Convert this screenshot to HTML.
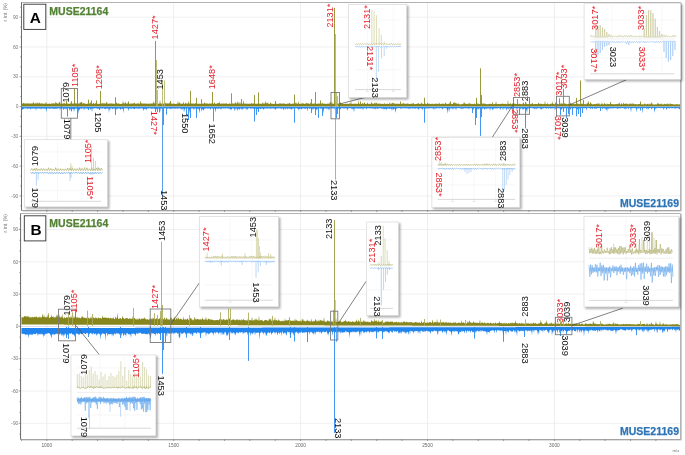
<!DOCTYPE html>
<html><head><meta charset="utf-8"><style>
html,body{margin:0;padding:0;background:#fff;width:685px;height:455px;overflow:hidden;}
svg{display:block;position:absolute;left:0;top:0;will-change:transform;}
text{font-family:"Liberation Sans",sans-serif;}
</style></head><body>
<svg width="685" height="455" viewBox="0 0 685 455" font-family="Liberation Sans, sans-serif">
<defs><filter id="sh" x="-10%" y="-10%" width="130%" height="130%"><feGaussianBlur stdDeviation="0.9"/></filter></defs>
<rect width="685" height="455" fill="#fff"/>
<line x1="46.8" y1="2.5" x2="46.8" y2="210.5" stroke="#e9e9e9" stroke-width="0.8"/>
<line x1="173.7" y1="2.5" x2="173.7" y2="210.5" stroke="#e9e9e9" stroke-width="0.8"/>
<line x1="300.6" y1="2.5" x2="300.6" y2="210.5" stroke="#e9e9e9" stroke-width="0.8"/>
<line x1="427.5" y1="2.5" x2="427.5" y2="210.5" stroke="#e9e9e9" stroke-width="0.8"/>
<line x1="554.4" y1="2.5" x2="554.4" y2="210.5" stroke="#e9e9e9" stroke-width="0.8"/>
<line x1="21.5" y1="17.15" x2="680.5" y2="17.15" stroke="#ececec" stroke-width="0.8"/>
<line x1="21.5" y1="46.95" x2="680.5" y2="46.95" stroke="#ececec" stroke-width="0.8"/>
<line x1="21.5" y1="76.75" x2="680.5" y2="76.75" stroke="#ececec" stroke-width="0.8"/>
<line x1="21.5" y1="136.35" x2="680.5" y2="136.35" stroke="#ececec" stroke-width="0.8"/>
<line x1="21.5" y1="166.15" x2="680.5" y2="166.15" stroke="#ececec" stroke-width="0.8"/>
<line x1="21.5" y1="195.95" x2="680.5" y2="195.95" stroke="#ececec" stroke-width="0.8"/>
<rect x="21.5" y="2.5" width="659" height="208" fill="none" stroke="#a0a0a0" stroke-width="0.8"/>
<line x1="681.4" y1="3.0" x2="681.4" y2="211.0" stroke="#c8c8c8" stroke-width="1"/>
<line x1="22.5" y1="211.5" x2="681.5" y2="211.5" stroke="#e0e0e0" stroke-width="1"/>
<line x1="21.5" y1="2.5" x2="21.5" y2="210.5" stroke="#5c5c5c" stroke-width="0.8"/>
<line x1="21.5" y1="210.5" x2="680.5" y2="210.5" stroke="#a0a0a0" stroke-width="0.8"/>
<line x1="20.2" y1="205.88" x2="21.5" y2="205.88" stroke="#666" stroke-width="0.6"/>
<line x1="19.5" y1="195.95" x2="21.5" y2="195.95" stroke="#666" stroke-width="0.6"/>
<line x1="20.2" y1="186.01" x2="21.5" y2="186.01" stroke="#666" stroke-width="0.6"/>
<line x1="20.2" y1="176.08" x2="21.5" y2="176.08" stroke="#666" stroke-width="0.6"/>
<line x1="19.5" y1="166.15" x2="21.5" y2="166.15" stroke="#666" stroke-width="0.6"/>
<line x1="20.2" y1="156.22" x2="21.5" y2="156.22" stroke="#666" stroke-width="0.6"/>
<line x1="20.2" y1="146.28" x2="21.5" y2="146.28" stroke="#666" stroke-width="0.6"/>
<line x1="19.5" y1="136.35" x2="21.5" y2="136.35" stroke="#666" stroke-width="0.6"/>
<line x1="20.2" y1="126.42" x2="21.5" y2="126.42" stroke="#666" stroke-width="0.6"/>
<line x1="20.2" y1="116.48" x2="21.5" y2="116.48" stroke="#666" stroke-width="0.6"/>
<line x1="19.5" y1="106.55" x2="21.5" y2="106.55" stroke="#666" stroke-width="0.6"/>
<line x1="20.2" y1="96.62" x2="21.5" y2="96.62" stroke="#666" stroke-width="0.6"/>
<line x1="20.2" y1="86.68" x2="21.5" y2="86.68" stroke="#666" stroke-width="0.6"/>
<line x1="19.5" y1="76.75" x2="21.5" y2="76.75" stroke="#666" stroke-width="0.6"/>
<line x1="20.2" y1="66.82" x2="21.5" y2="66.82" stroke="#666" stroke-width="0.6"/>
<line x1="20.2" y1="56.88" x2="21.5" y2="56.88" stroke="#666" stroke-width="0.6"/>
<line x1="19.5" y1="46.95" x2="21.5" y2="46.95" stroke="#666" stroke-width="0.6"/>
<line x1="20.2" y1="37.02" x2="21.5" y2="37.02" stroke="#666" stroke-width="0.6"/>
<line x1="20.2" y1="27.09" x2="21.5" y2="27.09" stroke="#666" stroke-width="0.6"/>
<line x1="19.5" y1="17.15" x2="21.5" y2="17.15" stroke="#666" stroke-width="0.6"/>
<line x1="20.2" y1="7.22" x2="21.5" y2="7.22" stroke="#666" stroke-width="0.6"/>
<text x="18.3" y="18.85" font-size="4.8" fill="#777" text-anchor="end">90</text>
<text x="18.3" y="48.65" font-size="4.8" fill="#777" text-anchor="end">60</text>
<text x="18.3" y="78.45" font-size="4.8" fill="#777" text-anchor="end">30</text>
<text x="18.3" y="108.25" font-size="4.8" fill="#777" text-anchor="end">0</text>
<text x="18.3" y="138.05" font-size="4.8" fill="#777" text-anchor="end">-30</text>
<text x="18.3" y="167.85" font-size="4.8" fill="#777" text-anchor="end">-60</text>
<text x="18.3" y="197.65" font-size="4.8" fill="#777" text-anchor="end">-90</text>
<line x1="46.8" y1="210.5" x2="46.8" y2="212" stroke="#666" stroke-width="0.6"/>
<line x1="72.18" y1="210.5" x2="72.18" y2="212" stroke="#666" stroke-width="0.6"/>
<line x1="97.56" y1="210.5" x2="97.56" y2="212" stroke="#666" stroke-width="0.6"/>
<line x1="122.94" y1="210.5" x2="122.94" y2="212" stroke="#666" stroke-width="0.6"/>
<line x1="148.32" y1="210.5" x2="148.32" y2="212" stroke="#666" stroke-width="0.6"/>
<line x1="173.7" y1="210.5" x2="173.7" y2="212" stroke="#666" stroke-width="0.6"/>
<line x1="199.08" y1="210.5" x2="199.08" y2="212" stroke="#666" stroke-width="0.6"/>
<line x1="224.46" y1="210.5" x2="224.46" y2="212" stroke="#666" stroke-width="0.6"/>
<line x1="249.84" y1="210.5" x2="249.84" y2="212" stroke="#666" stroke-width="0.6"/>
<line x1="275.22" y1="210.5" x2="275.22" y2="212" stroke="#666" stroke-width="0.6"/>
<line x1="300.6" y1="210.5" x2="300.6" y2="212" stroke="#666" stroke-width="0.6"/>
<line x1="325.98" y1="210.5" x2="325.98" y2="212" stroke="#666" stroke-width="0.6"/>
<line x1="351.36" y1="210.5" x2="351.36" y2="212" stroke="#666" stroke-width="0.6"/>
<line x1="376.74" y1="210.5" x2="376.74" y2="212" stroke="#666" stroke-width="0.6"/>
<line x1="402.12" y1="210.5" x2="402.12" y2="212" stroke="#666" stroke-width="0.6"/>
<line x1="427.5" y1="210.5" x2="427.5" y2="212" stroke="#666" stroke-width="0.6"/>
<line x1="452.88" y1="210.5" x2="452.88" y2="212" stroke="#666" stroke-width="0.6"/>
<line x1="478.26" y1="210.5" x2="478.26" y2="212" stroke="#666" stroke-width="0.6"/>
<line x1="503.64" y1="210.5" x2="503.64" y2="212" stroke="#666" stroke-width="0.6"/>
<line x1="529.02" y1="210.5" x2="529.02" y2="212" stroke="#666" stroke-width="0.6"/>
<line x1="554.4" y1="210.5" x2="554.4" y2="212" stroke="#666" stroke-width="0.6"/>
<line x1="579.78" y1="210.5" x2="579.78" y2="212" stroke="#666" stroke-width="0.6"/>
<line x1="605.16" y1="210.5" x2="605.16" y2="212" stroke="#666" stroke-width="0.6"/>
<line x1="630.54" y1="210.5" x2="630.54" y2="212" stroke="#666" stroke-width="0.6"/>
<line x1="655.92" y1="210.5" x2="655.92" y2="212" stroke="#666" stroke-width="0.6"/>
<text transform="translate(7.2,21.5) rotate(-90)" font-size="4.6" fill="#777">r. int. (%)</text>
<polygon points="21.5,103.84 22,103.69 22.5,103.9 23,102.54 23.5,103.27 24,103.25 24.5,103.5 25,103.5 25.5,103.54 26,103.46 26.5,103.34 27,103.87 27.5,103.53 28,103.34 28.5,103.54 29,103.62 29.5,103.5 30,103.68 30.5,103.83 31,102.99 31.5,103.57 32,103.76 32.5,103.28 33,103.61 33.5,101.22 34,103.52 34.5,103.4 35,103.67 35.5,103.48 36,102.55 36.5,103.71 37,103.26 37.5,103.19 38,102.03 38.5,103.93 39,103.46 39.5,102.35 40,103.38 40.5,103.38 41,103.7 41.5,103.28 42,103.28 42.5,103.81 43,103.36 43.5,103.89 44,103.43 44.5,103.72 45,103.67 45.5,103.56 46,101.41 46.5,103.86 47,103.65 47.5,103.77 48,103.77 48.5,103.7 49,103.66 49.5,103.58 50,103.83 50.5,103.72 51,103.88 51.5,103.41 52,103.31 52.5,103.59 53,103.62 53.5,103.29 54,103.36 54.5,103.64 55,103.84 55.5,101.4 56,103.61 56.5,102.62 57,103.45 57.5,103.52 58,103.4 58.5,103.92 59,101.83 59.5,102.17 60,102.62 60.5,103.89 61,103.63 61.5,103.77 62,103.74 62.5,103.42 63,103.67 63.5,103.57 64,102.52 64.5,103.6 65,103.37 65.5,103.71 66,103.77 66.5,103.48 67,103.63 67.5,103.27 68,103.74 68.5,103.62 69,103.95 69.5,103.92 70,103.43 70.5,103.68 71,102.16 71.5,103.44 72,103.6 72.5,103.55 73,103.79 73.5,103.56 74,103.61 74.5,103.49 75,102.31 75.5,103.61 76,103.42 76.5,103.34 77,103.95 77.5,103.48 78,103.63 78.5,103.3 79,103.77 79.5,103.55 80,102.36 80.5,103.33 81,101.8 81.5,103.95 82,101.88 82.5,103.68 83,103.66 83.5,102.8 84,103.6 84.5,103.39 85,103.57 85.5,103.64 86,103.92 86.5,103.72 87,103.77 87.5,103.68 88,103.61 88.5,103.64 89,103.89 89.5,103.34 90,103.59 90.5,101.83 91,103.81 91.5,103.65 92,103.94 92.5,103.96 93,103.36 93.5,102.81 94,103.51 94.5,103.93 95,103.51 95.5,103.51 96,102.43 96.5,103.95 97,103.51 97.5,103.79 98,103.94 98.5,103.78 99,103.94 99.5,103.82 100,103.82 100.5,103.8 101,103.29 101.5,103.67 102,103.26 102.5,103.13 103,103.26 103.5,103.31 104,103.7 104.5,103.4 105,102.87 105.5,103.66 106,103.83 106.5,102.05 107,102.08 107.5,103.72 108,103.78 108.5,103.96 109,103.3 109.5,103.69 110,103.31 110.5,103.42 111,103.71 111.5,103.44 112,102.92 112.5,103.78 113,103.65 113.5,103.49 114,103.88 114.5,103.7 115,103.79 115.5,103.69 116,103.4 116.5,101.99 117,103.52 117.5,103.7 118,103.42 118.5,103.53 119,103.31 119.5,103.96 120,103.75 120.5,103.92 121,103.9 121.5,103.75 122,103.72 122.5,103.71 123,100.03 123.5,103.85 124,102.79 124.5,103.6 125,103.4 125.5,101.36 126,103.7 126.5,103.86 127,103.38 127.5,103.69 128,102.35 128.5,103.44 129,103.53 129.5,103.67 130,103.95 130.5,103.43 131,103.42 131.5,103.61 132,103.43 132.5,103.71 133,103.27 133.5,103.28 134,103.85 134.5,102.21 135,103.87 135.5,103.79 136,103.52 136.5,103.85 137,103.53 137.5,103.57 138,103.53 138.5,103.28 139,103.66 139.5,103.8 140,103.51 140.5,102.64 141,103.88 141.5,102.94 142,103.56 142.5,103.88 143,102.63 143.5,103.79 144,103.66 144.5,103.34 145,103.93 145.5,103.32 146,103.53 146.5,103.77 147,103.97 147.5,103.46 148,103.74 148.5,103.38 149,103.67 149.5,103.53 150,103.97 150.5,103.32 151,103.75 151.5,103.49 152,103.39 152.5,103.47 153,103.54 153.5,101.01 154,103.53 154.5,102.84 155,103.93 155.5,103.9 156,101.76 156.5,103.78 157,103.76 157.5,103.78 158,103.31 158.5,103.96 159,103.74 159.5,103.38 160,99.38 160.5,103.64 161,103.32 161.5,103.63 162,103.49 162.5,103.7 163,103.31 163.5,103.63 164,103.66 164.5,103.53 165,102.07 165.5,103.44 166,103.36 166.5,103.49 167,103.16 167.5,103.85 168,103.11 168.5,103.47 169,103.91 169.5,102.12 170,103.66 170.5,103.35 171,103.69 171.5,103.44 172,103.54 172.5,103.92 173,103.55 173.5,103.55 174,103.86 174.5,103.64 175,103.88 175.5,103.92 176,103.63 176.5,103.7 177,103.71 177.5,103.74 178,100.76 178.5,103.47 179,103.43 179.5,101.83 180,103.83 180.5,103.42 181,103.61 181.5,103.8 182,103.86 182.5,103.66 183,103.74 183.5,101.6 184,103.55 184.5,103.92 185,103.89 185.5,102.15 186,103.44 186.5,103.62 187,103.61 187.5,103.53 188,103.65 188.5,100.78 189,103.7 189.5,103.55 190,103.31 190.5,103.97 191,103.39 191.5,103.46 192,103.61 192.5,103.71 193,103.32 193.5,103.78 194,103.45 194.5,103.96 195,103.35 195.5,103.36 196,103.51 196.5,103.53 197,103.8 197.5,103.74 198,103.82 198.5,103.7 199,103.52 199.5,103.69 200,103.67 200.5,103.85 201,103.92 201.5,103.91 202,103.97 202.5,103.49 203,103.35 203.5,104 204,103.49 204.5,102.6 205,102.72 205.5,103.73 206,103.61 206.5,103.51 207,103.32 207.5,103.71 208,103.58 208.5,104.01 209,103.44 209.5,103.44 210,103.41 210.5,103.76 211,103.48 211.5,103.53 212,103.48 212.5,101.9 213,103.39 213.5,103.88 214,103.61 214.5,101.98 215,103.46 215.5,104 216,103.83 216.5,103.47 217,103.99 217.5,102.86 218,103.38 218.5,102.83 219,103.54 219.5,101.35 220,103.77 220.5,103.98 221,103.32 221.5,103.54 222,103.94 222.5,103.34 223,104.01 223.5,102.93 224,103.92 224.5,103.43 225,103.44 225.5,103.75 226,102.88 226.5,103.43 227,103.8 227.5,103.98 228,103.68 228.5,103.76 229,103.95 229.5,102.92 230,103.78 230.5,103.89 231,103.62 231.5,103.88 232,103.83 232.5,103.45 233,102.69 233.5,103.79 234,104.01 234.5,103.84 235,102.57 235.5,101.89 236,103.76 236.5,103.36 237,103.65 237.5,102.22 238,100.88 238.5,103.52 239,103.83 239.5,103.42 240,101.57 240.5,103.66 241,103.79 241.5,103.34 242,103.44 242.5,103.85 243,103.66 243.5,99.66 244,103.41 244.5,103.84 245,103.38 245.5,103.73 246,103.58 246.5,103.84 247,103.68 247.5,103.86 248,103.63 248.5,103.71 249,103.82 249.5,103.77 250,103.43 250.5,103.84 251,103.92 251.5,102.88 252,103.36 252.5,103.79 253,103.46 253.5,103.51 254,103.4 254.5,103.63 255,103.75 255.5,103.77 256,103.83 256.5,103.81 257,103.73 257.5,103.63 258,103.45 258.5,103.4 259,103.5 259.5,103.68 260,103.63 260.5,103.67 261,103.64 261.5,103.73 262,103.67 262.5,103.36 263,102.04 263.5,103.75 264,103.91 264.5,103.35 265,103.49 265.5,100.39 266,103.66 266.5,103.35 267,102.42 267.5,103.47 268,102.5 268.5,103.93 269,103.64 269.5,104.01 270,103.74 270.5,101.69 271,103.84 271.5,103.39 272,103.9 272.5,103.5 273,103.92 273.5,103.97 274,104.01 274.5,103.92 275,102.91 275.5,103.47 276,103.94 276.5,103.38 277,103.9 277.5,103.87 278,103.88 278.5,103.97 279,103.52 279.5,103.84 280,102.82 280.5,103.81 281,103.39 281.5,103.42 282,103.97 282.5,103.6 283,103.57 283.5,103.62 284,103.56 284.5,103.85 285,103.62 285.5,103.88 286,104.06 286.5,104.03 287,103.67 287.5,103.54 288,103.48 288.5,103.77 289,103.48 289.5,102.72 290,103.45 290.5,103.68 291,103.89 291.5,103.85 292,103.9 292.5,103.82 293,103.01 293.5,103.95 294,103.53 294.5,103.82 295,103.93 295.5,102.91 296,102.08 296.5,103.39 297,103.77 297.5,103.62 298,103.9 298.5,100.96 299,103.96 299.5,103.85 300,103.69 300.5,104.05 301,103.58 301.5,103.73 302,103.27 302.5,103.17 303,103.48 303.5,103.62 304,103.77 304.5,103.96 305,103.84 305.5,103.4 306,103.41 306.5,102.39 307,103.74 307.5,103.46 308,102.88 308.5,103.69 309,103.46 309.5,103.91 310,103.7 310.5,102.55 311,103.48 311.5,104.01 312,102.72 312.5,103.99 313,103.83 313.5,103.79 314,103.69 314.5,102.88 315,104 315.5,103.58 316,103.53 316.5,103.96 317,104.01 317.5,103.89 318,102.4 318.5,104.08 319,103.48 319.5,103.52 320,103.98 320.5,103.67 321,103.68 321.5,103.69 322,102.96 322.5,102.65 323,103.91 323.5,103.4 324,103.65 324.5,103.54 325,103.89 325.5,103.65 326,104.06 326.5,103.76 327,103.86 327.5,103.79 328,103.45 328.5,103.45 329,104.05 329.5,103.56 330,101.97 330.5,101.34 331,103.68 331.5,103.59 332,101.79 332.5,103.73 333,103.96 333.5,103.82 334,103.73 334.5,103.69 335,99.37 335.5,104.04 336,102.69 336.5,103.65 337,103.93 337.5,103.89 338,103.92 338.5,103.15 339,103.42 339.5,103.83 340,103.46 340.5,101.75 341,103.43 341.5,103.55 342,104.04 342.5,103.83 343,103.83 343.5,103.96 344,103.96 344.5,103.91 345,104.01 345.5,103.59 346,103.78 346.5,103.7 347,103.97 347.5,103.52 348,104.1 348.5,104.02 349,103.46 349.5,103.51 350,103.57 350.5,103.96 351,100.16 351.5,104 352,103.78 352.5,103.88 353,103.62 353.5,104.08 354,103.87 354.5,103.65 355,103.85 355.5,103.86 356,103.42 356.5,103.7 357,104.05 357.5,104.1 358,103.75 358.5,100.37 359,103.69 359.5,103.86 360,103.91 360.5,103.71 361,103.63 361.5,104.04 362,103.77 362.5,102.64 363,103.53 363.5,104.05 364,103.58 364.5,101.87 365,103.58 365.5,103.88 366,103.9 366.5,103.74 367,103.92 367.5,101.98 368,103.71 368.5,103.89 369,103.69 369.5,103.74 370,103.65 370.5,104.1 371,103.8 371.5,101.42 372,103.52 372.5,103.57 373,104.12 373.5,103.61 374,104.08 374.5,102.25 375,103.86 375.5,103.54 376,102.12 376.5,103.76 377,102.21 377.5,104.01 378,103.81 378.5,104.02 379,102.87 379.5,103.97 380,103.6 380.5,103.85 381,103.71 381.5,104.03 382,103.81 382.5,104.01 383,104.02 383.5,103.87 384,103.68 384.5,102.99 385,103.77 385.5,104.06 386,104.14 386.5,103.78 387,103.69 387.5,103.47 388,103.92 388.5,104.1 389,103.79 389.5,103.58 390,101.81 390.5,104.13 391,103.65 391.5,103.59 392,103.85 392.5,103.06 393,102.17 393.5,103.84 394,102.75 394.5,103.82 395,104.03 395.5,103.55 396,103.69 396.5,103.93 397,103.55 397.5,103.63 398,103.76 398.5,103.69 399,103.86 399.5,103.89 400,103.67 400.5,104.08 401,103.48 401.5,103.64 402,104.04 402.5,104.12 403,102.16 403.5,103.53 404,103.62 404.5,103.64 405,103.81 405.5,103.64 406,104.05 406.5,103.55 407,103.64 407.5,103.61 408,103.61 408.5,103.64 409,103.9 409.5,104.04 410,103.99 410.5,103.73 411,104.17 411.5,103.52 412,103.77 412.5,103.53 413,103.62 413.5,102.63 414,104.13 414.5,103.94 415,104.15 415.5,103.95 416,103.84 416.5,103.95 417,103.72 417.5,103.58 418,103.7 418.5,102.64 419,104.01 419.5,103.91 420,103.73 420.5,103.72 421,103.63 421.5,102.09 422,104.17 422.5,103.54 423,103.99 423.5,103.93 424,104.07 424.5,103.77 425,102.74 425.5,104.02 426,104.01 426.5,104.19 427,103.56 427.5,102.32 428,104.14 428.5,103.77 429,103.56 429.5,103.65 430,103.85 430.5,104.13 431,103.87 431.5,103.94 432,103.67 432.5,103.69 433,103.7 433.5,104.13 434,104.03 434.5,104.08 435,103.54 435.5,104.18 436,102.68 436.5,104.2 437,103.79 437.5,104.08 438,103.66 438.5,104.21 439,102.34 439.5,103.82 440,103.67 440.5,104.18 441,103.76 441.5,104.1 442,103.72 442.5,103.74 443,103.56 443.5,103.73 444,104.23 444.5,104.05 445,103.54 445.5,102.19 446,103.86 446.5,103.6 447,104.15 447.5,104.07 448,103.94 448.5,103.65 449,103.98 449.5,102.55 450,103.91 450.5,103.61 451,104.16 451.5,103.75 452,104.21 452.5,103.75 453,103.92 453.5,102.11 454,103.67 454.5,102.23 455,102.22 455.5,103.81 456,102.73 456.5,103.69 457,103.63 457.5,103.87 458,103.84 458.5,103.29 459,104.24 459.5,104.17 460,104.18 460.5,104.19 461,104.19 461.5,104.16 462,104.26 462.5,103.9 463,103.81 463.5,103.63 464,102.09 464.5,102.72 465,104.02 465.5,103.58 466,103.68 466.5,104.09 467,103.65 467.5,103.73 468,104.2 468.5,104.01 469,102.6 469.5,103.63 470,103.55 470.5,103.77 471,103.79 471.5,104.1 472,104.13 472.5,103.86 473,104.07 473.5,104.18 474,104.09 474.5,103.25 475,104.21 475.5,104.26 476,103.72 476.5,101.87 477,104.16 477.5,103.83 478,102.57 478.5,104.19 479,103.92 479.5,104.02 480,104.14 480.5,103.96 481,103.7 481.5,104.21 482,103.25 482.5,103.52 483,104.24 483.5,103.68 484,102.58 484.5,104.15 485,103.78 485.5,103.83 486,103.96 486.5,104.28 487,104.14 487.5,104.2 488,103.7 488.5,104.14 489,104.08 489.5,103.78 490,103.83 490.5,103.64 491,104.15 491.5,103.99 492,104.02 492.5,101.24 493,103.81 493.5,104.2 494,104.27 494.5,103.99 495,103.71 495.5,104.03 496,100.63 496.5,103.72 497,104.23 497.5,103.75 498,104.26 498.5,103.83 499,103.95 499.5,103.88 500,104.31 500.5,103.87 501,104.02 501.5,103.65 502,104.07 502.5,103.74 503,103.2 503.5,104.08 504,103.95 504.5,103.65 505,103.88 505.5,103.79 506,103.91 506.5,104.19 507,103.98 507.5,104.14 508,99.47 508.5,104.04 509,103.95 509.5,103.78 510,104.2 510.5,102.84 511,103.78 511.5,104.2 512,104.18 512.5,103.04 513,104.04 513.5,103.39 514,103.91 514.5,103.88 515,103.8 515.5,103.79 516,104.3 516.5,103.68 517,104.21 517.5,103.84 518,103.52 518.5,104.19 519,103.81 519.5,103.7 520,103.9 520.5,103.71 521,104.3 521.5,104.29 522,104.32 522.5,104.14 523,102.7 523.5,102.24 524,103.72 524.5,104.16 525,104.27 525.5,104.12 526,103.67 526.5,103.16 527,103.96 527.5,104.13 528,104.11 528.5,104.29 529,103.92 529.5,103.72 530,103.84 530.5,104.1 531,104.13 531.5,103.78 532,103.85 532.5,102.67 533,103.82 533.5,104.2 534,104.21 534.5,104.05 535,104.16 535.5,103.75 536,103.97 536.5,104.04 537,104.23 537.5,103.89 538,104.08 538.5,102.37 539,103.86 539.5,103.69 540,103.73 540.5,103.87 541,104.28 541.5,103.83 542,103.78 542.5,104.37 543,103.72 543.5,104.29 544,103.97 544.5,104.03 545,100.47 545.5,104.27 546,103.98 546.5,103.9 547,104.36 547.5,102.75 548,103.95 548.5,104.23 549,104.19 549.5,104.18 550,104.09 550.5,104.07 551,102.95 551.5,104.1 552,104.3 552.5,101.29 553,104.1 553.5,103.89 554,103.81 554.5,104.17 555,104.28 555.5,101.74 556,104.04 556.5,104.18 557,104.23 557.5,103.77 558,103.84 558.5,104.37 559,104.37 559.5,103.78 560,104.35 560.5,103.89 561,102.3 561.5,104.13 562,103.08 562.5,103.74 563,104.26 563.5,104.3 564,104.38 564.5,102.54 565,104 565.5,103.82 566,103.54 566.5,103.88 567,104.14 567.5,104.14 568,104 568.5,103.8 569,103.74 569.5,104.25 570,104.09 570.5,102.27 571,104.03 571.5,103.69 572,104.13 572.5,103.98 573,103.98 573.5,103.78 574,103.88 574.5,104.16 575,103.63 575.5,104.07 576,104.18 576.5,103.94 577,103.18 577.5,103.79 578,103.32 578.5,104.12 579,104.3 579.5,103.91 580,104.14 580.5,103.93 581,103.78 581.5,104.07 582,103.14 582.5,103.92 583,104.2 583.5,102.12 584,104.44 584.5,104.02 585,104.21 585.5,103.86 586,104.25 586.5,104.42 587,102.54 587.5,103.99 588,102.23 588.5,100.6 589,104.34 589.5,104.28 590,103.79 590.5,101.93 591,102.89 591.5,104.04 592,104.09 592.5,104.38 593,104.36 593.5,104.19 594,103.71 594.5,104.31 595,103.94 595.5,104.16 596,104.35 596.5,103.18 597,104.31 597.5,103.99 598,102.7 598.5,104.45 599,102.53 599.5,104.18 600,104.49 600.5,104.43 601,104.3 601.5,104.01 602,102.13 602.5,104.15 603,104.29 603.5,104.4 604,104.01 604.5,102.39 605,103.99 605.5,104 606,104.5 606.5,104.39 607,102.89 607.5,104.28 608,104.09 608.5,104.11 609,104.24 609.5,104.31 610,104.04 610.5,104.02 611,103.86 611.5,104.23 612,104 612.5,104.3 613,104.37 613.5,104.04 614,104.47 614.5,104.15 615,104.36 615.5,104 616,104.18 616.5,103.91 617,103.84 617.5,103.92 618,104.22 618.5,103.01 619,104.51 619.5,101.74 620,104.51 620.5,104.39 621,104.12 621.5,103.01 622,103.76 622.5,104.45 623,104.36 623.5,102.35 624,103.84 624.5,103.99 625,103.98 625.5,103.84 626,103.18 626.5,104.05 627,103.2 627.5,103.93 628,104.15 628.5,104.28 629,104.31 629.5,103.88 630,102.75 630.5,103.99 631,104.03 631.5,104.2 632,102.71 632.5,103.78 633,104.46 633.5,102.98 634,104.15 634.5,104.16 635,103.88 635.5,104.06 636,104.37 636.5,104.19 637,104.19 637.5,104.32 638,104.48 638.5,103.93 639,104.01 639.5,104.05 640,104.18 640.5,103.15 641,103.9 641.5,104.4 642,104.42 642.5,104.22 643,104.42 643.5,104.29 644,104.24 644.5,104.07 645,103.11 645.5,104.42 646,104.4 646.5,104.14 647,104.03 647.5,104.11 648,103.27 648.5,104.48 649,104.21 649.5,104.57 650,102.91 650.5,104.37 651,104.13 651.5,102.76 652,102.26 652.5,104.53 653,104.27 653.5,104.51 654,104.52 654.5,104.45 655,104.38 655.5,104.29 656,104.47 656.5,104.14 657,104.43 657.5,102.58 658,104.16 658.5,102.97 659,104.14 659.5,104.38 660,103.56 660.5,104.04 661,104.59 661.5,103.33 662,104.4 662.5,104.45 663,104.03 663.5,104.54 664,104.31 664.5,103.4 665,104.22 665.5,103.98 666,104.57 666.5,104.12 667,103.83 667.5,103.21 668,104.59 668.5,104.34 669,103.19 669.5,104.28 670,104.42 670.5,103.08 671,104.28 671.5,104.01 672,103.94 672.5,104.2 673,104.07 673.5,104.51 674,104.31 674.5,104.56 675,104.61 675.5,104.38 676,104.36 676.5,103.98 677,104.32 677.5,104.14 678,104.46 678.5,104.39 679,104.18 679.5,104.41 680,104.05 680,106.55 679.5,106.55 679,106.55 678.5,106.55 678,106.55 677.5,106.55 677,106.55 676.5,106.55 676,106.55 675.5,106.55 675,106.55 674.5,106.55 674,106.55 673.5,106.55 673,106.55 672.5,106.55 672,106.55 671.5,106.55 671,106.55 670.5,106.55 670,106.55 669.5,106.55 669,106.55 668.5,106.55 668,106.55 667.5,106.55 667,106.55 666.5,106.55 666,106.55 665.5,106.55 665,106.55 664.5,106.55 664,106.55 663.5,106.55 663,106.55 662.5,106.55 662,106.55 661.5,106.55 661,106.55 660.5,106.55 660,106.55 659.5,106.55 659,106.55 658.5,106.55 658,106.55 657.5,106.55 657,106.55 656.5,106.55 656,106.55 655.5,106.55 655,106.55 654.5,106.55 654,106.55 653.5,106.55 653,106.55 652.5,106.55 652,106.55 651.5,106.55 651,106.55 650.5,106.55 650,106.55 649.5,106.55 649,106.55 648.5,106.55 648,106.55 647.5,106.55 647,106.55 646.5,106.55 646,106.55 645.5,106.55 645,106.55 644.5,106.55 644,106.55 643.5,106.55 643,106.55 642.5,106.55 642,106.55 641.5,106.55 641,106.55 640.5,106.55 640,106.55 639.5,106.55 639,106.55 638.5,106.55 638,106.55 637.5,106.55 637,106.55 636.5,106.55 636,106.55 635.5,106.55 635,106.55 634.5,106.55 634,106.55 633.5,106.55 633,106.55 632.5,106.55 632,106.55 631.5,106.55 631,106.55 630.5,106.55 630,106.55 629.5,106.55 629,106.55 628.5,106.55 628,106.55 627.5,106.55 627,106.55 626.5,106.55 626,106.55 625.5,106.55 625,106.55 624.5,106.55 624,106.55 623.5,106.55 623,106.55 622.5,106.55 622,106.55 621.5,106.55 621,106.55 620.5,106.55 620,106.55 619.5,106.55 619,106.55 618.5,106.55 618,106.55 617.5,106.55 617,106.55 616.5,106.55 616,106.55 615.5,106.55 615,106.55 614.5,106.55 614,106.55 613.5,106.55 613,106.55 612.5,106.55 612,106.55 611.5,106.55 611,106.55 610.5,106.55 610,106.55 609.5,106.55 609,106.55 608.5,106.55 608,106.55 607.5,106.55 607,106.55 606.5,106.55 606,106.55 605.5,106.55 605,106.55 604.5,106.55 604,106.55 603.5,106.55 603,106.55 602.5,106.55 602,106.55 601.5,106.55 601,106.55 600.5,106.55 600,106.55 599.5,106.55 599,106.55 598.5,106.55 598,106.55 597.5,106.55 597,106.55 596.5,106.55 596,106.55 595.5,106.55 595,106.55 594.5,106.55 594,106.55 593.5,106.55 593,106.55 592.5,106.55 592,106.55 591.5,106.55 591,106.55 590.5,106.55 590,106.55 589.5,106.55 589,106.55 588.5,106.55 588,106.55 587.5,106.55 587,106.55 586.5,106.55 586,106.55 585.5,106.55 585,106.55 584.5,106.55 584,106.55 583.5,106.55 583,106.55 582.5,106.55 582,106.55 581.5,106.55 581,106.55 580.5,106.55 580,106.55 579.5,106.55 579,106.55 578.5,106.55 578,106.55 577.5,106.55 577,106.55 576.5,106.55 576,106.55 575.5,106.55 575,106.55 574.5,106.55 574,106.55 573.5,106.55 573,106.55 572.5,106.55 572,106.55 571.5,106.55 571,106.55 570.5,106.55 570,106.55 569.5,106.55 569,106.55 568.5,106.55 568,106.55 567.5,106.55 567,106.55 566.5,106.55 566,106.55 565.5,106.55 565,106.55 564.5,106.55 564,106.55 563.5,106.55 563,106.55 562.5,106.55 562,106.55 561.5,106.55 561,106.55 560.5,106.55 560,106.55 559.5,106.55 559,106.55 558.5,106.55 558,106.55 557.5,106.55 557,106.55 556.5,106.55 556,106.55 555.5,106.55 555,106.55 554.5,106.55 554,106.55 553.5,106.55 553,106.55 552.5,106.55 552,106.55 551.5,106.55 551,106.55 550.5,106.55 550,106.55 549.5,106.55 549,106.55 548.5,106.55 548,106.55 547.5,106.55 547,106.55 546.5,106.55 546,106.55 545.5,106.55 545,106.55 544.5,106.55 544,106.55 543.5,106.55 543,106.55 542.5,106.55 542,106.55 541.5,106.55 541,106.55 540.5,106.55 540,106.55 539.5,106.55 539,106.55 538.5,106.55 538,106.55 537.5,106.55 537,106.55 536.5,106.55 536,106.55 535.5,106.55 535,106.55 534.5,106.55 534,106.55 533.5,106.55 533,106.55 532.5,106.55 532,106.55 531.5,106.55 531,106.55 530.5,106.55 530,106.55 529.5,106.55 529,106.55 528.5,106.55 528,106.55 527.5,106.55 527,106.55 526.5,106.55 526,106.55 525.5,106.55 525,106.55 524.5,106.55 524,106.55 523.5,106.55 523,106.55 522.5,106.55 522,106.55 521.5,106.55 521,106.55 520.5,106.55 520,106.55 519.5,106.55 519,106.55 518.5,106.55 518,106.55 517.5,106.55 517,106.55 516.5,106.55 516,106.55 515.5,106.55 515,106.55 514.5,106.55 514,106.55 513.5,106.55 513,106.55 512.5,106.55 512,106.55 511.5,106.55 511,106.55 510.5,106.55 510,106.55 509.5,106.55 509,106.55 508.5,106.55 508,106.55 507.5,106.55 507,106.55 506.5,106.55 506,106.55 505.5,106.55 505,106.55 504.5,106.55 504,106.55 503.5,106.55 503,106.55 502.5,106.55 502,106.55 501.5,106.55 501,106.55 500.5,106.55 500,106.55 499.5,106.55 499,106.55 498.5,106.55 498,106.55 497.5,106.55 497,106.55 496.5,106.55 496,106.55 495.5,106.55 495,106.55 494.5,106.55 494,106.55 493.5,106.55 493,106.55 492.5,106.55 492,106.55 491.5,106.55 491,106.55 490.5,106.55 490,106.55 489.5,106.55 489,106.55 488.5,106.55 488,106.55 487.5,106.55 487,106.55 486.5,106.55 486,106.55 485.5,106.55 485,106.55 484.5,106.55 484,106.55 483.5,106.55 483,106.55 482.5,106.55 482,106.55 481.5,106.55 481,106.55 480.5,106.55 480,106.55 479.5,106.55 479,106.55 478.5,106.55 478,106.55 477.5,106.55 477,106.55 476.5,106.55 476,106.55 475.5,106.55 475,106.55 474.5,106.55 474,106.55 473.5,106.55 473,106.55 472.5,106.55 472,106.55 471.5,106.55 471,106.55 470.5,106.55 470,106.55 469.5,106.55 469,106.55 468.5,106.55 468,106.55 467.5,106.55 467,106.55 466.5,106.55 466,106.55 465.5,106.55 465,106.55 464.5,106.55 464,106.55 463.5,106.55 463,106.55 462.5,106.55 462,106.55 461.5,106.55 461,106.55 460.5,106.55 460,106.55 459.5,106.55 459,106.55 458.5,106.55 458,106.55 457.5,106.55 457,106.55 456.5,106.55 456,106.55 455.5,106.55 455,106.55 454.5,106.55 454,106.55 453.5,106.55 453,106.55 452.5,106.55 452,106.55 451.5,106.55 451,106.55 450.5,106.55 450,106.55 449.5,106.55 449,106.55 448.5,106.55 448,106.55 447.5,106.55 447,106.55 446.5,106.55 446,106.55 445.5,106.55 445,106.55 444.5,106.55 444,106.55 443.5,106.55 443,106.55 442.5,106.55 442,106.55 441.5,106.55 441,106.55 440.5,106.55 440,106.55 439.5,106.55 439,106.55 438.5,106.55 438,106.55 437.5,106.55 437,106.55 436.5,106.55 436,106.55 435.5,106.55 435,106.55 434.5,106.55 434,106.55 433.5,106.55 433,106.55 432.5,106.55 432,106.55 431.5,106.55 431,106.55 430.5,106.55 430,106.55 429.5,106.55 429,106.55 428.5,106.55 428,106.55 427.5,106.55 427,106.55 426.5,106.55 426,106.55 425.5,106.55 425,106.55 424.5,106.55 424,106.55 423.5,106.55 423,106.55 422.5,106.55 422,106.55 421.5,106.55 421,106.55 420.5,106.55 420,106.55 419.5,106.55 419,106.55 418.5,106.55 418,106.55 417.5,106.55 417,106.55 416.5,106.55 416,106.55 415.5,106.55 415,106.55 414.5,106.55 414,106.55 413.5,106.55 413,106.55 412.5,106.55 412,106.55 411.5,106.55 411,106.55 410.5,106.55 410,106.55 409.5,106.55 409,106.55 408.5,106.55 408,106.55 407.5,106.55 407,106.55 406.5,106.55 406,106.55 405.5,106.55 405,106.55 404.5,106.55 404,106.55 403.5,106.55 403,106.55 402.5,106.55 402,106.55 401.5,106.55 401,106.55 400.5,106.55 400,106.55 399.5,106.55 399,106.55 398.5,106.55 398,106.55 397.5,106.55 397,106.55 396.5,106.55 396,106.55 395.5,106.55 395,106.55 394.5,106.55 394,106.55 393.5,106.55 393,106.55 392.5,106.55 392,106.55 391.5,106.55 391,106.55 390.5,106.55 390,106.55 389.5,106.55 389,106.55 388.5,106.55 388,106.55 387.5,106.55 387,106.55 386.5,106.55 386,106.55 385.5,106.55 385,106.55 384.5,106.55 384,106.55 383.5,106.55 383,106.55 382.5,106.55 382,106.55 381.5,106.55 381,106.55 380.5,106.55 380,106.55 379.5,106.55 379,106.55 378.5,106.55 378,106.55 377.5,106.55 377,106.55 376.5,106.55 376,106.55 375.5,106.55 375,106.55 374.5,106.55 374,106.55 373.5,106.55 373,106.55 372.5,106.55 372,106.55 371.5,106.55 371,106.55 370.5,106.55 370,106.55 369.5,106.55 369,106.55 368.5,106.55 368,106.55 367.5,106.55 367,106.55 366.5,106.55 366,106.55 365.5,106.55 365,106.55 364.5,106.55 364,106.55 363.5,106.55 363,106.55 362.5,106.55 362,106.55 361.5,106.55 361,106.55 360.5,106.55 360,106.55 359.5,106.55 359,106.55 358.5,106.55 358,106.55 357.5,106.55 357,106.55 356.5,106.55 356,106.55 355.5,106.55 355,106.55 354.5,106.55 354,106.55 353.5,106.55 353,106.55 352.5,106.55 352,106.55 351.5,106.55 351,106.55 350.5,106.55 350,106.55 349.5,106.55 349,106.55 348.5,106.55 348,106.55 347.5,106.55 347,106.55 346.5,106.55 346,106.55 345.5,106.55 345,106.55 344.5,106.55 344,106.55 343.5,106.55 343,106.55 342.5,106.55 342,106.55 341.5,106.55 341,106.55 340.5,106.55 340,106.55 339.5,106.55 339,106.55 338.5,106.55 338,106.55 337.5,106.55 337,106.55 336.5,106.55 336,106.55 335.5,106.55 335,106.55 334.5,106.55 334,106.55 333.5,106.55 333,106.55 332.5,106.55 332,106.55 331.5,106.55 331,106.55 330.5,106.55 330,106.55 329.5,106.55 329,106.55 328.5,106.55 328,106.55 327.5,106.55 327,106.55 326.5,106.55 326,106.55 325.5,106.55 325,106.55 324.5,106.55 324,106.55 323.5,106.55 323,106.55 322.5,106.55 322,106.55 321.5,106.55 321,106.55 320.5,106.55 320,106.55 319.5,106.55 319,106.55 318.5,106.55 318,106.55 317.5,106.55 317,106.55 316.5,106.55 316,106.55 315.5,106.55 315,106.55 314.5,106.55 314,106.55 313.5,106.55 313,106.55 312.5,106.55 312,106.55 311.5,106.55 311,106.55 310.5,106.55 310,106.55 309.5,106.55 309,106.55 308.5,106.55 308,106.55 307.5,106.55 307,106.55 306.5,106.55 306,106.55 305.5,106.55 305,106.55 304.5,106.55 304,106.55 303.5,106.55 303,106.55 302.5,106.55 302,106.55 301.5,106.55 301,106.55 300.5,106.55 300,106.55 299.5,106.55 299,106.55 298.5,106.55 298,106.55 297.5,106.55 297,106.55 296.5,106.55 296,106.55 295.5,106.55 295,106.55 294.5,106.55 294,106.55 293.5,106.55 293,106.55 292.5,106.55 292,106.55 291.5,106.55 291,106.55 290.5,106.55 290,106.55 289.5,106.55 289,106.55 288.5,106.55 288,106.55 287.5,106.55 287,106.55 286.5,106.55 286,106.55 285.5,106.55 285,106.55 284.5,106.55 284,106.55 283.5,106.55 283,106.55 282.5,106.55 282,106.55 281.5,106.55 281,106.55 280.5,106.55 280,106.55 279.5,106.55 279,106.55 278.5,106.55 278,106.55 277.5,106.55 277,106.55 276.5,106.55 276,106.55 275.5,106.55 275,106.55 274.5,106.55 274,106.55 273.5,106.55 273,106.55 272.5,106.55 272,106.55 271.5,106.55 271,106.55 270.5,106.55 270,106.55 269.5,106.55 269,106.55 268.5,106.55 268,106.55 267.5,106.55 267,106.55 266.5,106.55 266,106.55 265.5,106.55 265,106.55 264.5,106.55 264,106.55 263.5,106.55 263,106.55 262.5,106.55 262,106.55 261.5,106.55 261,106.55 260.5,106.55 260,106.55 259.5,106.55 259,106.55 258.5,106.55 258,106.55 257.5,106.55 257,106.55 256.5,106.55 256,106.55 255.5,106.55 255,106.55 254.5,106.55 254,106.55 253.5,106.55 253,106.55 252.5,106.55 252,106.55 251.5,106.55 251,106.55 250.5,106.55 250,106.55 249.5,106.55 249,106.55 248.5,106.55 248,106.55 247.5,106.55 247,106.55 246.5,106.55 246,106.55 245.5,106.55 245,106.55 244.5,106.55 244,106.55 243.5,106.55 243,106.55 242.5,106.55 242,106.55 241.5,106.55 241,106.55 240.5,106.55 240,106.55 239.5,106.55 239,106.55 238.5,106.55 238,106.55 237.5,106.55 237,106.55 236.5,106.55 236,106.55 235.5,106.55 235,106.55 234.5,106.55 234,106.55 233.5,106.55 233,106.55 232.5,106.55 232,106.55 231.5,106.55 231,106.55 230.5,106.55 230,106.55 229.5,106.55 229,106.55 228.5,106.55 228,106.55 227.5,106.55 227,106.55 226.5,106.55 226,106.55 225.5,106.55 225,106.55 224.5,106.55 224,106.55 223.5,106.55 223,106.55 222.5,106.55 222,106.55 221.5,106.55 221,106.55 220.5,106.55 220,106.55 219.5,106.55 219,106.55 218.5,106.55 218,106.55 217.5,106.55 217,106.55 216.5,106.55 216,106.55 215.5,106.55 215,106.55 214.5,106.55 214,106.55 213.5,106.55 213,106.55 212.5,106.55 212,106.55 211.5,106.55 211,106.55 210.5,106.55 210,106.55 209.5,106.55 209,106.55 208.5,106.55 208,106.55 207.5,106.55 207,106.55 206.5,106.55 206,106.55 205.5,106.55 205,106.55 204.5,106.55 204,106.55 203.5,106.55 203,106.55 202.5,106.55 202,106.55 201.5,106.55 201,106.55 200.5,106.55 200,106.55 199.5,106.55 199,106.55 198.5,106.55 198,106.55 197.5,106.55 197,106.55 196.5,106.55 196,106.55 195.5,106.55 195,106.55 194.5,106.55 194,106.55 193.5,106.55 193,106.55 192.5,106.55 192,106.55 191.5,106.55 191,106.55 190.5,106.55 190,106.55 189.5,106.55 189,106.55 188.5,106.55 188,106.55 187.5,106.55 187,106.55 186.5,106.55 186,106.55 185.5,106.55 185,106.55 184.5,106.55 184,106.55 183.5,106.55 183,106.55 182.5,106.55 182,106.55 181.5,106.55 181,106.55 180.5,106.55 180,106.55 179.5,106.55 179,106.55 178.5,106.55 178,106.55 177.5,106.55 177,106.55 176.5,106.55 176,106.55 175.5,106.55 175,106.55 174.5,106.55 174,106.55 173.5,106.55 173,106.55 172.5,106.55 172,106.55 171.5,106.55 171,106.55 170.5,106.55 170,106.55 169.5,106.55 169,106.55 168.5,106.55 168,106.55 167.5,106.55 167,106.55 166.5,106.55 166,106.55 165.5,106.55 165,106.55 164.5,106.55 164,106.55 163.5,106.55 163,106.55 162.5,106.55 162,106.55 161.5,106.55 161,106.55 160.5,106.55 160,106.55 159.5,106.55 159,106.55 158.5,106.55 158,106.55 157.5,106.55 157,106.55 156.5,106.55 156,106.55 155.5,106.55 155,106.55 154.5,106.55 154,106.55 153.5,106.55 153,106.55 152.5,106.55 152,106.55 151.5,106.55 151,106.55 150.5,106.55 150,106.55 149.5,106.55 149,106.55 148.5,106.55 148,106.55 147.5,106.55 147,106.55 146.5,106.55 146,106.55 145.5,106.55 145,106.55 144.5,106.55 144,106.55 143.5,106.55 143,106.55 142.5,106.55 142,106.55 141.5,106.55 141,106.55 140.5,106.55 140,106.55 139.5,106.55 139,106.55 138.5,106.55 138,106.55 137.5,106.55 137,106.55 136.5,106.55 136,106.55 135.5,106.55 135,106.55 134.5,106.55 134,106.55 133.5,106.55 133,106.55 132.5,106.55 132,106.55 131.5,106.55 131,106.55 130.5,106.55 130,106.55 129.5,106.55 129,106.55 128.5,106.55 128,106.55 127.5,106.55 127,106.55 126.5,106.55 126,106.55 125.5,106.55 125,106.55 124.5,106.55 124,106.55 123.5,106.55 123,106.55 122.5,106.55 122,106.55 121.5,106.55 121,106.55 120.5,106.55 120,106.55 119.5,106.55 119,106.55 118.5,106.55 118,106.55 117.5,106.55 117,106.55 116.5,106.55 116,106.55 115.5,106.55 115,106.55 114.5,106.55 114,106.55 113.5,106.55 113,106.55 112.5,106.55 112,106.55 111.5,106.55 111,106.55 110.5,106.55 110,106.55 109.5,106.55 109,106.55 108.5,106.55 108,106.55 107.5,106.55 107,106.55 106.5,106.55 106,106.55 105.5,106.55 105,106.55 104.5,106.55 104,106.55 103.5,106.55 103,106.55 102.5,106.55 102,106.55 101.5,106.55 101,106.55 100.5,106.55 100,106.55 99.5,106.55 99,106.55 98.5,106.55 98,106.55 97.5,106.55 97,106.55 96.5,106.55 96,106.55 95.5,106.55 95,106.55 94.5,106.55 94,106.55 93.5,106.55 93,106.55 92.5,106.55 92,106.55 91.5,106.55 91,106.55 90.5,106.55 90,106.55 89.5,106.55 89,106.55 88.5,106.55 88,106.55 87.5,106.55 87,106.55 86.5,106.55 86,106.55 85.5,106.55 85,106.55 84.5,106.55 84,106.55 83.5,106.55 83,106.55 82.5,106.55 82,106.55 81.5,106.55 81,106.55 80.5,106.55 80,106.55 79.5,106.55 79,106.55 78.5,106.55 78,106.55 77.5,106.55 77,106.55 76.5,106.55 76,106.55 75.5,106.55 75,106.55 74.5,106.55 74,106.55 73.5,106.55 73,106.55 72.5,106.55 72,106.55 71.5,106.55 71,106.55 70.5,106.55 70,106.55 69.5,106.55 69,106.55 68.5,106.55 68,106.55 67.5,106.55 67,106.55 66.5,106.55 66,106.55 65.5,106.55 65,106.55 64.5,106.55 64,106.55 63.5,106.55 63,106.55 62.5,106.55 62,106.55 61.5,106.55 61,106.55 60.5,106.55 60,106.55 59.5,106.55 59,106.55 58.5,106.55 58,106.55 57.5,106.55 57,106.55 56.5,106.55 56,106.55 55.5,106.55 55,106.55 54.5,106.55 54,106.55 53.5,106.55 53,106.55 52.5,106.55 52,106.55 51.5,106.55 51,106.55 50.5,106.55 50,106.55 49.5,106.55 49,106.55 48.5,106.55 48,106.55 47.5,106.55 47,106.55 46.5,106.55 46,106.55 45.5,106.55 45,106.55 44.5,106.55 44,106.55 43.5,106.55 43,106.55 42.5,106.55 42,106.55 41.5,106.55 41,106.55 40.5,106.55 40,106.55 39.5,106.55 39,106.55 38.5,106.55 38,106.55 37.5,106.55 37,106.55 36.5,106.55 36,106.55 35.5,106.55 35,106.55 34.5,106.55 34,106.55 33.5,106.55 33,106.55 32.5,106.55 32,106.55 31.5,106.55 31,106.55 30.5,106.55 30,106.55 29.5,106.55 29,106.55 28.5,106.55 28,106.55 27.5,106.55 27,106.55 26.5,106.55 26,106.55 25.5,106.55 25,106.55 24.5,106.55 24,106.55 23.5,106.55 23,106.55 22.5,106.55 22,106.55 21.5,106.55" fill="#86861c"/>
<polygon points="21.5,108.2 22,108.59 22.5,110.27 23,108.55 23.5,109.39 24,108.28 24.5,108.53 25,108.45 25.5,108.36 26,108.55 26.5,108.35 27,108.68 27.5,108.69 28,108.64 28.5,108.74 29,108.19 29.5,108.73 30,108.17 30.5,109.88 31,108.21 31.5,108.72 32,108.4 32.5,108.78 33,108.33 33.5,108.63 34,108.19 34.5,108.71 35,108.73 35.5,108.19 36,110.71 36.5,108.24 37,108.49 37.5,108.73 38,108.25 38.5,108.83 39,108.41 39.5,108.38 40,108.75 40.5,108.31 41,109.82 41.5,108.81 42,108.3 42.5,108.59 43,108.61 43.5,108.79 44,108.27 44.5,108.83 45,108.66 45.5,108.71 46,108.39 46.5,112.36 47,108.73 47.5,108.32 48,108.24 48.5,108.56 49,108.5 49.5,108.88 50,108.66 50.5,108.54 51,108.32 51.5,108.54 52,108.58 52.5,108.47 53,108.64 53.5,108.54 54,109.21 54.5,108.7 55,108.61 55.5,108.82 56,108.73 56.5,108.29 57,109.58 57.5,108.19 58,108.22 58.5,108.34 59,108.33 59.5,108.21 60,110.2 60.5,108.2 61,108.54 61.5,109.04 62,108.37 62.5,108.5 63,108.16 63.5,110.54 64,108.73 64.5,108.84 65,108.59 65.5,108.39 66,110.06 66.5,108.32 67,109.04 67.5,108.32 68,108.15 68.5,108.29 69,108.21 69.5,111.22 70,108.65 70.5,108.84 71,110.69 71.5,108.25 72,108.71 72.5,108.63 73,109.45 73.5,108.59 74,112.36 74.5,109.22 75,108.67 75.5,108.48 76,108.6 76.5,108.36 77,109.81 77.5,108.51 78,109.21 78.5,114.14 79,108.81 79.5,110.61 80,108.64 80.5,108.16 81,109.08 81.5,108.73 82,108.35 82.5,108.56 83,108.18 83.5,108.32 84,110.51 84.5,108.79 85,108.18 85.5,108.6 86,108.24 86.5,108.66 87,108.36 87.5,108.72 88,108.78 88.5,108.48 89,108.33 89.5,108.43 90,108.38 90.5,109.88 91,108.32 91.5,108.74 92,112.51 92.5,108.79 93,108.32 93.5,108.8 94,108.47 94.5,108.31 95,108.23 95.5,108.22 96,108.3 96.5,108.47 97,108.48 97.5,108.64 98,108.62 98.5,108.79 99,108.44 99.5,108.66 100,108.36 100.5,108.68 101,108.28 101.5,108.81 102,108.24 102.5,108.76 103,108.37 103.5,108.17 104,108.38 104.5,108.81 105,108.72 105.5,109.29 106,108.77 106.5,108.17 107,108.67 107.5,108.81 108,108.36 108.5,108.78 109,113.18 109.5,108.44 110,110.33 110.5,108.37 111,108.2 111.5,108.19 112,108.76 112.5,109.31 113,108.43 113.5,108.74 114,108.35 114.5,108.28 115,110.03 115.5,108.5 116,108.84 116.5,108.78 117,110.11 117.5,108.46 118,108.22 118.5,108.4 119,108.6 119.5,108.62 120,108.7 120.5,109.63 121,109.53 121.5,108.36 122,108.75 122.5,109.1 123,108.76 123.5,113.58 124,108.24 124.5,108.22 125,108.28 125.5,108.18 126,108.57 126.5,108.3 127,108.27 127.5,108.41 128,108.17 128.5,111.38 129,108.43 129.5,108.45 130,108.48 130.5,108.46 131,108.64 131.5,108.77 132,108.18 132.5,108.23 133,108.71 133.5,108.81 134,108.79 134.5,109.37 135,108.78 135.5,108.36 136,108.61 136.5,108.22 137,108.75 137.5,108.21 138,108.7 138.5,108.39 139,108.76 139.5,108.83 140,108.14 140.5,108.5 141,108.59 141.5,108.29 142,108.57 142.5,108.31 143,108.68 143.5,111.23 144,108.65 144.5,109.4 145,108.14 145.5,109.61 146,108.26 146.5,110.48 147,108.66 147.5,108.29 148,108.66 148.5,108.32 149,108.5 149.5,108.29 150,108.3 150.5,108.36 151,108.77 151.5,108.82 152,108.73 152.5,108.35 153,109.09 153.5,108.25 154,108.65 154.5,108.71 155,108.77 155.5,108.21 156,108.71 156.5,109.87 157,108.15 157.5,108.39 158,108.73 158.5,108.44 159,108.51 159.5,109.08 160,112.74 160.5,108.71 161,108.28 161.5,108.76 162,108.57 162.5,108.75 163,108.32 163.5,108.75 164,108.66 164.5,108.36 165,108.25 165.5,108.22 166,108.26 166.5,108.24 167,108.24 167.5,108.64 168,108.82 168.5,108.27 169,108.4 169.5,108.48 170,109.44 170.5,108.53 171,108.63 171.5,108.73 172,108.35 172.5,108.68 173,108.43 173.5,108.6 174,108.67 174.5,108.16 175,108.79 175.5,108.51 176,108.71 176.5,108.27 177,108.21 177.5,109.2 178,108.31 178.5,108.5 179,108.28 179.5,108.46 180,108.37 180.5,108.45 181,109.49 181.5,108.3 182,110.23 182.5,108.57 183,108.72 183.5,108.22 184,112.85 184.5,110 185,108.68 185.5,108.59 186,108.26 186.5,108.43 187,108.29 187.5,108.23 188,108.73 188.5,108.71 189,108.18 189.5,113.78 190,108.46 190.5,108.56 191,108.46 191.5,108.43 192,108.33 192.5,108.31 193,108.68 193.5,108.53 194,110.58 194.5,108.13 195,108.58 195.5,108.55 196,108.6 196.5,108.66 197,108.76 197.5,108.67 198,108.42 198.5,108.77 199,109.95 199.5,113.44 200,108.19 200.5,108.14 201,108.18 201.5,112.09 202,108.62 202.5,110.12 203,108.79 203.5,110.69 204,109.79 204.5,108.59 205,108.56 205.5,108.78 206,108.16 206.5,108.35 207,108.54 207.5,108.38 208,108.68 208.5,108.41 209,108.15 209.5,108.52 210,108.6 210.5,110.26 211,108.28 211.5,108.26 212,108.44 212.5,108.52 213,108.45 213.5,109.78 214,108.48 214.5,108.19 215,109.29 215.5,112.66 216,108.41 216.5,108.79 217,108.24 217.5,108.44 218,109.41 218.5,108.56 219,108.43 219.5,108.14 220,108.75 220.5,108.61 221,109.88 221.5,108.53 222,108.29 222.5,108.21 223,108.25 223.5,108.72 224,108.18 224.5,108.43 225,108.55 225.5,108.5 226,108.22 226.5,108.23 227,108.19 227.5,108.58 228,108.29 228.5,108.81 229,108.74 229.5,108.12 230,109.94 230.5,108.75 231,109.93 231.5,109.51 232,108.54 232.5,108.25 233,108.15 233.5,108.71 234,108.44 234.5,109.5 235,111.52 235.5,108.33 236,108.15 236.5,108.47 237,110.01 237.5,110.49 238,108.18 238.5,109.28 239,108.69 239.5,110.15 240,108.4 240.5,108.76 241,108.34 241.5,108.74 242,110.57 242.5,108.55 243,109.52 243.5,108.55 244,108.13 244.5,108.3 245,108.28 245.5,108.3 246,110.62 246.5,108.48 247,108.39 247.5,110.33 248,108.24 248.5,108.53 249,108.26 249.5,108.11 250,108.49 250.5,108.31 251,109.68 251.5,108.18 252,108.21 252.5,108.53 253,108.62 253.5,108.65 254,108.72 254.5,108.77 255,108.71 255.5,108.42 256,108.49 256.5,108.69 257,108.63 257.5,109.46 258,108.24 258.5,111.36 259,108.8 259.5,108.37 260,108.76 260.5,109.24 261,108.77 261.5,108.79 262,108.22 262.5,108.46 263,108.79 263.5,109.42 264,109.86 264.5,108.13 265,108.58 265.5,108.23 266,108.55 266.5,108.38 267,108.54 267.5,108.66 268,108.59 268.5,108.16 269,108.41 269.5,108.5 270,108.27 270.5,108.72 271,108.76 271.5,108.37 272,108.7 272.5,108.21 273,108.3 273.5,108.36 274,109.44 274.5,108.26 275,108.79 275.5,110.24 276,108.6 276.5,108.76 277,108.18 277.5,108.5 278,108.24 278.5,108.47 279,108.55 279.5,108.15 280,108.16 280.5,108.3 281,109.21 281.5,108.71 282,108.11 282.5,108.38 283,108.68 283.5,110.18 284,108.47 284.5,108.11 285,109.93 285.5,108.56 286,108.63 286.5,108.51 287,108.23 287.5,109.44 288,108.15 288.5,108.57 289,108.4 289.5,108.73 290,108.65 290.5,108.53 291,109.24 291.5,110.05 292,108.39 292.5,108.7 293,108.47 293.5,108.5 294,108.16 294.5,108.12 295,108.39 295.5,108.2 296,108.14 296.5,108.16 297,108.48 297.5,108.73 298,108.18 298.5,110.39 299,108.66 299.5,109.36 300,108.66 300.5,108.52 301,108.74 301.5,109.57 302,108.76 302.5,108.59 303,108.37 303.5,108.37 304,108.65 304.5,108.39 305,108.85 305.5,108.68 306,108.64 306.5,108.47 307,108.28 307.5,111.49 308,108.37 308.5,108.15 309,108.15 309.5,109 310,108.47 310.5,108.52 311,108.57 311.5,108.58 312,109.98 312.5,108.11 313,110.16 313.5,108.51 314,108.68 314.5,108.55 315,108.59 315.5,108.71 316,110.2 316.5,108.66 317,110.65 317.5,108.34 318,108.63 318.5,108.17 319,108.09 319.5,108.34 320,108.34 320.5,108.77 321,108.98 321.5,108.31 322,108.76 322.5,108.26 323,108.44 323.5,113.64 324,108.32 324.5,108.72 325,108.58 325.5,108.45 326,108.29 326.5,108.23 327,109.99 327.5,108.28 328,108.57 328.5,108.71 329,110.64 329.5,108.67 330,108.24 330.5,108.34 331,108.52 331.5,108.48 332,108.16 332.5,108.51 333,108.59 333.5,108.3 334,108.29 334.5,108.38 335,110.08 335.5,109.85 336,108.47 336.5,108.29 337,108.59 337.5,108.74 338,108.72 338.5,108.6 339,108.59 339.5,109.63 340,108.16 340.5,109.79 341,108.5 341.5,108.28 342,108.1 342.5,108.1 343,108.72 343.5,108.24 344,108.59 344.5,108.21 345,108.66 345.5,108.25 346,108.17 346.5,108.46 347,108.3 347.5,110.85 348,108.75 348.5,108.12 349,108.69 349.5,108.07 350,108.08 350.5,108.12 351,108.69 351.5,108.15 352,109.39 352.5,108.73 353,108.17 353.5,109.3 354,112.14 354.5,108.66 355,108.34 355.5,108.33 356,108.7 356.5,108.22 357,108.6 357.5,108.27 358,108.73 358.5,108.74 359,108.31 359.5,108.47 360,108.42 360.5,108.68 361,108.38 361.5,108.41 362,108.21 362.5,108.62 363,110.14 363.5,108.44 364,108.36 364.5,108.36 365,108.15 365.5,108.21 366,108.05 366.5,109.75 367,108.62 367.5,108.34 368,108.07 368.5,108.25 369,108.29 369.5,108.17 370,108.5 370.5,108.3 371,108.57 371.5,108.33 372,108.38 372.5,108.55 373,108.42 373.5,108.36 374,109.8 374.5,108.07 375,108.73 375.5,109.41 376,108.21 376.5,108.33 377,108.63 377.5,109.23 378,108.29 378.5,108.42 379,108.43 379.5,108.24 380,108.35 380.5,108.07 381,108.79 381.5,108.42 382,108.5 382.5,108.13 383,109.82 383.5,108.21 384,109.6 384.5,108.44 385,109.38 385.5,108.71 386,108.48 386.5,109.95 387,108.88 387.5,108.4 388,108.37 388.5,108.63 389,108.72 389.5,108.67 390,108.69 390.5,108.34 391,109.23 391.5,108.58 392,111.18 392.5,108.49 393,108.61 393.5,110.02 394,108.71 394.5,108.16 395,110.11 395.5,112.92 396,108.55 396.5,108.38 397,108.94 397.5,108.06 398,108.05 398.5,108.26 399,108.03 399.5,108.08 400,108.12 400.5,108.9 401,108.35 401.5,108.54 402,108.61 402.5,108.26 403,108.11 403.5,108.54 404,108.32 404.5,108.22 405,108.1 405.5,108.6 406,108.18 406.5,108.51 407,108.49 407.5,108.07 408,108.43 408.5,108.83 409,108.33 409.5,108.6 410,109.74 410.5,108.1 411,108.14 411.5,108.17 412,108.29 412.5,108.7 413,108.38 413.5,108.18 414,108.61 414.5,108.63 415,108.32 415.5,108.45 416,108.64 416.5,108.05 417,108.32 417.5,108.53 418,108.63 418.5,109.92 419,108.21 419.5,108.46 420,108.68 420.5,108.12 421,108.25 421.5,108.9 422,108.27 422.5,110.29 423,108.08 423.5,108.68 424,108.32 424.5,108.22 425,108.47 425.5,108.64 426,108.18 426.5,108.4 427,108.17 427.5,108.29 428,108.45 428.5,108.54 429,108.24 429.5,108.13 430,108.46 430.5,108.04 431,108.46 431.5,108.19 432,108.1 432.5,108.62 433,108.45 433.5,108.49 434,110.23 434.5,108.06 435,108.24 435.5,108.22 436,109.52 436.5,108.07 437,108.22 437.5,108.14 438,108.01 438.5,108.29 439,108.27 439.5,108.6 440,108.22 440.5,108.08 441,108.31 441.5,108.19 442,108.29 442.5,109.41 443,108.65 443.5,108.03 444,108.49 444.5,108.1 445,108.02 445.5,108.3 446,108.31 446.5,108.32 447,109.5 447.5,113.96 448,108.25 448.5,108.46 449,112.15 449.5,109.58 450,108.13 450.5,108.05 451,109.59 451.5,108.03 452,108.26 452.5,108.43 453,109.93 453.5,108.25 454,108.5 454.5,108 455,108.45 455.5,108.16 456,110.22 456.5,108.57 457,107.98 457.5,108.33 458,108.03 458.5,107.98 459,108.54 459.5,108.12 460,108.36 460.5,108.57 461,108.18 461.5,108.66 462,109.57 462.5,108.26 463,108.48 463.5,108.47 464,108.58 464.5,108.15 465,108.04 465.5,108.62 466,108.5 466.5,107.98 467,108.2 467.5,108.52 468,108.19 468.5,108.64 469,108.62 469.5,108.64 470,107.97 470.5,108.09 471,108.49 471.5,107.98 472,108.64 472.5,108.38 473,108.04 473.5,110.44 474,108.09 474.5,108.27 475,108.2 475.5,108.12 476,108.15 476.5,108.37 477,110.19 477.5,108.11 478,109.43 478.5,108.13 479,109.88 479.5,108.11 480,108.21 480.5,107.99 481,107.98 481.5,108.45 482,109.08 482.5,108.61 483,108.47 483.5,108.55 484,108.07 484.5,110.17 485,108.97 485.5,108.04 486,109.4 486.5,108.47 487,108.37 487.5,108.61 488,108.58 488.5,108.58 489,108.05 489.5,108.61 490,111.03 490.5,108.64 491,108.09 491.5,108.62 492,108.41 492.5,110.76 493,108.38 493.5,109.59 494,108.06 494.5,108.57 495,108.13 495.5,108.81 496,108.24 496.5,108.4 497,108.4 497.5,108.62 498,108.34 498.5,108.11 499,107.99 499.5,108.41 500,108.41 500.5,110.34 501,108.08 501.5,108.1 502,108.47 502.5,107.96 503,110.42 503.5,108.24 504,108.05 504.5,108.52 505,108.61 505.5,108.11 506,108.55 506.5,110.99 507,107.94 507.5,108.62 508,109.32 508.5,108.11 509,109.9 509.5,108.17 510,108.32 510.5,108.43 511,108 511.5,108.49 512,109.64 512.5,108.9 513,108.43 513.5,108.38 514,108.07 514.5,108.04 515,108.43 515.5,108.15 516,107.99 516.5,108.54 517,109.43 517.5,108.47 518,108.1 518.5,108.26 519,108.24 519.5,108 520,107.95 520.5,109.61 521,108.46 521.5,107.99 522,108.46 522.5,110.12 523,108.16 523.5,109.73 524,108.59 524.5,108.42 525,108.82 525.5,108.09 526,109.22 526.5,110.02 527,113.38 527.5,108.49 528,108.16 528.5,108.55 529,108.44 529.5,108.61 530,108.09 530.5,108.01 531,108.15 531.5,108.01 532,108.37 532.5,108.15 533,108.06 533.5,108.19 534,109.59 534.5,108.47 535,108.53 535.5,108.12 536,110.14 536.5,108.52 537,108.16 537.5,108.62 538,108.21 538.5,108.15 539,108.06 539.5,108.17 540,108.11 540.5,109.39 541,108.6 541.5,109.75 542,108.55 542.5,108.53 543,108.55 543.5,108.46 544,108.09 544.5,107.96 545,108.08 545.5,108.53 546,108.42 546.5,108.48 547,108.21 547.5,107.99 548,108.13 548.5,108.91 549,108.23 549.5,108.02 550,108.23 550.5,108.63 551,108.17 551.5,108.38 552,108.29 552.5,108.53 553,108.28 553.5,107.99 554,108.3 554.5,108.27 555,110.28 555.5,108.51 556,108.33 556.5,108.31 557,108.16 557.5,108.08 558,108.42 558.5,107.99 559,108.4 559.5,108.27 560,108.19 560.5,108.15 561,108.57 561.5,110.21 562,108.56 562.5,108.15 563,108.58 563.5,108.76 564,108.36 564.5,108.19 565,108.16 565.5,108.27 566,107.88 566.5,107.88 567,108.28 567.5,108.54 568,108.14 568.5,108.43 569,108.1 569.5,107.98 570,108.52 570.5,109.67 571,108.53 571.5,107.95 572,108.05 572.5,109.8 573,108.13 573.5,108.17 574,108.19 574.5,108.2 575,107.91 575.5,107.96 576,108.44 576.5,108.49 577,108.38 577.5,109.75 578,107.98 578.5,108.04 579,108.29 579.5,108.24 580,110.27 580.5,108.19 581,107.97 581.5,107.98 582,108.12 582.5,107.97 583,108.55 583.5,108.24 584,107.95 584.5,108.52 585,108.3 585.5,108.11 586,108.03 586.5,110.73 587,108.5 587.5,107.86 588,108.25 588.5,107.86 589,107.92 589.5,108.21 590,108.34 590.5,108.97 591,108.55 591.5,107.96 592,108.48 592.5,109.25 593,108.25 593.5,107.86 594,108.02 594.5,109.03 595,108.32 595.5,108.49 596,108.63 596.5,108.2 597,108.77 597.5,107.96 598,107.95 598.5,108.08 599,107.96 599.5,107.91 600,108.12 600.5,108.54 601,108 601.5,107.95 602,107.91 602.5,109.4 603,108.41 603.5,107.93 604,108.52 604.5,108.18 605,108.32 605.5,108.52 606,110.25 606.5,108.34 607,112.14 607.5,108.38 608,108.28 608.5,109.26 609,108.24 609.5,108.18 610,108.81 610.5,108.19 611,108.09 611.5,108.4 612,108.15 612.5,108.36 613,108.38 613.5,108.31 614,107.85 614.5,108.5 615,107.9 615.5,108.08 616,108.45 616.5,108.12 617,108.55 617.5,108.42 618,109.19 618.5,108.24 619,108.09 619.5,108.26 620,108.25 620.5,108.46 621,108.04 621.5,108.18 622,108.07 622.5,107.99 623,108.08 623.5,108.36 624,108.58 624.5,108.2 625,109.65 625.5,108.61 626,108.17 626.5,108.5 627,108.42 627.5,108.05 628,107.87 628.5,109.44 629,108.05 629.5,108.09 630,108.09 630.5,108.39 631,112.8 631.5,107.95 632,108.26 632.5,108.03 633,108.24 633.5,108.24 634,108.11 634.5,108.06 635,108.26 635.5,108.48 636,107.93 636.5,112.71 637,107.94 637.5,108.47 638,108.62 638.5,108.49 639,108.45 639.5,107.86 640,108.4 640.5,108.12 641,108.32 641.5,108.07 642,108.05 642.5,113.47 643,108.31 643.5,107.9 644,108.34 644.5,108.36 645,108.06 645.5,107.79 646,108.18 646.5,108.98 647,108.36 647.5,107.92 648,109.85 648.5,108.61 649,108.14 649.5,107.93 650,107.94 650.5,107.95 651,108.12 651.5,109.78 652,108.14 652.5,107.96 653,108.34 653.5,107.79 654,108.33 654.5,112.94 655,109.57 655.5,108.36 656,108.4 656.5,108.1 657,108.38 657.5,107.79 658,108.11 658.5,107.92 659,107.79 659.5,108.01 660,107.99 660.5,108.44 661,108.03 661.5,107.86 662,108.04 662.5,108 663,108.3 663.5,110.01 664,107.96 664.5,108.4 665,107.79 665.5,108.18 666,107.84 666.5,110.2 667,109.04 667.5,107.93 668,107.83 668.5,108.37 669,108.27 669.5,108.69 670,108.21 670.5,107.84 671,108.02 671.5,108.45 672,107.94 672.5,108.46 673,107.82 673.5,108.19 674,107.83 674.5,108.21 675,109.29 675.5,108.27 676,108.12 676.5,108.3 677,107.92 677.5,108.34 678,108.09 678.5,108.34 679,109.11 679.5,109.44 680,108.35 680,106.65 679.5,106.65 679,106.65 678.5,106.65 678,106.65 677.5,106.65 677,106.65 676.5,106.65 676,106.65 675.5,106.65 675,106.65 674.5,106.65 674,106.65 673.5,106.65 673,106.65 672.5,106.65 672,106.65 671.5,106.65 671,106.65 670.5,106.65 670,106.65 669.5,106.65 669,106.65 668.5,106.65 668,106.65 667.5,106.65 667,106.65 666.5,106.65 666,106.65 665.5,106.65 665,106.65 664.5,106.65 664,106.65 663.5,106.65 663,106.65 662.5,106.65 662,106.65 661.5,106.65 661,106.65 660.5,106.65 660,106.65 659.5,106.65 659,106.65 658.5,106.65 658,106.65 657.5,106.65 657,106.65 656.5,106.65 656,106.65 655.5,106.65 655,106.65 654.5,106.65 654,106.65 653.5,106.65 653,106.65 652.5,106.65 652,106.65 651.5,106.65 651,106.65 650.5,106.65 650,106.65 649.5,106.65 649,106.65 648.5,106.65 648,106.65 647.5,106.65 647,106.65 646.5,106.65 646,106.65 645.5,106.65 645,106.65 644.5,106.65 644,106.65 643.5,106.65 643,106.65 642.5,106.65 642,106.65 641.5,106.65 641,106.65 640.5,106.65 640,106.65 639.5,106.65 639,106.65 638.5,106.65 638,106.65 637.5,106.65 637,106.65 636.5,106.65 636,106.65 635.5,106.65 635,106.65 634.5,106.65 634,106.65 633.5,106.65 633,106.65 632.5,106.65 632,106.65 631.5,106.65 631,106.65 630.5,106.65 630,106.65 629.5,106.65 629,106.65 628.5,106.65 628,106.65 627.5,106.65 627,106.65 626.5,106.65 626,106.65 625.5,106.65 625,106.65 624.5,106.65 624,106.65 623.5,106.65 623,106.65 622.5,106.65 622,106.65 621.5,106.65 621,106.65 620.5,106.65 620,106.65 619.5,106.65 619,106.65 618.5,106.65 618,106.65 617.5,106.65 617,106.65 616.5,106.65 616,106.65 615.5,106.65 615,106.65 614.5,106.65 614,106.65 613.5,106.65 613,106.65 612.5,106.65 612,106.65 611.5,106.65 611,106.65 610.5,106.65 610,106.65 609.5,106.65 609,106.65 608.5,106.65 608,106.65 607.5,106.65 607,106.65 606.5,106.65 606,106.65 605.5,106.65 605,106.65 604.5,106.65 604,106.65 603.5,106.65 603,106.65 602.5,106.65 602,106.65 601.5,106.65 601,106.65 600.5,106.65 600,106.65 599.5,106.65 599,106.65 598.5,106.65 598,106.65 597.5,106.65 597,106.65 596.5,106.65 596,106.65 595.5,106.65 595,106.65 594.5,106.65 594,106.65 593.5,106.65 593,106.65 592.5,106.65 592,106.65 591.5,106.65 591,106.65 590.5,106.65 590,106.65 589.5,106.65 589,106.65 588.5,106.65 588,106.65 587.5,106.65 587,106.65 586.5,106.65 586,106.65 585.5,106.65 585,106.65 584.5,106.65 584,106.65 583.5,106.65 583,106.65 582.5,106.65 582,106.65 581.5,106.65 581,106.65 580.5,106.65 580,106.65 579.5,106.65 579,106.65 578.5,106.65 578,106.65 577.5,106.65 577,106.65 576.5,106.65 576,106.65 575.5,106.65 575,106.65 574.5,106.65 574,106.65 573.5,106.65 573,106.65 572.5,106.65 572,106.65 571.5,106.65 571,106.65 570.5,106.65 570,106.65 569.5,106.65 569,106.65 568.5,106.65 568,106.65 567.5,106.65 567,106.65 566.5,106.65 566,106.65 565.5,106.65 565,106.65 564.5,106.65 564,106.65 563.5,106.65 563,106.65 562.5,106.65 562,106.65 561.5,106.65 561,106.65 560.5,106.65 560,106.65 559.5,106.65 559,106.65 558.5,106.65 558,106.65 557.5,106.65 557,106.65 556.5,106.65 556,106.65 555.5,106.65 555,106.65 554.5,106.65 554,106.65 553.5,106.65 553,106.65 552.5,106.65 552,106.65 551.5,106.65 551,106.65 550.5,106.65 550,106.65 549.5,106.65 549,106.65 548.5,106.65 548,106.65 547.5,106.65 547,106.65 546.5,106.65 546,106.65 545.5,106.65 545,106.65 544.5,106.65 544,106.65 543.5,106.65 543,106.65 542.5,106.65 542,106.65 541.5,106.65 541,106.65 540.5,106.65 540,106.65 539.5,106.65 539,106.65 538.5,106.65 538,106.65 537.5,106.65 537,106.65 536.5,106.65 536,106.65 535.5,106.65 535,106.65 534.5,106.65 534,106.65 533.5,106.65 533,106.65 532.5,106.65 532,106.65 531.5,106.65 531,106.65 530.5,106.65 530,106.65 529.5,106.65 529,106.65 528.5,106.65 528,106.65 527.5,106.65 527,106.65 526.5,106.65 526,106.65 525.5,106.65 525,106.65 524.5,106.65 524,106.65 523.5,106.65 523,106.65 522.5,106.65 522,106.65 521.5,106.65 521,106.65 520.5,106.65 520,106.65 519.5,106.65 519,106.65 518.5,106.65 518,106.65 517.5,106.65 517,106.65 516.5,106.65 516,106.65 515.5,106.65 515,106.65 514.5,106.65 514,106.65 513.5,106.65 513,106.65 512.5,106.65 512,106.65 511.5,106.65 511,106.65 510.5,106.65 510,106.65 509.5,106.65 509,106.65 508.5,106.65 508,106.65 507.5,106.65 507,106.65 506.5,106.65 506,106.65 505.5,106.65 505,106.65 504.5,106.65 504,106.65 503.5,106.65 503,106.65 502.5,106.65 502,106.65 501.5,106.65 501,106.65 500.5,106.65 500,106.65 499.5,106.65 499,106.65 498.5,106.65 498,106.65 497.5,106.65 497,106.65 496.5,106.65 496,106.65 495.5,106.65 495,106.65 494.5,106.65 494,106.65 493.5,106.65 493,106.65 492.5,106.65 492,106.65 491.5,106.65 491,106.65 490.5,106.65 490,106.65 489.5,106.65 489,106.65 488.5,106.65 488,106.65 487.5,106.65 487,106.65 486.5,106.65 486,106.65 485.5,106.65 485,106.65 484.5,106.65 484,106.65 483.5,106.65 483,106.65 482.5,106.65 482,106.65 481.5,106.65 481,106.65 480.5,106.65 480,106.65 479.5,106.65 479,106.65 478.5,106.65 478,106.65 477.5,106.65 477,106.65 476.5,106.65 476,106.65 475.5,106.65 475,106.65 474.5,106.65 474,106.65 473.5,106.65 473,106.65 472.5,106.65 472,106.65 471.5,106.65 471,106.65 470.5,106.65 470,106.65 469.5,106.65 469,106.65 468.5,106.65 468,106.65 467.5,106.65 467,106.65 466.5,106.65 466,106.65 465.5,106.65 465,106.65 464.5,106.65 464,106.65 463.5,106.65 463,106.65 462.5,106.65 462,106.65 461.5,106.65 461,106.65 460.5,106.65 460,106.65 459.5,106.65 459,106.65 458.5,106.65 458,106.65 457.5,106.65 457,106.65 456.5,106.65 456,106.65 455.5,106.65 455,106.65 454.5,106.65 454,106.65 453.5,106.65 453,106.65 452.5,106.65 452,106.65 451.5,106.65 451,106.65 450.5,106.65 450,106.65 449.5,106.65 449,106.65 448.5,106.65 448,106.65 447.5,106.65 447,106.65 446.5,106.65 446,106.65 445.5,106.65 445,106.65 444.5,106.65 444,106.65 443.5,106.65 443,106.65 442.5,106.65 442,106.65 441.5,106.65 441,106.65 440.5,106.65 440,106.65 439.5,106.65 439,106.65 438.5,106.65 438,106.65 437.5,106.65 437,106.65 436.5,106.65 436,106.65 435.5,106.65 435,106.65 434.5,106.65 434,106.65 433.5,106.65 433,106.65 432.5,106.65 432,106.65 431.5,106.65 431,106.65 430.5,106.65 430,106.65 429.5,106.65 429,106.65 428.5,106.65 428,106.65 427.5,106.65 427,106.65 426.5,106.65 426,106.65 425.5,106.65 425,106.65 424.5,106.65 424,106.65 423.5,106.65 423,106.65 422.5,106.65 422,106.65 421.5,106.65 421,106.65 420.5,106.65 420,106.65 419.5,106.65 419,106.65 418.5,106.65 418,106.65 417.5,106.65 417,106.65 416.5,106.65 416,106.65 415.5,106.65 415,106.65 414.5,106.65 414,106.65 413.5,106.65 413,106.65 412.5,106.65 412,106.65 411.5,106.65 411,106.65 410.5,106.65 410,106.65 409.5,106.65 409,106.65 408.5,106.65 408,106.65 407.5,106.65 407,106.65 406.5,106.65 406,106.65 405.5,106.65 405,106.65 404.5,106.65 404,106.65 403.5,106.65 403,106.65 402.5,106.65 402,106.65 401.5,106.65 401,106.65 400.5,106.65 400,106.65 399.5,106.65 399,106.65 398.5,106.65 398,106.65 397.5,106.65 397,106.65 396.5,106.65 396,106.65 395.5,106.65 395,106.65 394.5,106.65 394,106.65 393.5,106.65 393,106.65 392.5,106.65 392,106.65 391.5,106.65 391,106.65 390.5,106.65 390,106.65 389.5,106.65 389,106.65 388.5,106.65 388,106.65 387.5,106.65 387,106.65 386.5,106.65 386,106.65 385.5,106.65 385,106.65 384.5,106.65 384,106.65 383.5,106.65 383,106.65 382.5,106.65 382,106.65 381.5,106.65 381,106.65 380.5,106.65 380,106.65 379.5,106.65 379,106.65 378.5,106.65 378,106.65 377.5,106.65 377,106.65 376.5,106.65 376,106.65 375.5,106.65 375,106.65 374.5,106.65 374,106.65 373.5,106.65 373,106.65 372.5,106.65 372,106.65 371.5,106.65 371,106.65 370.5,106.65 370,106.65 369.5,106.65 369,106.65 368.5,106.65 368,106.65 367.5,106.65 367,106.65 366.5,106.65 366,106.65 365.5,106.65 365,106.65 364.5,106.65 364,106.65 363.5,106.65 363,106.65 362.5,106.65 362,106.65 361.5,106.65 361,106.65 360.5,106.65 360,106.65 359.5,106.65 359,106.65 358.5,106.65 358,106.65 357.5,106.65 357,106.65 356.5,106.65 356,106.65 355.5,106.65 355,106.65 354.5,106.65 354,106.65 353.5,106.65 353,106.65 352.5,106.65 352,106.65 351.5,106.65 351,106.65 350.5,106.65 350,106.65 349.5,106.65 349,106.65 348.5,106.65 348,106.65 347.5,106.65 347,106.65 346.5,106.65 346,106.65 345.5,106.65 345,106.65 344.5,106.65 344,106.65 343.5,106.65 343,106.65 342.5,106.65 342,106.65 341.5,106.65 341,106.65 340.5,106.65 340,106.65 339.5,106.65 339,106.65 338.5,106.65 338,106.65 337.5,106.65 337,106.65 336.5,106.65 336,106.65 335.5,106.65 335,106.65 334.5,106.65 334,106.65 333.5,106.65 333,106.65 332.5,106.65 332,106.65 331.5,106.65 331,106.65 330.5,106.65 330,106.65 329.5,106.65 329,106.65 328.5,106.65 328,106.65 327.5,106.65 327,106.65 326.5,106.65 326,106.65 325.5,106.65 325,106.65 324.5,106.65 324,106.65 323.5,106.65 323,106.65 322.5,106.65 322,106.65 321.5,106.65 321,106.65 320.5,106.65 320,106.65 319.5,106.65 319,106.65 318.5,106.65 318,106.65 317.5,106.65 317,106.65 316.5,106.65 316,106.65 315.5,106.65 315,106.65 314.5,106.65 314,106.65 313.5,106.65 313,106.65 312.5,106.65 312,106.65 311.5,106.65 311,106.65 310.5,106.65 310,106.65 309.5,106.65 309,106.65 308.5,106.65 308,106.65 307.5,106.65 307,106.65 306.5,106.65 306,106.65 305.5,106.65 305,106.65 304.5,106.65 304,106.65 303.5,106.65 303,106.65 302.5,106.65 302,106.65 301.5,106.65 301,106.65 300.5,106.65 300,106.65 299.5,106.65 299,106.65 298.5,106.65 298,106.65 297.5,106.65 297,106.65 296.5,106.65 296,106.65 295.5,106.65 295,106.65 294.5,106.65 294,106.65 293.5,106.65 293,106.65 292.5,106.65 292,106.65 291.5,106.65 291,106.65 290.5,106.65 290,106.65 289.5,106.65 289,106.65 288.5,106.65 288,106.65 287.5,106.65 287,106.65 286.5,106.65 286,106.65 285.5,106.65 285,106.65 284.5,106.65 284,106.65 283.5,106.65 283,106.65 282.5,106.65 282,106.65 281.5,106.65 281,106.65 280.5,106.65 280,106.65 279.5,106.65 279,106.65 278.5,106.65 278,106.65 277.5,106.65 277,106.65 276.5,106.65 276,106.65 275.5,106.65 275,106.65 274.5,106.65 274,106.65 273.5,106.65 273,106.65 272.5,106.65 272,106.65 271.5,106.65 271,106.65 270.5,106.65 270,106.65 269.5,106.65 269,106.65 268.5,106.65 268,106.65 267.5,106.65 267,106.65 266.5,106.65 266,106.65 265.5,106.65 265,106.65 264.5,106.65 264,106.65 263.5,106.65 263,106.65 262.5,106.65 262,106.65 261.5,106.65 261,106.65 260.5,106.65 260,106.65 259.5,106.65 259,106.65 258.5,106.65 258,106.65 257.5,106.65 257,106.65 256.5,106.65 256,106.65 255.5,106.65 255,106.65 254.5,106.65 254,106.65 253.5,106.65 253,106.65 252.5,106.65 252,106.65 251.5,106.65 251,106.65 250.5,106.65 250,106.65 249.5,106.65 249,106.65 248.5,106.65 248,106.65 247.5,106.65 247,106.65 246.5,106.65 246,106.65 245.5,106.65 245,106.65 244.5,106.65 244,106.65 243.5,106.65 243,106.65 242.5,106.65 242,106.65 241.5,106.65 241,106.65 240.5,106.65 240,106.65 239.5,106.65 239,106.65 238.5,106.65 238,106.65 237.5,106.65 237,106.65 236.5,106.65 236,106.65 235.5,106.65 235,106.65 234.5,106.65 234,106.65 233.5,106.65 233,106.65 232.5,106.65 232,106.65 231.5,106.65 231,106.65 230.5,106.65 230,106.65 229.5,106.65 229,106.65 228.5,106.65 228,106.65 227.5,106.65 227,106.65 226.5,106.65 226,106.65 225.5,106.65 225,106.65 224.5,106.65 224,106.65 223.5,106.65 223,106.65 222.5,106.65 222,106.65 221.5,106.65 221,106.65 220.5,106.65 220,106.65 219.5,106.65 219,106.65 218.5,106.65 218,106.65 217.5,106.65 217,106.65 216.5,106.65 216,106.65 215.5,106.65 215,106.65 214.5,106.65 214,106.65 213.5,106.65 213,106.65 212.5,106.65 212,106.65 211.5,106.65 211,106.65 210.5,106.65 210,106.65 209.5,106.65 209,106.65 208.5,106.65 208,106.65 207.5,106.65 207,106.65 206.5,106.65 206,106.65 205.5,106.65 205,106.65 204.5,106.65 204,106.65 203.5,106.65 203,106.65 202.5,106.65 202,106.65 201.5,106.65 201,106.65 200.5,106.65 200,106.65 199.5,106.65 199,106.65 198.5,106.65 198,106.65 197.5,106.65 197,106.65 196.5,106.65 196,106.65 195.5,106.65 195,106.65 194.5,106.65 194,106.65 193.5,106.65 193,106.65 192.5,106.65 192,106.65 191.5,106.65 191,106.65 190.5,106.65 190,106.65 189.5,106.65 189,106.65 188.5,106.65 188,106.65 187.5,106.65 187,106.65 186.5,106.65 186,106.65 185.5,106.65 185,106.65 184.5,106.65 184,106.65 183.5,106.65 183,106.65 182.5,106.65 182,106.65 181.5,106.65 181,106.65 180.5,106.65 180,106.65 179.5,106.65 179,106.65 178.5,106.65 178,106.65 177.5,106.65 177,106.65 176.5,106.65 176,106.65 175.5,106.65 175,106.65 174.5,106.65 174,106.65 173.5,106.65 173,106.65 172.5,106.65 172,106.65 171.5,106.65 171,106.65 170.5,106.65 170,106.65 169.5,106.65 169,106.65 168.5,106.65 168,106.65 167.5,106.65 167,106.65 166.5,106.65 166,106.65 165.5,106.65 165,106.65 164.5,106.65 164,106.65 163.5,106.65 163,106.65 162.5,106.65 162,106.65 161.5,106.65 161,106.65 160.5,106.65 160,106.65 159.5,106.65 159,106.65 158.5,106.65 158,106.65 157.5,106.65 157,106.65 156.5,106.65 156,106.65 155.5,106.65 155,106.65 154.5,106.65 154,106.65 153.5,106.65 153,106.65 152.5,106.65 152,106.65 151.5,106.65 151,106.65 150.5,106.65 150,106.65 149.5,106.65 149,106.65 148.5,106.65 148,106.65 147.5,106.65 147,106.65 146.5,106.65 146,106.65 145.5,106.65 145,106.65 144.5,106.65 144,106.65 143.5,106.65 143,106.65 142.5,106.65 142,106.65 141.5,106.65 141,106.65 140.5,106.65 140,106.65 139.5,106.65 139,106.65 138.5,106.65 138,106.65 137.5,106.65 137,106.65 136.5,106.65 136,106.65 135.5,106.65 135,106.65 134.5,106.65 134,106.65 133.5,106.65 133,106.65 132.5,106.65 132,106.65 131.5,106.65 131,106.65 130.5,106.65 130,106.65 129.5,106.65 129,106.65 128.5,106.65 128,106.65 127.5,106.65 127,106.65 126.5,106.65 126,106.65 125.5,106.65 125,106.65 124.5,106.65 124,106.65 123.5,106.65 123,106.65 122.5,106.65 122,106.65 121.5,106.65 121,106.65 120.5,106.65 120,106.65 119.5,106.65 119,106.65 118.5,106.65 118,106.65 117.5,106.65 117,106.65 116.5,106.65 116,106.65 115.5,106.65 115,106.65 114.5,106.65 114,106.65 113.5,106.65 113,106.65 112.5,106.65 112,106.65 111.5,106.65 111,106.65 110.5,106.65 110,106.65 109.5,106.65 109,106.65 108.5,106.65 108,106.65 107.5,106.65 107,106.65 106.5,106.65 106,106.65 105.5,106.65 105,106.65 104.5,106.65 104,106.65 103.5,106.65 103,106.65 102.5,106.65 102,106.65 101.5,106.65 101,106.65 100.5,106.65 100,106.65 99.5,106.65 99,106.65 98.5,106.65 98,106.65 97.5,106.65 97,106.65 96.5,106.65 96,106.65 95.5,106.65 95,106.65 94.5,106.65 94,106.65 93.5,106.65 93,106.65 92.5,106.65 92,106.65 91.5,106.65 91,106.65 90.5,106.65 90,106.65 89.5,106.65 89,106.65 88.5,106.65 88,106.65 87.5,106.65 87,106.65 86.5,106.65 86,106.65 85.5,106.65 85,106.65 84.5,106.65 84,106.65 83.5,106.65 83,106.65 82.5,106.65 82,106.65 81.5,106.65 81,106.65 80.5,106.65 80,106.65 79.5,106.65 79,106.65 78.5,106.65 78,106.65 77.5,106.65 77,106.65 76.5,106.65 76,106.65 75.5,106.65 75,106.65 74.5,106.65 74,106.65 73.5,106.65 73,106.65 72.5,106.65 72,106.65 71.5,106.65 71,106.65 70.5,106.65 70,106.65 69.5,106.65 69,106.65 68.5,106.65 68,106.65 67.5,106.65 67,106.65 66.5,106.65 66,106.65 65.5,106.65 65,106.65 64.5,106.65 64,106.65 63.5,106.65 63,106.65 62.5,106.65 62,106.65 61.5,106.65 61,106.65 60.5,106.65 60,106.65 59.5,106.65 59,106.65 58.5,106.65 58,106.65 57.5,106.65 57,106.65 56.5,106.65 56,106.65 55.5,106.65 55,106.65 54.5,106.65 54,106.65 53.5,106.65 53,106.65 52.5,106.65 52,106.65 51.5,106.65 51,106.65 50.5,106.65 50,106.65 49.5,106.65 49,106.65 48.5,106.65 48,106.65 47.5,106.65 47,106.65 46.5,106.65 46,106.65 45.5,106.65 45,106.65 44.5,106.65 44,106.65 43.5,106.65 43,106.65 42.5,106.65 42,106.65 41.5,106.65 41,106.65 40.5,106.65 40,106.65 39.5,106.65 39,106.65 38.5,106.65 38,106.65 37.5,106.65 37,106.65 36.5,106.65 36,106.65 35.5,106.65 35,106.65 34.5,106.65 34,106.65 33.5,106.65 33,106.65 32.5,106.65 32,106.65 31.5,106.65 31,106.65 30.5,106.65 30,106.65 29.5,106.65 29,106.65 28.5,106.65 28,106.65 27.5,106.65 27,106.65 26.5,106.65 26,106.65 25.5,106.65 25,106.65 24.5,106.65 24,106.65 23.5,106.65 23,106.65 22.5,106.65 22,106.65 21.5,106.65" fill="#1f84ee"/>
<path d="M66.5 106.05V101M71.5 106.05V101.2M74.5 106.05V88.8M81.5 106.05V102M88.5 106.05V99.7M91.5 106.05V100.4M96.5 106.05V100.4M100.5 106.05V91M115.5 106.05V97.2M128.5 106.05V101.5M140.5 106.05V101.5M155.5 106.05V40.9M170.5 106.05V101M190.5 106.05V90.8M196.5 106.05V97.8M201.5 106.05V99.2M212.5 106.05V92M231.5 106.05V93.3M241.5 106.05V99M254.5 106.05V95M258.5 106.05V92.5M275.5 106.05V101M294.5 106.05V94.6M311.5 106.05V99M315.5 106.05V92M320.5 106.05V100.5M334.5 106.05V7.9M360.5 106.05V101.5M400.5 106.05V101.5M424.5 106.05V97.7M450.5 106.05V101.5M476.5 106.05V97.9M480.5 106.05V68.3M481.5 106.05V95M517.5 106.05V99M525.5 106.05V102M559.5 106.05V98.3M563.5 106.05V88.7M576.5 106.05V97.9M580.5 106.05V80.5M583.5 106.05V100M610.5 106.05V102M640.5 106.05V101.5" stroke="#86861c" stroke-width="0.85" fill="none"/>
<path d="M156.5 106.05V60M157.5 106.05V90M162.5 106.05V81M164.5 106.05V80.5M335.5 106.05V34M336.5 106.05V92M337.5 106.05V96" stroke="#b2b266" stroke-width="0.85" fill="none"/>
<path d="M67.5 107.05V116.5M71.5 107.05V111.4M88.5 107.05V110M99.5 107.05V110M115.5 107.05V115M155.5 107.05V112M157.5 107.05V112M159.5 107.05V112.4M163.5 107.05V125M166.5 107.05V114.6M186.5 107.05V115M188.5 107.05V120M190.5 107.05V118M196.5 107.05V118M213.5 107.05V121.4M254.5 107.05V121.4M256.5 107.05V115M258.5 107.05V112M294.5 107.05V122.7M311.5 107.05V113M315.5 107.05V115M318.5 107.05V118M322.5 107.05V116M336.5 107.05V118M337.5 107.05V114M424.5 107.05V122.7M472.5 107.05V113M475.5 107.05V125M476.5 107.05V118M480.5 107.05V135.9M481.5 107.05V117M519.5 107.05V115M525.5 107.05V128.3M560.5 107.05V115M563.5 107.05V112M566.5 107.05V118M568.5 107.05V114M572.5 107.05V115M576.5 107.05V116.3M578.5 107.05V114M580.5 107.05V117M582.5 107.05V113M600.5 107.05V111M640.5 107.05V110.5" stroke="#1f84ee" stroke-width="0.85" fill="none"/>
<path d="M162.5 107.05V196.6" stroke="#3f8fe8" stroke-width="0.85" fill="none"/>
<path d="M335.5 107.05V179.5" stroke="#6eaaf0" stroke-width="0.85" fill="none"/>
<line x1="21.5" y1="106.9" x2="680" y2="106.9" stroke="#c8dcf4" stroke-width="0.5" stroke-dasharray="1 1"/>
<rect x="23.8" y="4.2" width="22" height="25.2" fill="#fff" stroke="#333" stroke-width="0.9"/>
<text x="35.2" y="22.6" font-size="15.4" font-weight="bold" text-anchor="middle" fill="#000">A</text>
<text x="49.3" y="14.7" font-size="10.5" font-weight="bold" fill="#548235" stroke="#548235" stroke-width="0.25">MUSE21164</text>
<text x="679" y="207.2" font-size="10.5" font-weight="bold" fill="#2e75b6" stroke="#2e75b6" stroke-width="0.25" text-anchor="end">MUSE21169</text>
<text transform="translate(69.31,102.5) rotate(-90)" fill="#111" font-size="9.2">1079</text>
<text transform="translate(78.21,87) rotate(-90)" fill="#e4202a" font-size="9.2">1105*</text>
<text transform="translate(102.11,89.3) rotate(-90)" fill="#e4202a" font-size="9.2">1208*</text>
<text transform="translate(157.81,39.4) rotate(-90)" fill="#e4202a" font-size="9.2">1427*</text>
<text transform="translate(162.91,89.5) rotate(-90)" fill="#111" font-size="9.2">1453</text>
<text transform="translate(214.81,89.3) rotate(-90)" fill="#e4202a" font-size="9.2">1648*</text>
<text transform="translate(333.11,27.6) rotate(-90)" fill="#e4202a" font-size="9.2">2131*</text>
<text transform="translate(519.91,97) rotate(-90)" fill="#e4202a" font-size="9.2">2853*</text>
<text transform="translate(528.31,101.2) rotate(-90)" fill="#111" font-size="9.2">2883</text>
<text transform="translate(561.51,95.7) rotate(-90)" fill="#e4202a" font-size="9.2">3017*</text>
<text transform="translate(567.11,88.8) rotate(-90)" fill="#e4202a" font-size="9.2">3033*</text>
<text transform="translate(64.19,118.8) rotate(90)" fill="#111" font-size="9.2">1079</text>
<text transform="translate(95.29,112) rotate(90)" fill="#111" font-size="9.2">1205</text>
<text transform="translate(151.29,110.8) rotate(90)" fill="#e4202a" font-size="9.2">1427*</text>
<text transform="translate(182.39,113) rotate(90)" fill="#111" font-size="9.2">1550</text>
<text transform="translate(208.89,123.5) rotate(90)" fill="#111" font-size="9.2">1652</text>
<text transform="translate(161.29,190) rotate(90)" fill="#111" font-size="9.2">1453</text>
<text transform="translate(331.09,180) rotate(90)" fill="#111" font-size="9.2">2133</text>
<text transform="translate(512.49,108.9) rotate(90)" fill="#e4202a" font-size="9.2">2853*</text>
<text transform="translate(522.19,128.3) rotate(90)" fill="#111" font-size="9.2">2883</text>
<text transform="translate(554.89,115.8) rotate(90)" fill="#e4202a" font-size="9.2">3017*</text>
<text transform="translate(562.39,117.2) rotate(90)" fill="#111" font-size="9.2">3039</text>
<rect x="61.3" y="88.5" width="16.2" height="29.7" fill="none" stroke="#7a7a7a" stroke-width="0.9"/>
<rect x="331" y="92.5" width="8.5" height="26.3" fill="none" stroke="#7a7a7a" stroke-width="0.9"/>
<rect x="513.5" y="97.5" width="16" height="16.8" fill="none" stroke="#7a7a7a" stroke-width="0.9"/>
<rect x="556.5" y="96.3" width="12.8" height="19.6" fill="none" stroke="#7a7a7a" stroke-width="0.9"/>
<line x1="339.5" y1="104" x2="367.4" y2="96.8" stroke="#4a4a4a" stroke-width="0.7"/>
<line x1="492.3" y1="137.3" x2="514" y2="103.5" stroke="#4a4a4a" stroke-width="0.7"/>
<line x1="569.3" y1="105" x2="626.7" y2="79.6" stroke="#4a4a4a" stroke-width="0.7"/>
<line x1="70.8" y1="118.2" x2="70.8" y2="139.7" stroke="#4a4a4a" stroke-width="0.7"/>
<rect x="25.7" y="140.9" width="83.7" height="68" fill="#000" opacity="0.32" filter="url(#sh)"/>
<rect x="24.5" y="139.7" width="82.9" height="67.2" fill="#fff" stroke="#dadada" stroke-width="0.7"/>
<line x1="57.5" y1="141" x2="57.5" y2="201" stroke="#f4f4f4" stroke-width="0.6"/>
<line x1="82" y1="141" x2="82" y2="201" stroke="#f4f4f4" stroke-width="0.6"/>
<line x1="30.5" y1="152" x2="101.2" y2="152" stroke="#f0f0f0" stroke-width="0.6"/>
<line x1="30.5" y1="190.8" x2="101.2" y2="190.8" stroke="#f0f0f0" stroke-width="0.6"/>
<polyline points="30.5,170.6 31.7,168.54 32.9,170.6 32.9,170.6 34.1,168.59 35.3,170.6 35.3,170.6 36.5,168.42 37.7,170.6 37.7,170.6 38.9,168.93 40.1,170.6 40.1,170.6 41.3,168.36 42.5,170.6 42.5,170.6 43.7,168.44 44.9,170.6 44.9,170.6 46.1,168.93 47.3,170.6 47.43,170.6 48.5,167.79 49.57,170.6 49.7,170.6 50.9,168.44 52.1,170.6 52.1,170.6 53.3,168.95 54.5,170.6 54.68,170.6 55.7,167.65 56.72,170.6 56.9,170.6 58.1,168.64 59.3,170.6 59.3,170.6 60.5,168.61 61.7,170.6 61.7,170.6 62.9,168.92 64.1,170.6 64.1,170.6 65.3,168.82 66.5,170.6 66.55,170.6 67.7,167.99 68.85,170.6 68.9,170.6 70.1,168.16 71.3,170.6 71.3,170.6 72.5,168.27 73.7,170.6 73.7,170.6 74.9,168.62 76.1,170.6 76.1,170.6 77.3,168.56 78.5,170.6 78.69,170.6 79.7,167.64 80.71,170.6 80.9,170.6 82.1,168.45 83.3,170.6 83.5,170.6 84.5,167.61 85.5,170.6 85.85,170.6 86.9,167.75 87.95,170.6 88.1,170.6 89.3,168.78 90.5,170.6 90.63,170.6 91.7,167.8 92.77,170.6 92.9,170.6 94.1,168.92 95.3,170.6 95.35,170.6 96.5,167.99 97.65,170.6 97.81,170.6 98.9,167.86 99.99,170.6 100.14,170.6 101.3,168.01 102.46,170.6" stroke="#a8a860" stroke-width="0.65" fill="none" stroke-linejoin="round"/>
<polyline points="30.5,172.1 31.7,173.69 32.9,172.1 32.9,172.1 34.1,173.93 35.3,172.1 35.3,172.1 36.5,173.34 37.7,172.1 37.7,172.1 38.9,173.69 40.1,172.1 40.1,172.1 41.3,173.44 42.5,172.1 42.5,172.1 43.7,173.56 44.9,172.1 44.9,172.1 46.1,173.37 47.3,172.1 47.3,172.1 48.5,173.84 49.7,172.1 49.7,172.1 50.9,173.72 52.1,172.1 52.1,172.1 53.3,173.9 54.5,172.1 54.5,172.1 55.7,173.77 56.9,172.1 56.9,172.1 58.1,173.74 59.3,172.1 59.3,172.1 60.5,174.03 61.7,172.1 61.7,172.1 62.9,173.93 64.1,172.1 64.1,172.1 65.3,173.71 66.5,172.1 66.5,172.1 67.7,173.49 68.9,172.1 68.9,172.1 70.1,174.04 71.3,172.1 71.3,172.1 72.5,173.53 73.7,172.1 73.7,172.1 74.9,173.29 76.1,172.1 76.1,172.1 77.3,173.5 78.5,172.1 78.5,172.1 79.7,173.84 80.9,172.1 80.9,172.1 82.1,174.04 83.3,172.1 83.3,172.1 84.5,173.78 85.7,172.1 85.7,172.1 86.9,173.8 88.1,172.1 88.1,172.1 89.3,174.04 90.5,172.1 90.5,172.1 91.7,173.9 92.9,172.1 92.9,172.1 94.1,173.6 95.3,172.1 95.3,172.1 96.5,173.62 97.7,172.1 97.7,172.1 98.9,173.88 100.1,172.1 100.1,172.1 101.3,173.49 102.5,172.1" stroke="#66a6ea" stroke-width="0.65" fill="none" stroke-linejoin="round"/>
<path d="M91.6 170.6V146.5M93.5 170.6V158M95.4 170.6V161M97.7 170.6V166.5M70.8 170.6V163.4M72 170.6V166M35 170.6V168M37 170.6V168.5" stroke="#b8b878" stroke-width="0.6" fill="none"/>
<path d="M36.4 172.2V185.7M38.1 172.2V179.8M70 172.2V181M71 172.2V178M90.8 172.2V175M93 172.2V175M95 172.2V174" stroke="#8cbaf0" stroke-width="0.6" fill="none"/>
<line x1="30.5" y1="201.3" x2="101.2" y2="201.3" stroke="#c8c8c8" stroke-width="0.7"/>
<text transform="translate(37.51,166.3) rotate(-90)" fill="#111" font-size="9.2">1079</text>
<text transform="translate(90.91,162.9) rotate(-90)" fill="#e4202a" font-size="9.2">1105*</text>
<text transform="translate(87.09,176) rotate(90)" fill="#e4202a" font-size="9.2">1105*</text>
<text transform="translate(32.19,187.5) rotate(90)" fill="#111" font-size="9.2">1079</text>
<rect x="349.6" y="5.7" width="59" height="93.8" fill="#000" opacity="0.32" filter="url(#sh)"/>
<rect x="348.4" y="4.5" width="58.2" height="93" fill="#fff" stroke="#dadada" stroke-width="0.7"/>
<line x1="367.4" y1="6" x2="367.4" y2="90" stroke="#f4f4f4" stroke-width="0.6"/>
<line x1="393.2" y1="6" x2="393.2" y2="90" stroke="#f4f4f4" stroke-width="0.6"/>
<line x1="355" y1="20" x2="401" y2="20" stroke="#f0f0f0" stroke-width="0.6"/>
<line x1="355" y1="70" x2="401" y2="70" stroke="#f0f0f0" stroke-width="0.6"/>
<polyline points="355,44.6 356.1,43.82 357.2,44.6 357.2,44.6 358.3,43.52 359.4,44.6 359.4,44.6 360.5,43.41 361.6,44.6 361.6,44.6 362.7,43.74 363.8,44.6 363.8,44.6 364.9,43.49 366,44.6 366,44.6 367.1,43.36 368.2,44.6 368.2,44.6 369.3,43.81 370.4,44.6 370.4,44.6 371.5,43.81 372.6,44.6 372.6,44.6 373.7,43.6 374.8,44.6 374.8,44.6 375.9,43.69 377,44.6 377,44.6 378.1,43.33 379.2,44.6 379.2,44.6 380.3,43.3 381.4,44.6 381.4,44.6 382.5,43.62 383.6,44.6 383.6,44.6 384.7,43.42 385.8,44.6 385.8,44.6 386.9,43.52 388,44.6 388,44.6 389.1,43.78 390.2,44.6 390.2,44.6 391.3,43.32 392.4,44.6 392.4,44.6 393.5,43.78 394.6,44.6 394.6,44.6 395.7,43.84 396.8,44.6 396.8,44.6 397.9,43.62 399,44.6 399,44.6 400.1,43.87 401.2,44.6" stroke="#acac66" stroke-width="0.55" fill="none" stroke-linejoin="round"/>
<polyline points="355,46.2 356.1,47.12 357.2,46.2 357.2,46.2 358.3,47.08 359.4,46.2 359.4,46.2 360.5,47.38 361.6,46.2 361.6,46.2 362.7,47.08 363.8,46.2 363.8,46.2 364.9,47.32 366,46.2 366,46.2 367.1,47.28 368.2,46.2 368.2,46.2 369.3,47.18 370.4,46.2 370.4,46.2 371.5,46.99 372.6,46.2 372.6,46.2 373.7,47.02 374.8,46.2 374.8,46.2 375.9,47.13 377,46.2 377,46.2 378.1,47.07 379.2,46.2 379.2,46.2 380.3,47.21 381.4,46.2 381.4,46.2 382.5,47.13 383.6,46.2 383.6,46.2 384.7,47.03 385.8,46.2 385.8,46.2 386.9,47.19 388,46.2 388,46.2 389.1,47.4 390.2,46.2 390.2,46.2 391.3,46.97 392.4,46.2 392.4,46.2 393.5,47.04 394.6,46.2 394.6,46.2 395.7,46.87 396.8,46.2 396.8,46.2 397.9,46.91 399,46.2 399,46.2 400.1,46.89 401.2,46.2" stroke="#6eaaea" stroke-width="0.55" fill="none" stroke-linejoin="round"/>
<path d="M371.9 44.6V10.1M374.1 44.6V11.2M376.4 44.6V15.2M379.1 44.6V28M381.3 44.6V34.7M384.2 44.6V41.5" stroke="#c4c488" stroke-width="0.6" fill="none"/>
<path d="M376.4 46.2V80.7M378.6 46.2V71.7M381.5 46.2V58.3M384.2 46.2V56M386.5 46.2V48.8" stroke="#9cc3ee" stroke-width="0.6" fill="none"/>
<line x1="355" y1="89.6" x2="401" y2="89.6" stroke="#c8c8c8" stroke-width="0.7"/>
<line x1="367.4" y1="89.6" x2="367.4" y2="90.6" stroke="#bbb" stroke-width="0.5"/>
<line x1="365.9" y1="91.6" x2="368.9" y2="91.6" stroke="#ccc" stroke-width="0.5"/>
<line x1="393.2" y1="89.6" x2="393.2" y2="90.6" stroke="#bbb" stroke-width="0.5"/>
<line x1="391.7" y1="91.6" x2="394.7" y2="91.6" stroke="#ccc" stroke-width="0.5"/>
<text transform="translate(369.81,29.1) rotate(-90)" fill="#e4202a" font-size="9.2">2131*</text>
<text transform="translate(366.69,46) rotate(90)" fill="#e4202a" font-size="9.2">2131*</text>
<text transform="translate(371.99,77.3) rotate(90)" fill="#111" font-size="9.2">2133</text>
<rect x="433.1" y="138.5" width="88.7" height="70.8" fill="#000" opacity="0.32" filter="url(#sh)"/>
<rect x="431.9" y="137.3" width="87.9" height="70" fill="#fff" stroke="#dadada" stroke-width="0.7"/>
<line x1="452.6" y1="139" x2="452.6" y2="199" stroke="#f4f4f4" stroke-width="0.6"/>
<line x1="474.1" y1="139" x2="474.1" y2="199" stroke="#f4f4f4" stroke-width="0.6"/>
<line x1="495.7" y1="139" x2="495.7" y2="199" stroke="#f4f4f4" stroke-width="0.6"/>
<line x1="437.7" y1="150" x2="515.1" y2="150" stroke="#f0f0f0" stroke-width="0.6"/>
<line x1="437.7" y1="185" x2="515.1" y2="185" stroke="#f0f0f0" stroke-width="0.6"/>
<polyline points="437.7,165.6 438.75,164.12 439.8,165.6 439.8,165.6 440.85,163.75 441.9,165.6 441.9,165.6 442.95,163.87 444,165.6 444,165.6 445.05,163.63 446.1,165.6 446.1,165.6 447.15,163.75 448.2,165.6 448.2,165.6 449.25,163.97 450.3,165.6 450.3,165.6 451.35,163.98 452.4,165.6 452.4,165.6 453.45,164.49 454.5,165.6 454.5,165.6 455.55,164.15 456.6,165.6 456.6,165.6 457.65,164.26 458.7,165.6 458.7,165.6 459.75,163.94 460.8,165.6 460.8,165.6 461.85,164.44 462.9,165.6 462.9,165.6 463.95,164.01 465,165.6 465,165.6 466.05,164.16 467.1,165.6 467.1,165.6 468.15,164.06 469.2,165.6 469.2,165.6 470.25,164.14 471.3,165.6 471.3,165.6 472.35,164.41 473.4,165.6 473.4,165.6 474.45,163.84 475.5,165.6 475.5,165.6 476.55,163.78 477.6,165.6 477.6,165.6 478.65,163.96 479.7,165.6 479.7,165.6 480.75,164.4 481.8,165.6 481.8,165.6 482.85,163.96 483.9,165.6 483.9,165.6 484.95,163.72 486,165.6 486,165.6 487.05,163.61 488.1,165.6 488.1,165.6 489.15,163.82 490.2,165.6 490.2,165.6 491.25,164.46 492.3,165.6 492.3,165.6 493.35,163.71 494.4,165.6 494.4,165.6 495.45,163.9 496.5,165.6 496.5,165.6 497.55,164.25 498.6,165.6 498.6,165.6 499.65,163.67 500.7,165.6 500.7,165.6 501.75,163.76 502.8,165.6 502.8,165.6 503.85,163.69 504.9,165.6 504.9,165.6 505.95,164.28 507,165.6 507,165.6 508.05,163.98 509.1,165.6 509.1,165.6 510.15,164.16 511.2,165.6 511.2,165.6 512.25,164.23 513.3,165.6 513.3,165.6 514.35,163.81 515.4,165.6" stroke="#acac66" stroke-width="0.55" fill="none" stroke-linejoin="round"/>
<polyline points="437.7,168 438.75,169.32 439.8,168 439.8,168 440.85,169.12 441.9,168 441.9,168 442.95,169.27 444,168 444,168 445.05,169.55 446.1,168 446.1,168 447.15,169.29 448.2,168 448.2,168 449.25,169.54 450.3,168 450.3,168 451.35,169.29 452.4,168 452.4,168 453.45,169.59 454.5,168 454.5,168 455.55,168.9 456.6,168 456.6,168 457.65,169.21 458.7,168 458.7,168 459.75,169.28 460.8,168 460.8,168 461.85,169.4 462.9,168 462.9,168 463.95,169.58 465,168 465,168 466.05,169.33 467.1,168 467.1,168 468.15,169.22 469.2,168 469.2,168 470.25,169.34 471.3,168 471.3,168 472.35,169.26 473.4,168 473.4,168 474.45,169.39 475.5,168 475.5,168 476.55,169.56 477.6,168 477.6,168 478.65,168.89 479.7,168 479.7,168 480.75,169.11 481.8,168 481.8,168 482.85,169.51 483.9,168 483.9,168 484.95,168.92 486,168 486,168 487.05,169.45 488.1,168 488.1,168 489.15,168.9 490.2,168 490.2,168 491.25,169.35 492.3,168 492.3,168 493.35,169.46 494.4,168 494.4,168 495.45,169.05 496.5,168 496.5,168 497.55,169.15 498.6,168 498.6,168 499.65,169.04 500.7,168 500.7,168 501.75,169.39 502.8,168 502.8,168 503.85,169.26 504.9,168 504.9,168 505.95,169.32 507,168 507,168 508.05,169.11 509.1,168 509.1,168 510.15,169.3 511.2,168 511.2,168 512.25,169.57 513.3,168 513.3,168 514.35,169.44 515.4,168" stroke="#6eaaea" stroke-width="0.55" fill="none" stroke-linejoin="round"/>
<path d="M439.4 165.6V160.1M441.2 165.6V162M443 165.6V164M445.4 165.6V163M503.6 165.6V163M505.4 165.6V164" stroke="#c2c285" stroke-width="0.55" fill="none"/>
<path d="M465 168V172M467 168V174M469 168V173M471 168V172M502.8 168V192.7M504.5 168V190M506.3 168V184.8M508 168V179.5M509.8 168V175M512.1 168V172" stroke="#90bdf0" stroke-width="0.55" fill="none"/>
<line x1="437.7" y1="199.4" x2="515.1" y2="199.4" stroke="#c8c8c8" stroke-width="0.7"/>
<line x1="452.6" y1="199.4" x2="452.6" y2="200.4" stroke="#bbb" stroke-width="0.5"/>
<line x1="451.1" y1="201.4" x2="454.1" y2="201.4" stroke="#ccc" stroke-width="0.5"/>
<line x1="474.1" y1="199.4" x2="474.1" y2="200.4" stroke="#bbb" stroke-width="0.5"/>
<line x1="472.6" y1="201.4" x2="475.6" y2="201.4" stroke="#ccc" stroke-width="0.5"/>
<line x1="495.7" y1="199.4" x2="495.7" y2="200.4" stroke="#bbb" stroke-width="0.5"/>
<line x1="494.2" y1="201.4" x2="497.2" y2="201.4" stroke="#ccc" stroke-width="0.5"/>
<text transform="translate(441.01,161) rotate(-90)" fill="#e4202a" font-size="9.2">2853*</text>
<text transform="translate(506.11,161) rotate(-90)" fill="#111" font-size="9.2">2883</text>
<text transform="translate(436.19,172.5) rotate(90)" fill="#e4202a" font-size="9.2">2853*</text>
<text transform="translate(498.39,188) rotate(90)" fill="#111" font-size="9.2">2883</text>
<rect x="585.3" y="4.4" width="97.3" height="77" fill="#000" opacity="0.32" filter="url(#sh)"/>
<rect x="584.1" y="3.2" width="96.5" height="76.2" fill="#fff" stroke="#dadada" stroke-width="0.7"/>
<line x1="612" y1="5" x2="612" y2="73" stroke="#f4f4f4" stroke-width="0.6"/>
<line x1="640" y1="5" x2="640" y2="73" stroke="#f4f4f4" stroke-width="0.6"/>
<line x1="662" y1="5" x2="662" y2="73" stroke="#f4f4f4" stroke-width="0.6"/>
<line x1="590.3" y1="20" x2="674.4" y2="20" stroke="#f0f0f0" stroke-width="0.6"/>
<line x1="590.3" y1="58" x2="674.4" y2="58" stroke="#f0f0f0" stroke-width="0.6"/>
<polyline points="590.3,37.2 591.4,35.05 592.5,37.2 592.5,37.2 593.6,35.75 594.7,37.2 595.55,37.2 595.8,26 596.05,37.2 597.75,37.2 598,26 598.25,37.2 599.97,37.2 600.2,25 600.43,37.2 602.12,37.2 602.4,27.5 602.68,37.2 604.26,37.2 604.6,29 604.94,37.2 606.27,37.2 606.8,32 607.33,37.2 608.14,37.2 609,34 609.86,37.2 610.1,37.2 611.2,35.06 612.3,37.2 612.3,37.2 613.4,35.97 614.5,37.2 614.5,37.2 615.6,35.72 616.7,37.2 616.7,37.2 617.8,35.5 618.9,37.2 618.9,37.2 620,35.06 621.1,37.2 621.1,37.2 622.2,35.83 623.3,37.2 623.3,37.2 624.4,35.16 625.5,37.2 625.5,37.2 626.6,35.6 627.7,37.2 627.7,37.2 628.8,35.45 629.9,37.2 629.9,37.2 631,35.07 632.1,37.2 632.1,37.2 633.2,35.93 634.3,37.2 634.3,37.2 635.4,35.66 636.5,37.2 636.5,37.2 637.6,35.84 638.7,37.2 638.7,37.2 639.8,35.86 640.9,37.2 640.9,37.2 642,35.69 643.1,37.2 643.86,37.2 644.2,29 644.54,37.2 646.18,37.2 646.4,15 646.62,37.2 648.38,37.2 648.6,10.3 648.82,37.2 650.58,37.2 650.8,10.3 651.02,37.2 652.78,37.2 653,13.1 653.22,37.2 654.98,37.2 655.2,18.7 655.42,37.2 657.13,37.2 657.4,27 657.67,37.2 659.16,37.2 659.6,31 660.04,37.2 660.94,37.2 661.8,34 662.66,37.2 662.9,37.2 664,35.06 665.1,37.2 665.1,37.2 666.2,35.19 667.3,37.2 667.3,37.2 668.4,35.76 669.5,37.2 669.5,37.2 670.6,35.99 671.7,37.2 671.7,37.2 672.8,35.13 673.9,37.2 673.9,37.2 675,35.17 676.1,37.2" stroke="#b0b070" stroke-width="0.42" fill="none" stroke-linejoin="round"/>
<line x1="590.3" y1="38.9" x2="674.4" y2="38.9" stroke="#e4e4e4" stroke-width="0.5"/>
<polyline points="590.3,41.2 591.4,42.39 592.5,41.2 592.5,41.2 593.6,42.99 594.7,41.2 595.58,41.2 595.8,56.3 596.02,41.2 597.78,41.2 598,55 598.22,41.2 599.97,41.2 600.2,53 600.43,41.2 602.09,41.2 602.4,50 602.71,41.2 604.13,41.2 604.6,47 605.07,41.2 606.23,41.2 606.8,46 607.37,41.2 608.28,41.2 609,45 609.72,41.2 610.1,41.2 611.2,42.58 612.3,41.2 612.3,41.2 613.4,42.92 614.5,41.2 614.5,41.2 615.6,42.92 616.7,41.2 616.7,41.2 617.8,43.06 618.9,41.2 618.9,41.2 620,42.81 621.1,41.2 621.1,41.2 622.2,42.55 623.3,41.2 623.3,41.2 624.4,42.53 625.5,41.2 625.62,41.2 626.6,44 627.58,41.2 628.08,41.2 628.8,45 629.52,41.2 629.9,41.2 631,43.07 632.1,41.2 632.1,41.2 633.2,43.1 634.3,41.2 634.3,41.2 635.4,42.52 636.5,41.2 636.5,41.2 637.6,42.93 638.7,41.2 638.7,41.2 639.8,42.91 640.9,41.2 640.9,41.2 642,42.41 643.1,41.2 643.1,41.2 644.2,43 645.3,41.2 645.3,41.2 646.4,42.99 647.5,41.2 647.5,41.2 648.6,42.58 649.7,41.2 649.7,41.2 650.8,42.39 651.9,41.2 651.9,41.2 653,42.55 654.1,41.2 654.1,41.2 655.2,42.99 656.3,41.2 656.3,41.2 657.4,42.72 658.5,41.2 658.5,41.2 659.6,43.03 660.7,41.2 660.7,41.2 661.8,42.44 662.9,41.2 663.75,41.2 664,52 664.25,41.2 665.98,41.2 666.2,58 666.42,41.2 668.18,41.2 668.4,61.7 668.62,41.2 670.38,41.2 670.6,60 670.82,41.2 672.58,41.2 672.8,56 673.02,41.2 674.69,41.2 675,50 675.31,41.2" stroke="#7ab0ec" stroke-width="0.42" fill="none" stroke-linejoin="round"/>
<line x1="590.3" y1="73.8" x2="674.4" y2="73.8" stroke="#c8c8c8" stroke-width="0.7"/>
<text transform="translate(597.61,29.9) rotate(-90)" fill="#e4202a" font-size="9.2">3017*</text>
<text transform="translate(644.11,29.9) rotate(-90)" fill="#e4202a" font-size="9.2">3033*</text>
<text transform="translate(590.99,48.2) rotate(90)" fill="#e4202a" font-size="9.2">3017*</text>
<text transform="translate(610.19,46.7) rotate(90)" fill="#111" font-size="9.2">3023</text>
<text transform="translate(639.29,46.7) rotate(90)" fill="#e4202a" font-size="9.2">3033*</text>
<line x1="46.8" y1="213.6" x2="46.8" y2="439.5" stroke="#e9e9e9" stroke-width="0.8"/>
<line x1="173.7" y1="213.6" x2="173.7" y2="439.5" stroke="#e9e9e9" stroke-width="0.8"/>
<line x1="300.6" y1="213.6" x2="300.6" y2="439.5" stroke="#e9e9e9" stroke-width="0.8"/>
<line x1="427.5" y1="213.6" x2="427.5" y2="439.5" stroke="#e9e9e9" stroke-width="0.8"/>
<line x1="554.4" y1="213.6" x2="554.4" y2="439.5" stroke="#e9e9e9" stroke-width="0.8"/>
<line x1="20.6" y1="229.5" x2="680.5" y2="229.5" stroke="#ececec" stroke-width="0.8"/>
<line x1="20.6" y1="261.8" x2="680.5" y2="261.8" stroke="#ececec" stroke-width="0.8"/>
<line x1="20.6" y1="294.1" x2="680.5" y2="294.1" stroke="#ececec" stroke-width="0.8"/>
<line x1="20.6" y1="358.7" x2="680.5" y2="358.7" stroke="#ececec" stroke-width="0.8"/>
<line x1="20.6" y1="391" x2="680.5" y2="391" stroke="#ececec" stroke-width="0.8"/>
<line x1="20.6" y1="423.3" x2="680.5" y2="423.3" stroke="#ececec" stroke-width="0.8"/>
<rect x="20.6" y="213.6" width="659.9" height="225.9" fill="none" stroke="#a0a0a0" stroke-width="0.8"/>
<line x1="681.4" y1="214.1" x2="681.4" y2="440.0" stroke="#c8c8c8" stroke-width="1"/>
<line x1="21.6" y1="440.5" x2="681.5" y2="440.5" stroke="#e0e0e0" stroke-width="1"/>
<line x1="20.6" y1="213.6" x2="20.6" y2="439.5" stroke="#5c5c5c" stroke-width="0.8"/>
<line x1="20.6" y1="439.5" x2="680.5" y2="439.5" stroke="#a0a0a0" stroke-width="0.8"/>
<line x1="19.3" y1="434.07" x2="20.6" y2="434.07" stroke="#666" stroke-width="0.6"/>
<line x1="18.6" y1="423.3" x2="20.6" y2="423.3" stroke="#666" stroke-width="0.6"/>
<line x1="19.3" y1="412.54" x2="20.6" y2="412.54" stroke="#666" stroke-width="0.6"/>
<line x1="19.3" y1="401.77" x2="20.6" y2="401.77" stroke="#666" stroke-width="0.6"/>
<line x1="18.6" y1="391" x2="20.6" y2="391" stroke="#666" stroke-width="0.6"/>
<line x1="19.3" y1="380.23" x2="20.6" y2="380.23" stroke="#666" stroke-width="0.6"/>
<line x1="19.3" y1="369.47" x2="20.6" y2="369.47" stroke="#666" stroke-width="0.6"/>
<line x1="18.6" y1="358.7" x2="20.6" y2="358.7" stroke="#666" stroke-width="0.6"/>
<line x1="19.3" y1="347.93" x2="20.6" y2="347.93" stroke="#666" stroke-width="0.6"/>
<line x1="19.3" y1="337.17" x2="20.6" y2="337.17" stroke="#666" stroke-width="0.6"/>
<line x1="18.6" y1="326.4" x2="20.6" y2="326.4" stroke="#666" stroke-width="0.6"/>
<line x1="19.3" y1="315.63" x2="20.6" y2="315.63" stroke="#666" stroke-width="0.6"/>
<line x1="19.3" y1="304.87" x2="20.6" y2="304.87" stroke="#666" stroke-width="0.6"/>
<line x1="18.6" y1="294.1" x2="20.6" y2="294.1" stroke="#666" stroke-width="0.6"/>
<line x1="19.3" y1="283.33" x2="20.6" y2="283.33" stroke="#666" stroke-width="0.6"/>
<line x1="19.3" y1="272.56" x2="20.6" y2="272.56" stroke="#666" stroke-width="0.6"/>
<line x1="18.6" y1="261.8" x2="20.6" y2="261.8" stroke="#666" stroke-width="0.6"/>
<line x1="19.3" y1="251.03" x2="20.6" y2="251.03" stroke="#666" stroke-width="0.6"/>
<line x1="19.3" y1="240.26" x2="20.6" y2="240.26" stroke="#666" stroke-width="0.6"/>
<line x1="18.6" y1="229.5" x2="20.6" y2="229.5" stroke="#666" stroke-width="0.6"/>
<line x1="19.3" y1="218.73" x2="20.6" y2="218.73" stroke="#666" stroke-width="0.6"/>
<text x="18.3" y="231.2" font-size="4.8" fill="#777" text-anchor="end">90</text>
<text x="18.3" y="263.5" font-size="4.8" fill="#777" text-anchor="end">60</text>
<text x="18.3" y="295.8" font-size="4.8" fill="#777" text-anchor="end">30</text>
<text x="18.3" y="328.1" font-size="4.8" fill="#777" text-anchor="end">0</text>
<text x="18.3" y="360.4" font-size="4.8" fill="#777" text-anchor="end">-30</text>
<text x="18.3" y="392.7" font-size="4.8" fill="#777" text-anchor="end">-60</text>
<text x="18.3" y="425" font-size="4.8" fill="#777" text-anchor="end">-90</text>
<line x1="21.42" y1="439.5" x2="21.42" y2="441" stroke="#666" stroke-width="0.6"/>
<line x1="46.8" y1="439.5" x2="46.8" y2="441" stroke="#666" stroke-width="0.6"/>
<line x1="72.18" y1="439.5" x2="72.18" y2="441" stroke="#666" stroke-width="0.6"/>
<line x1="97.56" y1="439.5" x2="97.56" y2="441" stroke="#666" stroke-width="0.6"/>
<line x1="122.94" y1="439.5" x2="122.94" y2="441" stroke="#666" stroke-width="0.6"/>
<line x1="148.32" y1="439.5" x2="148.32" y2="441" stroke="#666" stroke-width="0.6"/>
<line x1="173.7" y1="439.5" x2="173.7" y2="441" stroke="#666" stroke-width="0.6"/>
<line x1="199.08" y1="439.5" x2="199.08" y2="441" stroke="#666" stroke-width="0.6"/>
<line x1="224.46" y1="439.5" x2="224.46" y2="441" stroke="#666" stroke-width="0.6"/>
<line x1="249.84" y1="439.5" x2="249.84" y2="441" stroke="#666" stroke-width="0.6"/>
<line x1="275.22" y1="439.5" x2="275.22" y2="441" stroke="#666" stroke-width="0.6"/>
<line x1="300.6" y1="439.5" x2="300.6" y2="441" stroke="#666" stroke-width="0.6"/>
<line x1="325.98" y1="439.5" x2="325.98" y2="441" stroke="#666" stroke-width="0.6"/>
<line x1="351.36" y1="439.5" x2="351.36" y2="441" stroke="#666" stroke-width="0.6"/>
<line x1="376.74" y1="439.5" x2="376.74" y2="441" stroke="#666" stroke-width="0.6"/>
<line x1="402.12" y1="439.5" x2="402.12" y2="441" stroke="#666" stroke-width="0.6"/>
<line x1="427.5" y1="439.5" x2="427.5" y2="441" stroke="#666" stroke-width="0.6"/>
<line x1="452.88" y1="439.5" x2="452.88" y2="441" stroke="#666" stroke-width="0.6"/>
<line x1="478.26" y1="439.5" x2="478.26" y2="441" stroke="#666" stroke-width="0.6"/>
<line x1="503.64" y1="439.5" x2="503.64" y2="441" stroke="#666" stroke-width="0.6"/>
<line x1="529.02" y1="439.5" x2="529.02" y2="441" stroke="#666" stroke-width="0.6"/>
<line x1="554.4" y1="439.5" x2="554.4" y2="441" stroke="#666" stroke-width="0.6"/>
<line x1="579.78" y1="439.5" x2="579.78" y2="441" stroke="#666" stroke-width="0.6"/>
<line x1="605.16" y1="439.5" x2="605.16" y2="441" stroke="#666" stroke-width="0.6"/>
<line x1="630.54" y1="439.5" x2="630.54" y2="441" stroke="#666" stroke-width="0.6"/>
<line x1="655.92" y1="439.5" x2="655.92" y2="441" stroke="#666" stroke-width="0.6"/>
<text x="46.8" y="446.7" font-size="4.8" fill="#666" text-anchor="middle">1000</text>
<text x="173.7" y="446.7" font-size="4.8" fill="#666" text-anchor="middle">1500</text>
<text x="300.6" y="446.7" font-size="4.8" fill="#666" text-anchor="middle">2000</text>
<text x="427.5" y="446.7" font-size="4.8" fill="#666" text-anchor="middle">2500</text>
<text x="554.4" y="446.7" font-size="4.8" fill="#666" text-anchor="middle">3000</text>
<text x="676" y="452.3" font-size="4.3" fill="#777" text-anchor="middle">m/z</text>
<text transform="translate(7.2,232.6) rotate(-90)" font-size="4.6" fill="#777">r. int. (%)</text>
<polygon points="21.5,317.81 22,316.56 22.5,317.95 23,316.46 23.5,317.76 24,316.42 24.5,316.16 25,316.04 25.5,316.18 26,316.39 26.5,317.03 27,315.24 27.5,316.65 28,317.13 28.5,316.09 29,316.72 29.5,318.07 30,316.33 30.5,317.25 31,317.96 31.5,317.25 32,316.79 32.5,316.9 33,317.42 33.5,316.9 34,317.51 34.5,316.98 35,316.51 35.5,317.26 36,316.78 36.5,316.45 37,316.82 37.5,318.18 38,317.29 38.5,317.28 39,316.98 39.5,317.87 40,315.85 40.5,318.27 41,316.75 41.5,317.66 42,317.08 42.5,313.32 43,316.67 43.5,317.15 44,313.86 44.5,317.4 45,317.07 45.5,316.54 46,318 46.5,317.28 47,316.49 47.5,316.9 48,314.04 48.5,312.64 49,317.84 49.5,318.17 50,317.48 50.5,316.89 51,317.25 51.5,314.28 52,317.32 52.5,317.05 53,316.38 53.5,316.6 54,318.29 54.5,316.87 55,317.66 55.5,316.61 56,318.28 56.5,314.29 57,317 57.5,314.06 58,317.55 58.5,318.51 59,317.13 59.5,314.37 60,318.55 60.5,316.86 61,317.6 61.5,315.4 62,318.34 62.5,313.57 63,318.54 63.5,318.33 64,317.75 64.5,317.28 65,317.57 65.5,318.4 66,317.65 66.5,317.08 67,317.43 67.5,316.95 68,318.48 68.5,317.06 69,317.35 69.5,317.13 70,317.84 70.5,317.92 71,314.78 71.5,317.98 72,316.78 72.5,318.65 73,318.24 73.5,317.97 74,315.18 74.5,317.65 75,317.41 75.5,315.73 76,316.87 76.5,318.11 77,317.13 77.5,316.86 78,318.62 78.5,317.76 79,317.57 79.5,317.65 80,317.96 80.5,318.44 81,318.05 81.5,317.01 82,316.87 82.5,315.68 83,317.96 83.5,317.51 84,317.25 84.5,317.8 85,318.37 85.5,317.51 86,318.63 86.5,317.76 87,317.42 87.5,318.46 88,318.26 88.5,317.33 89,318.43 89.5,318.93 90,317.09 90.5,317.67 91,318.81 91.5,318.06 92,315.61 92.5,318.77 93,317.31 93.5,317.43 94,317.93 94.5,317.95 95,318.92 95.5,317.2 96,317.17 96.5,318.46 97,317.49 97.5,318.83 98,318.43 98.5,317.48 99,317.62 99.5,318.33 100,318.43 100.5,317.97 101,318.05 101.5,319.01 102,317.88 102.5,315.29 103,317.63 103.5,317.69 104,317.26 104.5,317.74 105,317.44 105.5,317.6 106,318.26 106.5,317.8 107,317.58 107.5,318.62 108,317.57 108.5,318.06 109,317.82 109.5,319.05 110,317.36 110.5,318.25 111,318.11 111.5,317.88 112,319.26 112.5,317.56 113,319 113.5,316.71 114,318.68 114.5,319.02 115,319.26 115.5,316.41 116,317.46 116.5,318.87 117,317.52 117.5,312.77 118,318.25 118.5,319.24 119,318.51 119.5,318.52 120,318.38 120.5,317.99 121,318.34 121.5,319.43 122,318.6 122.5,315.51 123,317.87 123.5,317.99 124,318.33 124.5,319.3 125,318.88 125.5,318.13 126,318.28 126.5,318.2 127,318.03 127.5,318.34 128,318.47 128.5,318.92 129,319.09 129.5,317.71 130,319.19 130.5,318.65 131,317.92 131.5,319.21 132,318.91 132.5,316.08 133,319.57 133.5,319.43 134,318.81 134.5,317.83 135,318.01 135.5,319.14 136,319.55 136.5,319.68 137,318.09 137.5,319.52 138,319.24 138.5,319.71 139,318.13 139.5,317.89 140,319.29 140.5,319.63 141,318.77 141.5,319.09 142,318.01 142.5,318.64 143,319.03 143.5,318.57 144,318.57 144.5,316.83 145,319.47 145.5,318.75 146,318.56 146.5,319.83 147,319.4 147.5,319.33 148,319.21 148.5,319.82 149,319.86 149.5,319.47 150,317.88 150.5,318.65 151,318.25 151.5,319.56 152,318.3 152.5,319.4 153,316.94 153.5,318.67 154,318.46 154.5,318.67 155,319.78 155.5,318.32 156,319.49 156.5,318.12 157,318.33 157.5,318.58 158,318.51 158.5,319.54 159,319.05 159.5,318.08 160,318.71 160.5,315.89 161,319.89 161.5,319.06 162,318.96 162.5,319.43 163,319.48 163.5,319.32 164,318.2 164.5,316.78 165,319.96 165.5,319.54 166,318.37 166.5,317.63 167,318.6 167.5,319.43 168,319.2 168.5,320.04 169,318.47 169.5,319.94 170,319.17 170.5,316.62 171,319.9 171.5,317.3 172,318.57 172.5,320.05 173,318.76 173.5,318.34 174,319.21 174.5,316.27 175,318.44 175.5,319.93 176,319.55 176.5,317.62 177,318.66 177.5,319.75 178,316.45 178.5,318.36 179,319.11 179.5,319.78 180,318.58 180.5,318.82 181,318.77 181.5,319.27 182,319.86 182.5,319.49 183,319.98 183.5,316.35 184,319.45 184.5,319.38 185,319.41 185.5,318.65 186,320.32 186.5,319.54 187,318.89 187.5,318.18 188,319.35 188.5,319.87 189,320.41 189.5,319.45 190,318.37 190.5,318.27 191,317.92 191.5,318.7 192,320.28 192.5,320.19 193,318.66 193.5,320.13 194,320.39 194.5,316.71 195,317.68 195.5,319.48 196,319.26 196.5,319.72 197,318.56 197.5,319.07 198,318.9 198.5,319.37 199,320.2 199.5,318.95 200,319.63 200.5,318.7 201,320.04 201.5,319.19 202,319.17 202.5,317.59 203,319.58 203.5,319.32 204,320.19 204.5,318.93 205,320.43 205.5,318.85 206,316.67 206.5,319.44 207,319.67 207.5,320.64 208,318.16 208.5,318.86 209,319.3 209.5,319.15 210,319.67 210.5,319.45 211,319.11 211.5,319.74 212,320.05 212.5,319.55 213,320.22 213.5,319.8 214,320.49 214.5,320.48 215,319.95 215.5,320.24 216,320.12 216.5,320.1 217,320.2 217.5,320.03 218,319.77 218.5,320.26 219,320.18 219.5,318.7 220,319.33 220.5,319.62 221,319.1 221.5,319.25 222,320.38 222.5,319.92 223,319.13 223.5,319.27 224,318.68 224.5,319.83 225,320.38 225.5,319.88 226,319.94 226.5,319.44 227,318.79 227.5,319.9 228,319.87 228.5,319.4 229,318.68 229.5,317.88 230,319.75 230.5,320.07 231,320.1 231.5,320.57 232,319.85 232.5,319.74 233,319.6 233.5,319.24 234,319.77 234.5,320.29 235,319.4 235.5,320.86 236,319.8 236.5,319.32 237,320.3 237.5,319.37 238,319.51 238.5,320.73 239,319.52 239.5,319.76 240,320.37 240.5,319.81 241,321.07 241.5,319.37 242,319.57 242.5,320.19 243,320.32 243.5,318.58 244,320.03 244.5,319.87 245,320.64 245.5,319.82 246,320.48 246.5,320.86 247,319.65 247.5,321.11 248,318.1 248.5,320.57 249,319.69 249.5,320.19 250,320.81 250.5,319.84 251,320.31 251.5,320.5 252,316.13 252.5,320.39 253,320.78 253.5,319.66 254,320.78 254.5,318.85 255,320.76 255.5,319.71 256,317.64 256.5,320.07 257,319.53 257.5,320.11 258,320.93 258.5,320.08 259,315.16 259.5,321.19 260,319.8 260.5,320.54 261,320.07 261.5,319.66 262,320.8 262.5,319.98 263,321.15 263.5,321.14 264,321.15 264.5,319.99 265,320.31 265.5,319.72 266,320.26 266.5,320.15 267,320.04 267.5,320.96 268,320.49 268.5,320.96 269,318.95 269.5,319.74 270,318.07 270.5,320.59 271,317.97 271.5,320.95 272,321.1 272.5,318.74 273,320.66 273.5,320.3 274,320.15 274.5,320.2 275,316.4 275.5,320.51 276,320.34 276.5,319.73 277,320.69 277.5,320.91 278,319.9 278.5,319.06 279,320.77 279.5,320.25 280,321.27 280.5,320.88 281,321.55 281.5,321.09 282,320.48 282.5,320.88 283,321.48 283.5,320.33 284,321.31 284.5,321.14 285,318.36 285.5,320.83 286,320.34 286.5,320.45 287,320.35 287.5,320.58 288,320.14 288.5,320.1 289,319.55 289.5,321.02 290,320.19 290.5,320.44 291,320.67 291.5,321.03 292,320.76 292.5,320.74 293,320.5 293.5,320.44 294,321.73 294.5,320.62 295,318.3 295.5,320.9 296,320.18 296.5,319.58 297,321.59 297.5,320.14 298,321.17 298.5,320.87 299,321.21 299.5,321.38 300,319.88 300.5,320.97 301,321.19 301.5,321.82 302,318.18 302.5,320.82 303,318.59 303.5,320.39 304,321.57 304.5,320.5 305,321.18 305.5,321.6 306,320.95 306.5,321.15 307,319.03 307.5,321 308,320.31 308.5,321.6 309,320.39 309.5,321.72 310,320.3 310.5,321.57 311,321.93 311.5,318.35 312,321.4 312.5,321.15 313,321.96 313.5,320.43 314,321.13 314.5,321.2 315,320.69 315.5,319.04 316,319.56 316.5,320.8 317,321.92 317.5,320.44 318,321.72 318.5,320.76 319,319.36 319.5,321.34 320,321.1 320.5,319.4 321,320.53 321.5,320.85 322,320.06 322.5,320.64 323,321.38 323.5,320.82 324,317.09 324.5,320.93 325,321.89 325.5,321.51 326,322.03 326.5,321.49 327,321.23 327.5,319.96 328,321.32 328.5,320.62 329,321.64 329.5,320.94 330,322.08 330.5,321.63 331,321.08 331.5,321.41 332,321.56 332.5,321.39 333,322.07 333.5,322.17 334,321.94 334.5,321.11 335,322.1 335.5,320.72 336,317.55 336.5,321.65 337,322.17 337.5,321.79 338,320.17 338.5,321.82 339,322.1 339.5,321.7 340,321.61 340.5,320.87 341,321.18 341.5,322.28 342,322.31 342.5,321.73 343,321.74 343.5,321.62 344,321.58 344.5,321.05 345,321.02 345.5,319.14 346,321.87 346.5,321.11 347,322.23 347.5,321.48 348,321.61 348.5,321.15 349,320.96 349.5,321.84 350,322.31 350.5,321.26 351,322.23 351.5,322.08 352,321.65 352.5,320.88 353,321.83 353.5,321.97 354,321.67 354.5,322.45 355,321.14 355.5,321.85 356,321.81 356.5,318.97 357,321.47 357.5,321.89 358,321.15 358.5,319.13 359,321.99 359.5,321.34 360,321.6 360.5,322.51 361,321.1 361.5,321.63 362,322.05 362.5,321.71 363,321.97 363.5,321.07 364,319.51 364.5,321.72 365,321.39 365.5,321.55 366,322.11 366.5,322.05 367,321.36 367.5,321.7 368,322.32 368.5,322.25 369,321.25 369.5,322.31 370,322.33 370.5,322.56 371,321.52 371.5,319.71 372,320.91 372.5,321.59 373,321.13 373.5,321.76 374,321.4 374.5,318.25 375,321.82 375.5,320.56 376,321.37 376.5,319.85 377,322.09 377.5,321.36 378,322.59 378.5,319.82 379,321.42 379.5,322.15 380,321.3 380.5,321.68 381,322.3 381.5,320.45 382,321.84 382.5,321.25 383,322.19 383.5,322.74 384,322.68 384.5,322.15 385,322.52 385.5,321.43 386,321.75 386.5,321.85 387,321.44 387.5,321.39 388,321.39 388.5,321.96 389,321.54 389.5,322.31 390,321.71 390.5,321.44 391,321.42 391.5,321.82 392,321.87 392.5,321.62 393,321.81 393.5,322.67 394,322.57 394.5,321.92 395,321.97 395.5,321.97 396,322.83 396.5,321.18 397,322.07 397.5,322.63 398,322.15 398.5,321.43 399,322.75 399.5,322.34 400,322.4 400.5,322.69 401,322.04 401.5,322.28 402,322.5 402.5,322.75 403,321.86 403.5,321.78 404,321.56 404.5,321.83 405,321.8 405.5,322.8 406,322.09 406.5,321.33 407,322.83 407.5,321.73 408,322.44 408.5,322.55 409,322.05 409.5,322.45 410,321.71 410.5,322.46 411,322.15 411.5,321.96 412,322.03 412.5,322.73 413,323.01 413.5,322.52 414,323 414.5,322.3 415,322.24 415.5,322 416,322.28 416.5,322.1 417,322.97 417.5,322.7 418,322.09 418.5,322.77 419,323.11 419.5,321.86 420,323.16 420.5,322.95 421,322.49 421.5,320.32 422,322.77 422.5,323.04 423,322.67 423.5,321.79 424,322.63 424.5,321.38 425,322.44 425.5,322.72 426,322.73 426.5,322.69 427,322.84 427.5,322.41 428,322.23 428.5,323.05 429,322.81 429.5,321.81 430,322.25 430.5,322.29 431,322.07 431.5,323.25 432,322.77 432.5,319.62 433,321.37 433.5,322.98 434,323.17 434.5,321.43 435,322.14 435.5,322.09 436,322.14 436.5,322.65 437,318.54 437.5,322.35 438,322.48 438.5,322.27 439,322.81 439.5,322 440,323.15 440.5,322.02 441,323.09 441.5,322.06 442,322.6 442.5,322.2 443,322.44 443.5,322.08 444,322.31 444.5,323.19 445,322.29 445.5,322.23 446,322.84 446.5,322.09 447,322.65 447.5,323.07 448,322.37 448.5,322.17 449,323.13 449.5,322.21 450,323.03 450.5,322.57 451,322.44 451.5,323.27 452,322.8 452.5,323.43 453,322.28 453.5,322.41 454,322.44 454.5,322.69 455,322.71 455.5,322.2 456,322.51 456.5,323.48 457,323.1 457.5,323.21 458,322.52 458.5,322.63 459,322.78 459.5,322.69 460,322.61 460.5,322.95 461,323.3 461.5,319.77 462,322.91 462.5,323.07 463,322.06 463.5,322.45 464,322.69 464.5,323.29 465,323.35 465.5,322.98 466,323.1 466.5,323.39 467,323.41 467.5,320.84 468,323.05 468.5,322.43 469,321.59 469.5,320.13 470,322.78 470.5,322.03 471,322.89 471.5,322.4 472,323.03 472.5,322.71 473,322.86 473.5,321.03 474,322.55 474.5,322.71 475,322.4 475.5,322.96 476,322.54 476.5,322.65 477,322.9 477.5,322.47 478,323.18 478.5,322.95 479,323.32 479.5,322.16 480,319.49 480.5,323.17 481,323.63 481.5,322.43 482,322.46 482.5,322.52 483,322.99 483.5,323.55 484,322.56 484.5,322.3 485,323.41 485.5,322.56 486,323.65 486.5,323.38 487,322.7 487.5,323.08 488,322.72 488.5,323.09 489,323.22 489.5,323.82 490,323.03 490.5,322.56 491,322.97 491.5,323.33 492,323.72 492.5,323.46 493,323.15 493.5,322.77 494,323.62 494.5,323.82 495,323.27 495.5,322.01 496,323.39 496.5,323.73 497,323.32 497.5,323.1 498,323.08 498.5,322.72 499,323.62 499.5,320.67 500,323.02 500.5,323.32 501,323.05 501.5,323.14 502,322.65 502.5,323.71 503,323.61 503.5,323.01 504,323.41 504.5,323.29 505,322.5 505.5,323.86 506,323.45 506.5,322.55 507,323.95 507.5,323.95 508,322.86 508.5,323.23 509,323.12 509.5,323.81 510,322.96 510.5,323.59 511,322.72 511.5,322.83 512,323.65 512.5,322.22 513,323.38 513.5,322.95 514,323.18 514.5,323.03 515,322.96 515.5,319.91 516,323.32 516.5,323.06 517,323.17 517.5,323.06 518,323.96 518.5,323.73 519,323.12 519.5,323.1 520,323.49 520.5,323.7 521,323.21 521.5,323.27 522,322.44 522.5,324.04 523,323.16 523.5,323.8 524,323.46 524.5,323.69 525,323.54 525.5,323.83 526,323.65 526.5,323.1 527,323.66 527.5,323.57 528,322.55 528.5,323.72 529,323.33 529.5,323.99 530,323.49 530.5,323.26 531,324.03 531.5,323.29 532,323.65 532.5,323.71 533,323.19 533.5,322.41 534,323.05 534.5,324.07 535,322.72 535.5,322.99 536,323.73 536.5,323.84 537,323.75 537.5,324.04 538,323.82 538.5,323.56 539,323.01 539.5,323.62 540,323.26 540.5,319.32 541,323.69 541.5,321.84 542,323.2 542.5,323.91 543,323.63 543.5,324.28 544,324.05 544.5,323.31 545,323.61 545.5,321.88 546,323.97 546.5,319.96 547,321.98 547.5,323.77 548,323.38 548.5,324.16 549,324.19 549.5,323.56 550,322.64 550.5,323.84 551,323.2 551.5,322.28 552,324.25 552.5,323.34 553,324.05 553.5,323.47 554,323.9 554.5,324.25 555,321.58 555.5,323.15 556,322.11 556.5,324.22 557,324.16 557.5,323.18 558,323.65 558.5,323.4 559,323.6 559.5,323.89 560,323.43 560.5,322.06 561,322.3 561.5,323.78 562,323.02 562.5,324.26 563,323.78 563.5,324.25 564,323.73 564.5,324.34 565,324.22 565.5,323.35 566,323.7 566.5,323.3 567,323.6 567.5,324.06 568,324.13 568.5,322.34 569,323.73 569.5,323.67 570,324.01 570.5,323.26 571,324.18 571.5,324.32 572,323.7 572.5,323.99 573,323.63 573.5,323.78 574,323.6 574.5,324.04 575,323.5 575.5,323.72 576,323.52 576.5,323.36 577,324.24 577.5,324.29 578,324.2 578.5,324.23 579,324.5 579.5,322.54 580,323.76 580.5,324.48 581,324.23 581.5,323.68 582,323.47 582.5,323.41 583,324.52 583.5,324.53 584,324.32 584.5,324.36 585,324.54 585.5,322.73 586,323.51 586.5,323.66 587,323.86 587.5,324.1 588,324.35 588.5,323.66 589,324.3 589.5,323.81 590,323.59 590.5,323.61 591,323.92 591.5,323.94 592,323.66 592.5,324.4 593,321.12 593.5,321.79 594,324.02 594.5,323.26 595,324.07 595.5,322.92 596,324.25 596.5,324.3 597,323.94 597.5,323.99 598,324.02 598.5,324.4 599,323.81 599.5,324.18 600,324.32 600.5,323.96 601,323.79 601.5,323.73 602,323.27 602.5,324.23 603,323.63 603.5,324.57 604,324.63 604.5,324.46 605,324.38 605.5,324.55 606,324.29 606.5,323.99 607,324.49 607.5,324.42 608,322.96 608.5,324.38 609,323.75 609.5,323.83 610,324.01 610.5,323.65 611,324.4 611.5,324.25 612,324.55 612.5,323.74 613,323.73 613.5,321.81 614,324.6 614.5,324.61 615,322.58 615.5,324.38 616,323 616.5,324.16 617,324 617.5,324.03 618,323.74 618.5,324.54 619,324.55 619.5,324.32 620,324.49 620.5,324.78 621,323.8 621.5,324.32 622,324.56 622.5,324.58 623,323.98 623.5,324.04 624,323.82 624.5,324.53 625,324.15 625.5,323.76 626,324.54 626.5,323.85 627,324.52 627.5,323.79 628,323.94 628.5,324.27 629,324.62 629.5,323.96 630,324.08 630.5,323.88 631,324.24 631.5,324.56 632,324.2 632.5,324.18 633,324.6 633.5,324.26 634,323.92 634.5,324.75 635,323.87 635.5,324.71 636,324.68 636.5,324.22 637,324.85 637.5,323.77 638,324.17 638.5,323.89 639,323.94 639.5,323.85 640,324.51 640.5,323.89 641,323.99 641.5,324.63 642,324.37 642.5,323.88 643,324 643.5,324.11 644,324.05 644.5,323.81 645,324.11 645.5,324.9 646,324.73 646.5,324.2 647,322.79 647.5,324.01 648,324.7 648.5,324.74 649,324.33 649.5,324.57 650,322.97 650.5,324.54 651,324.47 651.5,321.43 652,324.47 652.5,323.88 653,324.42 653.5,323.99 654,324.7 654.5,324.93 655,324.45 655.5,323.81 656,321.02 656.5,324.07 657,324.16 657.5,324.58 658,323.72 658.5,324.83 659,324.67 659.5,324.22 660,321.09 660.5,324.7 661,324.29 661.5,324.64 662,324.8 662.5,324.28 663,323.25 663.5,323.24 664,324.7 664.5,324.57 665,324.27 665.5,324.58 666,324.21 666.5,324.04 667,324.76 667.5,324.57 668,324.8 668.5,324.22 669,324.91 669.5,324.71 670,324.06 670.5,324.6 671,324.79 671.5,324.5 672,324.06 672.5,324.24 673,324.38 673.5,324.26 674,324.36 674.5,324.18 675,324.52 675.5,323.93 676,324.84 676.5,324.06 677,324.23 677.5,324.08 678,324.1 678.5,324.89 679,324.78 679.5,324.68 680,324.89 680,326.4 679.5,326.4 679,326.39 678.5,326.39 678,326.39 677.5,326.39 677,326.39 676.5,326.39 676,326.39 675.5,326.38 675,326.38 674.5,326.38 674,326.38 673.5,326.38 673,326.38 672.5,326.38 672,326.37 671.5,326.37 671,326.37 670.5,326.37 670,326.37 669.5,326.37 669,326.37 668.5,326.36 668,326.36 667.5,326.36 667,326.36 666.5,326.36 666,326.36 665.5,326.36 665,326.35 664.5,326.35 664,326.35 663.5,326.35 663,326.35 662.5,326.35 662,326.35 661.5,326.34 661,326.34 660.5,326.34 660,326.34 659.5,326.34 659,326.34 658.5,326.34 658,326.33 657.5,326.33 657,326.33 656.5,326.33 656,326.33 655.5,326.33 655,326.33 654.5,326.32 654,326.32 653.5,326.32 653,326.32 652.5,326.32 652,326.32 651.5,326.32 651,326.31 650.5,326.31 650,326.31 649.5,326.31 649,326.31 648.5,326.31 648,326.3 647.5,326.3 647,326.3 646.5,326.3 646,326.3 645.5,326.3 645,326.3 644.5,326.29 644,326.29 643.5,326.29 643,326.29 642.5,326.29 642,326.29 641.5,326.29 641,326.28 640.5,326.28 640,326.28 639.5,326.28 639,326.28 638.5,326.28 638,326.28 637.5,326.27 637,326.27 636.5,326.27 636,326.27 635.5,326.27 635,326.27 634.5,326.27 634,326.26 633.5,326.26 633,326.26 632.5,326.26 632,326.26 631.5,326.26 631,326.26 630.5,326.25 630,326.25 629.5,326.25 629,326.25 628.5,326.25 628,326.25 627.5,326.25 627,326.24 626.5,326.24 626,326.24 625.5,326.24 625,326.24 624.5,326.24 624,326.24 623.5,326.23 623,326.23 622.5,326.23 622,326.23 621.5,326.23 621,326.23 620.5,326.23 620,326.22 619.5,326.22 619,326.22 618.5,326.22 618,326.22 617.5,326.22 617,326.22 616.5,326.21 616,326.21 615.5,326.21 615,326.21 614.5,326.21 614,326.21 613.5,326.21 613,326.2 612.5,326.2 612,326.2 611.5,326.2 611,326.2 610.5,326.2 610,326.2 609.5,326.19 609,326.19 608.5,326.19 608,326.19 607.5,326.19 607,326.19 606.5,326.19 606,326.18 605.5,326.18 605,326.18 604.5,326.18 604,326.18 603.5,326.18 603,326.18 602.5,326.17 602,326.17 601.5,326.17 601,326.17 600.5,326.17 600,326.17 599.5,326.17 599,326.16 598.5,326.16 598,326.16 597.5,326.16 597,326.16 596.5,326.16 596,326.16 595.5,326.15 595,326.15 594.5,326.15 594,326.15 593.5,326.15 593,326.15 592.5,326.15 592,326.14 591.5,326.14 591,326.14 590.5,326.14 590,326.14 589.5,326.14 589,326.14 588.5,326.13 588,326.13 587.5,326.13 587,326.13 586.5,326.13 586,326.13 585.5,326.13 585,326.12 584.5,326.12 584,326.12 583.5,326.12 583,326.12 582.5,326.12 582,326.11 581.5,326.11 581,326.11 580.5,326.11 580,326.11 579.5,326.11 579,326.11 578.5,326.1 578,326.1 577.5,326.1 577,326.1 576.5,326.1 576,326.1 575.5,326.1 575,326.09 574.5,326.09 574,326.09 573.5,326.09 573,326.09 572.5,326.09 572,326.09 571.5,326.08 571,326.08 570.5,326.08 570,326.08 569.5,326.08 569,326.08 568.5,326.08 568,326.07 567.5,326.07 567,326.07 566.5,326.07 566,326.07 565.5,326.07 565,326.07 564.5,326.06 564,326.06 563.5,326.06 563,326.06 562.5,326.06 562,326.06 561.5,326.06 561,326.05 560.5,326.05 560,326.05 559.5,326.05 559,326.05 558.5,326.05 558,326.05 557.5,326.04 557,326.04 556.5,326.04 556,326.04 555.5,326.04 555,326.04 554.5,326.04 554,326.03 553.5,326.03 553,326.03 552.5,326.03 552,326.03 551.5,326.03 551,326.03 550.5,326.02 550,326.02 549.5,326.02 549,326.02 548.5,326.02 548,326.02 547.5,326.02 547,326.01 546.5,326.01 546,326.01 545.5,326.01 545,326.01 544.5,326.01 544,326.01 543.5,326 543,326 542.5,326 542,326 541.5,326 541,326 540.5,326 540,325.99 539.5,325.99 539,325.99 538.5,325.99 538,325.99 537.5,325.99 537,325.99 536.5,325.98 536,325.98 535.5,325.98 535,325.98 534.5,325.98 534,325.98 533.5,325.98 533,325.97 532.5,325.97 532,325.97 531.5,325.97 531,325.97 530.5,325.97 530,325.97 529.5,325.96 529,325.96 528.5,325.96 528,325.96 527.5,325.96 527,325.96 526.5,325.96 526,325.95 525.5,325.95 525,325.95 524.5,325.95 524,325.95 523.5,325.95 523,325.95 522.5,325.94 522,325.94 521.5,325.94 521,325.94 520.5,325.94 520,325.94 519.5,325.94 519,325.93 518.5,325.93 518,325.93 517.5,325.93 517,325.93 516.5,325.93 516,325.92 515.5,325.92 515,325.92 514.5,325.92 514,325.92 513.5,325.92 513,325.92 512.5,325.91 512,325.91 511.5,325.91 511,325.91 510.5,325.91 510,325.91 509.5,325.91 509,325.9 508.5,325.9 508,325.9 507.5,325.9 507,325.9 506.5,325.9 506,325.9 505.5,325.89 505,325.89 504.5,325.89 504,325.89 503.5,325.89 503,325.89 502.5,325.89 502,325.88 501.5,325.88 501,325.88 500.5,325.88 500,325.88 499.5,325.88 499,325.88 498.5,325.87 498,325.87 497.5,325.87 497,325.87 496.5,325.87 496,325.87 495.5,325.87 495,325.86 494.5,325.86 494,325.86 493.5,325.86 493,325.86 492.5,325.86 492,325.86 491.5,325.85 491,325.85 490.5,325.85 490,325.85 489.5,325.85 489,325.85 488.5,325.85 488,325.84 487.5,325.84 487,325.84 486.5,325.84 486,325.84 485.5,325.84 485,325.84 484.5,325.83 484,325.83 483.5,325.83 483,325.83 482.5,325.83 482,325.83 481.5,325.83 481,325.82 480.5,325.82 480,325.82 479.5,325.82 479,325.82 478.5,325.82 478,325.82 477.5,325.81 477,325.81 476.5,325.81 476,325.81 475.5,325.81 475,325.81 474.5,325.81 474,325.8 473.5,325.8 473,325.8 472.5,325.8 472,325.8 471.5,325.8 471,325.8 470.5,325.79 470,325.79 469.5,325.79 469,325.79 468.5,325.79 468,325.79 467.5,325.79 467,325.78 466.5,325.78 466,325.78 465.5,325.78 465,325.78 464.5,325.78 464,325.78 463.5,325.77 463,325.77 462.5,325.77 462,325.77 461.5,325.77 461,325.77 460.5,325.77 460,325.76 459.5,325.76 459,325.76 458.5,325.76 458,325.76 457.5,325.76 457,325.76 456.5,325.75 456,325.75 455.5,325.75 455,325.75 454.5,325.75 454,325.75 453.5,325.75 453,325.74 452.5,325.74 452,325.74 451.5,325.74 451,325.74 450.5,325.74 450,325.73 449.5,325.73 449,325.73 448.5,325.73 448,325.73 447.5,325.73 447,325.73 446.5,325.72 446,325.72 445.5,325.72 445,325.72 444.5,325.72 444,325.72 443.5,325.72 443,325.71 442.5,325.71 442,325.71 441.5,325.71 441,325.71 440.5,325.71 440,325.71 439.5,325.7 439,325.7 438.5,325.7 438,325.7 437.5,325.7 437,325.7 436.5,325.7 436,325.69 435.5,325.69 435,325.69 434.5,325.69 434,325.69 433.5,325.69 433,325.69 432.5,325.68 432,325.68 431.5,325.68 431,325.68 430.5,325.68 430,325.68 429.5,325.68 429,325.67 428.5,325.67 428,325.67 427.5,325.67 427,325.67 426.5,325.67 426,325.67 425.5,325.66 425,325.66 424.5,325.66 424,325.66 423.5,325.66 423,325.66 422.5,325.66 422,325.65 421.5,325.65 421,325.65 420.5,325.65 420,325.65 419.5,325.65 419,325.65 418.5,325.64 418,325.64 417.5,325.64 417,325.64 416.5,325.64 416,325.64 415.5,325.64 415,325.63 414.5,325.63 414,325.63 413.5,325.63 413,325.63 412.5,325.63 412,325.63 411.5,325.62 411,325.62 410.5,325.62 410,325.62 409.5,325.62 409,325.62 408.5,325.62 408,325.61 407.5,325.61 407,325.61 406.5,325.61 406,325.61 405.5,325.61 405,325.61 404.5,325.6 404,325.6 403.5,325.6 403,325.6 402.5,325.6 402,325.6 401.5,325.6 401,325.59 400.5,325.59 400,325.59 399.5,325.59 399,325.59 398.5,325.59 398,325.59 397.5,325.58 397,325.58 396.5,325.58 396,325.58 395.5,325.58 395,325.58 394.5,325.58 394,325.57 393.5,325.57 393,325.57 392.5,325.57 392,325.57 391.5,325.57 391,325.57 390.5,325.56 390,325.56 389.5,325.56 389,325.56 388.5,325.56 388,325.56 387.5,325.56 387,325.55 386.5,325.55 386,325.55 385.5,325.55 385,325.55 384.5,325.55 384,325.54 383.5,325.54 383,325.54 382.5,325.54 382,325.54 381.5,325.54 381,325.54 380.5,325.53 380,325.53 379.5,325.53 379,325.53 378.5,325.53 378,325.53 377.5,325.53 377,325.52 376.5,325.52 376,325.52 375.5,325.52 375,325.52 374.5,325.52 374,325.52 373.5,325.51 373,325.51 372.5,325.51 372,325.51 371.5,325.51 371,325.51 370.5,325.51 370,325.5 369.5,325.5 369,325.5 368.5,325.5 368,325.5 367.5,325.5 367,325.5 366.5,325.49 366,325.49 365.5,325.49 365,325.49 364.5,325.49 364,325.49 363.5,325.49 363,325.48 362.5,325.48 362,325.48 361.5,325.48 361,325.48 360.5,325.48 360,325.48 359.5,325.47 359,325.47 358.5,325.47 358,325.47 357.5,325.47 357,325.47 356.5,325.47 356,325.46 355.5,325.46 355,325.46 354.5,325.46 354,325.46 353.5,325.46 353,325.46 352.5,325.45 352,325.45 351.5,325.45 351,325.45 350.5,325.45 350,325.45 349.5,325.45 349,325.44 348.5,325.44 348,325.44 347.5,325.44 347,325.44 346.5,325.44 346,325.44 345.5,325.43 345,325.43 344.5,325.43 344,325.43 343.5,325.43 343,325.43 342.5,325.43 342,325.42 341.5,325.42 341,325.42 340.5,325.42 340,325.42 339.5,325.42 339,325.42 338.5,325.41 338,325.41 337.5,325.41 337,325.41 336.5,325.41 336,325.41 335.5,325.41 335,325.4 334.5,325.4 334,325.4 333.5,325.4 333,325.4 332.5,325.4 332,325.4 331.5,325.39 331,325.39 330.5,325.39 330,325.39 329.5,325.39 329,325.39 328.5,325.39 328,325.38 327.5,325.38 327,325.38 326.5,325.38 326,325.38 325.5,325.38 325,325.38 324.5,325.37 324,325.37 323.5,325.37 323,325.37 322.5,325.37 322,325.37 321.5,325.37 321,325.36 320.5,325.36 320,325.36 319.5,325.36 319,325.36 318.5,325.36 318,325.35 317.5,325.35 317,325.35 316.5,325.35 316,325.35 315.5,325.35 315,325.35 314.5,325.34 314,325.34 313.5,325.34 313,325.34 312.5,325.34 312,325.34 311.5,325.34 311,325.33 310.5,325.33 310,325.33 309.5,325.33 309,325.33 308.5,325.33 308,325.33 307.5,325.32 307,325.32 306.5,325.32 306,325.32 305.5,325.32 305,325.32 304.5,325.32 304,325.31 303.5,325.31 303,325.31 302.5,325.31 302,325.31 301.5,325.31 301,325.31 300.5,325.3 300,325.3 299.5,325.3 299,325.3 298.5,325.3 298,325.3 297.5,325.3 297,325.29 296.5,325.29 296,325.29 295.5,325.29 295,325.29 294.5,325.29 294,325.29 293.5,325.28 293,325.28 292.5,325.28 292,325.28 291.5,325.28 291,325.28 290.5,325.28 290,325.27 289.5,325.27 289,325.27 288.5,325.27 288,325.27 287.5,325.27 287,325.27 286.5,325.26 286,325.26 285.5,325.26 285,325.26 284.5,325.26 284,325.26 283.5,325.26 283,325.25 282.5,325.25 282,325.25 281.5,325.25 281,325.25 280.5,325.25 280,325.25 279.5,325.24 279,325.24 278.5,325.24 278,325.24 277.5,325.24 277,325.24 276.5,325.24 276,325.23 275.5,325.23 275,325.23 274.5,325.23 274,325.23 273.5,325.23 273,325.23 272.5,325.22 272,325.22 271.5,325.22 271,325.22 270.5,325.22 270,325.22 269.5,325.22 269,325.21 268.5,325.21 268,325.21 267.5,325.21 267,325.21 266.5,325.21 266,325.21 265.5,325.2 265,325.2 264.5,325.2 264,325.2 263.5,325.2 263,325.2 262.5,325.2 262,325.19 261.5,325.19 261,325.19 260.5,325.19 260,325.19 259.5,325.19 259,325.19 258.5,325.18 258,325.18 257.5,325.18 257,325.18 256.5,325.18 256,325.18 255.5,325.18 255,325.17 254.5,325.17 254,325.17 253.5,325.17 253,325.17 252.5,325.17 252,325.16 251.5,325.16 251,325.16 250.5,325.16 250,325.16 249.5,325.16 249,325.16 248.5,325.15 248,325.15 247.5,325.15 247,325.15 246.5,325.15 246,325.15 245.5,325.15 245,325.14 244.5,325.14 244,325.14 243.5,325.14 243,325.14 242.5,325.14 242,325.14 241.5,325.13 241,325.13 240.5,325.13 240,325.13 239.5,325.13 239,325.13 238.5,325.13 238,325.12 237.5,325.12 237,325.12 236.5,325.12 236,325.12 235.5,325.12 235,325.12 234.5,325.11 234,325.11 233.5,325.11 233,325.11 232.5,325.11 232,325.11 231.5,325.11 231,325.1 230.5,325.1 230,325.1 229.5,325.1 229,325.1 228.5,325.1 228,325.1 227.5,325.09 227,325.09 226.5,325.09 226,325.09 225.5,325.09 225,325.09 224.5,325.09 224,325.08 223.5,325.08 223,325.08 222.5,325.08 222,325.08 221.5,325.08 221,325.08 220.5,325.07 220,325.07 219.5,325.07 219,325.07 218.5,325.07 218,325.07 217.5,325.07 217,325.06 216.5,325.06 216,325.06 215.5,325.06 215,325.06 214.5,325.06 214,325.06 213.5,325.05 213,325.05 212.5,325.05 212,325.05 211.5,325.05 211,325.05 210.5,325.05 210,325.04 209.5,325.04 209,325.04 208.5,325.04 208,325.04 207.5,325.04 207,325.04 206.5,325.03 206,325.03 205.5,325.03 205,325.03 204.5,325.03 204,325.03 203.5,325.03 203,325.02 202.5,325.02 202,325.02 201.5,325.02 201,325.02 200.5,325.02 200,325.02 199.5,325.01 199,325.01 198.5,325.01 198,325.01 197.5,325.01 197,325.01 196.5,325.01 196,325 195.5,325 195,325 194.5,325 194,325 193.5,325 193,325 192.5,324.99 192,324.99 191.5,324.99 191,324.99 190.5,324.99 190,324.99 189.5,324.99 189,324.98 188.5,324.98 188,324.98 187.5,324.98 187,324.98 186.5,324.98 186,324.97 185.5,324.97 185,324.97 184.5,324.97 184,324.97 183.5,324.97 183,324.97 182.5,324.96 182,324.96 181.5,324.96 181,324.96 180.5,324.96 180,324.96 179.5,324.96 179,324.95 178.5,324.95 178,324.95 177.5,324.95 177,324.95 176.5,324.95 176,324.95 175.5,324.94 175,324.94 174.5,324.94 174,324.94 173.5,324.94 173,324.94 172.5,324.94 172,324.93 171.5,324.93 171,324.93 170.5,324.93 170,324.93 169.5,324.93 169,324.93 168.5,324.92 168,324.92 167.5,324.92 167,324.92 166.5,324.92 166,324.92 165.5,324.92 165,324.91 164.5,324.91 164,324.91 163.5,324.91 163,324.91 162.5,324.91 162,324.91 161.5,324.9 161,324.9 160.5,324.9 160,324.9 159.5,324.9 159,324.9 158.5,324.9 158,324.89 157.5,324.89 157,324.89 156.5,324.89 156,324.89 155.5,324.89 155,324.89 154.5,324.88 154,324.88 153.5,324.88 153,324.88 152.5,324.88 152,324.88 151.5,324.88 151,324.87 150.5,324.87 150,324.87 149.5,324.87 149,324.87 148.5,324.87 148,324.87 147.5,324.86 147,324.86 146.5,324.86 146,324.86 145.5,324.86 145,324.86 144.5,324.86 144,324.85 143.5,324.85 143,324.85 142.5,324.85 142,324.85 141.5,324.85 141,324.85 140.5,324.84 140,324.84 139.5,324.84 139,324.84 138.5,324.84 138,324.84 137.5,324.84 137,324.83 136.5,324.83 136,324.83 135.5,324.83 135,324.83 134.5,324.83 134,324.83 133.5,324.82 133,324.82 132.5,324.82 132,324.82 131.5,324.82 131,324.82 130.5,324.82 130,324.81 129.5,324.81 129,324.81 128.5,324.81 128,324.81 127.5,324.81 127,324.81 126.5,324.8 126,324.8 125.5,324.8 125,324.8 124.5,324.8 124,324.8 123.5,324.8 123,324.79 122.5,324.79 122,324.79 121.5,324.79 121,324.79 120.5,324.79 120,324.78 119.5,324.78 119,324.78 118.5,324.78 118,324.78 117.5,324.78 117,324.78 116.5,324.77 116,324.77 115.5,324.77 115,324.77 114.5,324.77 114,324.77 113.5,324.77 113,324.76 112.5,324.76 112,324.76 111.5,324.76 111,324.76 110.5,324.76 110,324.76 109.5,324.75 109,324.75 108.5,324.75 108,324.75 107.5,324.75 107,324.75 106.5,324.75 106,324.74 105.5,324.74 105,324.74 104.5,324.74 104,324.74 103.5,324.74 103,324.74 102.5,324.73 102,324.73 101.5,324.73 101,324.73 100.5,324.73 100,324.73 99.5,324.73 99,324.72 98.5,324.72 98,324.72 97.5,324.72 97,324.72 96.5,324.72 96,324.72 95.5,324.71 95,324.71 94.5,324.71 94,324.71 93.5,324.71 93,324.71 92.5,324.71 92,324.7 91.5,324.7 91,324.7 90.5,324.7 90,324.7 89.5,324.7 89,324.7 88.5,324.69 88,324.69 87.5,324.69 87,324.69 86.5,324.69 86,324.69 85.5,324.69 85,324.68 84.5,324.68 84,324.68 83.5,324.68 83,324.68 82.5,324.68 82,324.68 81.5,324.67 81,324.67 80.5,324.67 80,324.67 79.5,324.67 79,324.67 78.5,324.67 78,324.66 77.5,324.66 77,324.66 76.5,324.66 76,324.66 75.5,324.66 75,324.66 74.5,324.65 74,324.65 73.5,324.65 73,324.65 72.5,324.65 72,324.65 71.5,324.65 71,324.64 70.5,324.64 70,324.64 69.5,324.64 69,324.64 68.5,324.64 68,324.64 67.5,324.63 67,324.63 66.5,324.63 66,324.63 65.5,324.63 65,324.63 64.5,324.63 64,324.62 63.5,324.62 63,324.62 62.5,324.62 62,324.62 61.5,324.62 61,324.62 60.5,324.61 60,324.61 59.5,324.61 59,324.61 58.5,324.61 58,324.61 57.5,324.61 57,324.6 56.5,324.6 56,324.6 55.5,324.6 55,324.6 54.5,324.6 54,324.59 53.5,324.59 53,324.59 52.5,324.59 52,324.59 51.5,324.59 51,324.59 50.5,324.58 50,324.58 49.5,324.58 49,324.58 48.5,324.58 48,324.58 47.5,324.58 47,324.57 46.5,324.57 46,324.57 45.5,324.57 45,324.57 44.5,324.57 44,324.57 43.5,324.56 43,324.56 42.5,324.56 42,324.56 41.5,324.56 41,324.56 40.5,324.56 40,324.55 39.5,324.55 39,324.55 38.5,324.55 38,324.55 37.5,324.55 37,324.55 36.5,324.54 36,324.54 35.5,324.54 35,324.54 34.5,324.54 34,324.54 33.5,324.54 33,324.53 32.5,324.53 32,324.53 31.5,324.53 31,324.53 30.5,324.53 30,324.53 29.5,324.52 29,324.52 28.5,324.52 28,324.52 27.5,324.52 27,324.52 26.5,324.52 26,324.51 25.5,324.51 25,324.51 24.5,324.51 24,324.51 23.5,324.51 23,324.51 22.5,324.5 22,324.5 21.5,324.5" fill="#86861c"/>
<polygon points="21.5,333.36 22,334.01 22.5,333.67 23,334.25 23.5,333.77 24,333.83 24.5,334.14 25,334.07 25.5,335.44 26,334.03 26.5,334.84 27,334.64 27.5,334.18 28,334.97 28.5,338.3 29,333.97 29.5,334.78 30,334.64 30.5,334.73 31,333.57 31.5,334.9 32,335.15 32.5,335.08 33,333.46 33.5,333.96 34,334 34.5,334.42 35,333.57 35.5,334.39 36,333.85 36.5,333.22 37,333.17 37.5,334.33 38,336.3 38.5,333.77 39,333.85 39.5,334.41 40,333.52 40.5,334.8 41,333.52 41.5,333.75 42,335.02 42.5,334.13 43,333.46 43.5,337.8 44,334.56 44.5,336.24 45,333.42 45.5,334.48 46,333.25 46.5,334.04 47,333.58 47.5,333.52 48,333.4 48.5,333.03 49,333.23 49.5,333.49 50,334.04 50.5,334.82 51,336.74 51.5,338.4 52,333.68 52.5,334.22 53,335.35 53.5,333.31 54,335.44 54.5,334.82 55,333.64 55.5,334.04 56,334.49 56.5,333.15 57,334.31 57.5,333.7 58,333.53 58.5,333.09 59,334.87 59.5,334.38 60,333.79 60.5,332.97 61,334.9 61.5,334.24 62,336.55 62.5,334.58 63,333.88 63.5,337.56 64,333.37 64.5,334.66 65,336.03 65.5,332.95 66,334.27 66.5,336.27 67,333.2 67.5,335.55 68,334.35 68.5,333.98 69,334.03 69.5,333.11 70,333.97 70.5,333.58 71,333.73 71.5,332.86 72,333.76 72.5,334.5 73,334.42 73.5,334.41 74,334.78 74.5,337.11 75,334.59 75.5,333.65 76,333.04 76.5,333.45 77,334.23 77.5,333.44 78,334.03 78.5,334.97 79,333.81 79.5,335.26 80,333.56 80.5,333.56 81,333.56 81.5,334.6 82,334.12 82.5,333.47 83,334.34 83.5,332.75 84,333.17 84.5,333.24 85,334.32 85.5,334.19 86,333.78 86.5,333.21 87,332.81 87.5,332.95 88,334 88.5,333.99 89,332.88 89.5,334.93 90,333.03 90.5,333.05 91,333.17 91.5,334.14 92,332.72 92.5,335.27 93,332.89 93.5,332.98 94,334.82 94.5,333.47 95,334.53 95.5,333.73 96,332.85 96.5,336.2 97,334.41 97.5,334.03 98,334.3 98.5,333.28 99,333.34 99.5,334.15 100,334.4 100.5,340.03 101,333.44 101.5,335.17 102,334 102.5,332.91 103,333.66 103.5,333.56 104,333.96 104.5,334.19 105,333.49 105.5,341.22 106,332.88 106.5,333.32 107,332.73 107.5,336.65 108,333.46 108.5,334.51 109,333.92 109.5,334.53 110,334.24 110.5,333.9 111,334.02 111.5,333.47 112,336.78 112.5,334.17 113,334.01 113.5,336.68 114,333.18 114.5,333.7 115,333.98 115.5,334.51 116,332.56 116.5,333.23 117,334.26 117.5,333.01 118,333.91 118.5,332.63 119,334.48 119.5,334.42 120,333.52 120.5,334.16 121,332.87 121.5,336.85 122,333.29 122.5,332.73 123,334.24 123.5,335.88 124,335.3 124.5,333.33 125,334.8 125.5,334.39 126,336.88 126.5,332.69 127,333.37 127.5,332.8 128,334.41 128.5,333.68 129,334.41 129.5,333.72 130,335.45 130.5,333.66 131,338.27 131.5,333.22 132,333.48 132.5,334.15 133,333.6 133.5,333.16 134,334.36 134.5,333.9 135,333.63 135.5,336.37 136,334.17 136.5,332.58 137,333.99 137.5,334.01 138,332.59 138.5,333.18 139,334.32 139.5,332.5 140,333.02 140.5,332.59 141,333.37 141.5,333.81 142,334.02 142.5,333.79 143,333.75 143.5,333.75 144,333.43 144.5,333.57 145,334.37 145.5,334.11 146,333.86 146.5,334.26 147,334.31 147.5,334.82 148,333 148.5,333.75 149,334.07 149.5,335.8 150,333.5 150.5,333.07 151,336.76 151.5,332.65 152,333.01 152.5,333.59 153,333.58 153.5,333.29 154,334.15 154.5,334 155,333.41 155.5,336.13 156,333.28 156.5,333.06 157,333.75 157.5,334.13 158,333.34 158.5,332.64 159,333.61 159.5,333.79 160,334.07 160.5,334.5 161,333.07 161.5,333.02 162,332.74 162.5,333.16 163,332.91 163.5,333.04 164,333.35 164.5,333.23 165,332.9 165.5,332.89 166,332.69 166.5,335.18 167,336.84 167.5,333.08 168,332.43 168.5,333.88 169,333.08 169.5,333.96 170,333.84 170.5,332.44 171,333.27 171.5,333.18 172,333.95 172.5,333 173,332.37 173.5,334.59 174,332.46 174.5,333.58 175,333.83 175.5,332.85 176,332.14 176.5,332.96 177,332.49 177.5,334 178,333.58 178.5,332.75 179,338.66 179.5,336.56 180,338.45 180.5,332.27 181,332.54 181.5,333.96 182,333.74 182.5,334 183,332.66 183.5,333.22 184,332.59 184.5,332.46 185,332.51 185.5,334.71 186,333.36 186.5,332.32 187,333.92 187.5,333.13 188,332.92 188.5,333.86 189,332.37 189.5,333.83 190,333.16 190.5,333.64 191,335.53 191.5,333.25 192,333.58 192.5,336.37 193,335.72 193.5,332.24 194,333.23 194.5,333.02 195,332.28 195.5,332.92 196,332.85 196.5,334.07 197,333.86 197.5,332.09 198,332.01 198.5,333.24 199,332.16 199.5,332.92 200,334.43 200.5,336.2 201,333.19 201.5,333.56 202,332.39 202.5,333.25 203,332.02 203.5,332.87 204,332.55 204.5,332.42 205,332.01 205.5,332.59 206,336.9 206.5,332.7 207,333.64 207.5,333.14 208,332.57 208.5,335.07 209,333.35 209.5,333.72 210,333.44 210.5,332.5 211,332.4 211.5,331.97 212,333.52 212.5,332.73 213,333.27 213.5,335.94 214,331.89 214.5,332.64 215,332.59 215.5,334.09 216,331.86 216.5,332.38 217,332.34 217.5,332.35 218,333.07 218.5,334.45 219,332.23 219.5,332.91 220,332.61 220.5,331.93 221,335.73 221.5,332.49 222,332 222.5,333.66 223,335.2 223.5,332.97 224,335.32 224.5,332.31 225,332.13 225.5,331.87 226,333.18 226.5,336.8 227,333.58 227.5,335.8 228,335.53 228.5,332.9 229,332.01 229.5,332.91 230,331.71 230.5,331.76 231,334.52 231.5,332.02 232,333.57 232.5,333.45 233,332.18 233.5,332.33 234,333.26 234.5,332.96 235,335.52 235.5,334.73 236,332.83 236.5,332.71 237,331.85 237.5,332.71 238,333.38 238.5,333.23 239,332.29 239.5,332.22 240,332.05 240.5,332.93 241,332.18 241.5,332.26 242,331.68 242.5,332.2 243,334.6 243.5,332.2 244,333.44 244.5,331.7 245,333.32 245.5,332.12 246,332.62 246.5,331.88 247,332.29 247.5,335.43 248,331.72 248.5,332.53 249,333.38 249.5,331.88 250,332.76 250.5,336.15 251,332 251.5,333.74 252,332.95 252.5,334.8 253,332.84 253.5,333.27 254,331.52 254.5,332.49 255,335.61 255.5,332.92 256,331.99 256.5,333.29 257,332.63 257.5,332.48 258,333.17 258.5,332.49 259,331.88 259.5,339.9 260,333.32 260.5,332.55 261,333.1 261.5,331.83 262,331.6 262.5,332.82 263,332.92 263.5,334.79 264,331.69 264.5,332.51 265,333.38 265.5,332.26 266,336.26 266.5,335.21 267,334.43 267.5,332.2 268,333.18 268.5,331.63 269,333.2 269.5,332.87 270,333.18 270.5,331.59 271,333.07 271.5,334.88 272,333.21 272.5,332.72 273,333.11 273.5,331.49 274,332.54 274.5,331.91 275,334.57 275.5,332.27 276,332.38 276.5,331.97 277,333.33 277.5,335.39 278,333.09 278.5,332.16 279,333.11 279.5,334.46 280,331.58 280.5,332.68 281,332.82 281.5,336.08 282,331.4 282.5,331.59 283,332.79 283.5,334.11 284,333.13 284.5,332.94 285,332.37 285.5,332.72 286,334.81 286.5,335.64 287,332.78 287.5,331.28 288,332.3 288.5,332.29 289,332.08 289.5,331.87 290,334.74 290.5,335.38 291,333.92 291.5,332.56 292,331.5 292.5,334.07 293,331.73 293.5,335.75 294,333.75 294.5,331.37 295,333.08 295.5,332.04 296,333.11 296.5,331.46 297,332.24 297.5,333.67 298,331.54 298.5,334.63 299,332.59 299.5,332.23 300,333.14 300.5,332.79 301,331.56 301.5,331.51 302,333.06 302.5,333.03 303,332.45 303.5,332.36 304,333.08 304.5,332.48 305,332.36 305.5,331.86 306,332.92 306.5,332.25 307,331.8 307.5,333.1 308,332.16 308.5,332.08 309,332.5 309.5,334.66 310,331.22 310.5,332.37 311,332.25 311.5,331.76 312,332.7 312.5,333.55 313,331.98 313.5,334.7 314,333.5 314.5,331.34 315,335.3 315.5,332.83 316,332.34 316.5,331.31 317,332.56 317.5,331.46 318,332.23 318.5,331.67 319,331.31 319.5,332.37 320,332.97 320.5,331.15 321,332.92 321.5,334.06 322,331.54 322.5,332.5 323,331.87 323.5,331.6 324,331.66 324.5,332.51 325,331.86 325.5,332.04 326,332.42 326.5,331.08 327,331.43 327.5,335.04 328,332.65 328.5,335.67 329,332.54 329.5,332 330,332.09 330.5,332.42 331,331.68 331.5,331.48 332,331.25 332.5,335.97 333,332.11 333.5,331.6 334,331.47 334.5,332.42 335,331.88 335.5,332.61 336,331.82 336.5,332.29 337,332.77 337.5,331.64 338,331.24 338.5,332.75 339,331.15 339.5,332.82 340,331.14 340.5,334.31 341,331.01 341.5,332.46 342,332.86 342.5,332.49 343,332.85 343.5,332.3 344,331.65 344.5,332.36 345,332.75 345.5,330.84 346,330.87 346.5,332.18 347,332.35 347.5,331.81 348,332.29 348.5,332.17 349,332.37 349.5,338.57 350,331.95 350.5,332.31 351,332.55 351.5,331.83 352,332.75 352.5,331.14 353,331.91 353.5,331.52 354,332.77 354.5,331.82 355,331.54 355.5,332.43 356,331.45 356.5,332.34 357,332.29 357.5,331.19 358,331.64 358.5,331.11 359,332.22 359.5,337.2 360,331.83 360.5,331.96 361,336.16 361.5,330.99 362,331.73 362.5,331.06 363,331.42 363.5,332.32 364,333.52 364.5,332.46 365,331.87 365.5,331.49 366,332.05 366.5,332.73 367,331.64 367.5,330.91 368,332.03 368.5,331.33 369,331.46 369.5,333.95 370,331.26 370.5,331.69 371,331.18 371.5,332.09 372,332.54 372.5,332.23 373,331.28 373.5,332.27 374,331.64 374.5,330.95 375,332.11 375.5,330.95 376,331.7 376.5,331.33 377,334.11 377.5,330.75 378,332.12 378.5,332.41 379,331.62 379.5,331.15 380,331.29 380.5,330.8 381,331.42 381.5,330.73 382,332.24 382.5,332.46 383,332.02 383.5,332.42 384,330.77 384.5,332.02 385,331.77 385.5,330.6 386,332.15 386.5,330.79 387,331.82 387.5,331.51 388,332.32 388.5,332.29 389,334.08 389.5,332.17 390,331.59 390.5,330.67 391,330.9 391.5,332.32 392,332.1 392.5,333.19 393,330.83 393.5,330.69 394,330.7 394.5,331.74 395,331.43 395.5,331.14 396,331.5 396.5,331.38 397,332.12 397.5,330.62 398,331.47 398.5,332.9 399,334.04 399.5,332.81 400,332.01 400.5,333.49 401,330.49 401.5,334.21 402,331.86 402.5,331.83 403,330.91 403.5,332.22 404,332.36 404.5,331.33 405,334.03 405.5,332.98 406,332 406.5,333.41 407,331.15 407.5,332.32 408,331.91 408.5,335.19 409,331.19 409.5,331.26 410,335.1 410.5,330.39 411,330.94 411.5,331.17 412,331.07 412.5,331.85 413,331.49 413.5,334.14 414,330.53 414.5,331.59 415,332.09 415.5,330.98 416,330.65 416.5,331.26 417,330.98 417.5,330.85 418,333.97 418.5,331.29 419,331.8 419.5,331.37 420,334.41 420.5,330.84 421,330.63 421.5,330.5 422,331.26 422.5,331.53 423,332.05 423.5,331.91 424,330.35 424.5,331.98 425,331.37 425.5,331.64 426,330.99 426.5,330.6 427,330.98 427.5,331.35 428,331.37 428.5,331.52 429,331.29 429.5,331.59 430,332.14 430.5,334.33 431,331.15 431.5,330.72 432,332.01 432.5,331.45 433,331.15 433.5,331.48 434,330.4 434.5,330.74 435,330.24 435.5,331.39 436,330.89 436.5,331.52 437,330.44 437.5,334.13 438,335.02 438.5,330.53 439,331.56 439.5,331.09 440,330.82 440.5,330.63 441,331.62 441.5,330.3 442,331.77 442.5,333.18 443,331.15 443.5,330.41 444,332.09 444.5,331.1 445,333.05 445.5,331.56 446,330.6 446.5,335.67 447,332.08 447.5,330.23 448,330.46 448.5,330.31 449,330.92 449.5,330.98 450,331.38 450.5,331.74 451,331.47 451.5,336.04 452,332.71 452.5,331.08 453,330.75 453.5,331.49 454,331.54 454.5,331.92 455,330.25 455.5,331.59 456,331.23 456.5,331.08 457,331.76 457.5,330.83 458,333.33 458.5,334.75 459,333.92 459.5,331.4 460,331.94 460.5,331.99 461,331.81 461.5,331.42 462,330.02 462.5,331.86 463,331.74 463.5,330.9 464,330.72 464.5,333.52 465,331.49 465.5,330.25 466,330.7 466.5,333.88 467,330.27 467.5,331.36 468,330.14 468.5,331.75 469,331.61 469.5,330.36 470,331.51 470.5,333 471,330.42 471.5,331.09 472,330.53 472.5,332.66 473,331.68 473.5,331.77 474,332.46 474.5,331.69 475,329.94 475.5,333.85 476,330.16 476.5,332.32 477,331.09 477.5,330.58 478,330.45 478.5,331.7 479,331.27 479.5,330.54 480,332.38 480.5,330.48 481,329.97 481.5,331.68 482,330.4 482.5,330.63 483,330.71 483.5,331.59 484,330.97 484.5,331.75 485,330.71 485.5,331.18 486,332.34 486.5,331.57 487,335.66 487.5,331.48 488,331.75 488.5,332.17 489,331.78 489.5,333.36 490,330.44 490.5,330.92 491,331.14 491.5,330.48 492,330.11 492.5,330.6 493,330.57 493.5,330.79 494,329.94 494.5,333.55 495,330.61 495.5,330.28 496,329.81 496.5,333.04 497,331.3 497.5,329.74 498,329.93 498.5,330.72 499,329.84 499.5,330.94 500,330.39 500.5,330.77 501,330.69 501.5,330.32 502,330.81 502.5,330.55 503,333.15 503.5,335.21 504,331.09 504.5,331.1 505,331.21 505.5,331.09 506,335.62 506.5,330.46 507,330.73 507.5,331.53 508,332.08 508.5,333.12 509,330.59 509.5,330.11 510,330.41 510.5,331.55 511,330.62 511.5,331.47 512,331.91 512.5,331.62 513,331 513.5,330.31 514,330.09 514.5,332.88 515,330.06 515.5,330.94 516,332.89 516.5,331.14 517,337.08 517.5,329.79 518,330.26 518.5,330.86 519,331.18 519.5,331.55 520,330.7 520.5,331.2 521,330.35 521.5,331.06 522,330.41 522.5,331.35 523,330.87 523.5,330.71 524,331.35 524.5,332.94 525,329.96 525.5,330.73 526,329.95 526.5,330.43 527,331.46 527.5,331.62 528,329.86 528.5,331.07 529,330.75 529.5,331.33 530,330.16 530.5,330.37 531,331.92 531.5,330.49 532,335.38 532.5,330.17 533,330.03 533.5,330.54 534,332.83 534.5,329.82 535,330.49 535.5,329.91 536,330.08 536.5,329.83 537,331.07 537.5,331.31 538,335.54 538.5,331.02 539,334.48 539.5,329.57 540,329.92 540.5,329.97 541,331.04 541.5,330.83 542,329.8 542.5,330.72 543,332.75 543.5,329.82 544,329.93 544.5,331.34 545,329.97 545.5,330.03 546,330.37 546.5,329.54 547,329.79 547.5,332.35 548,330.84 548.5,333.06 549,333.23 549.5,330.57 550,329.79 550.5,329.82 551,330.2 551.5,329.8 552,336.19 552.5,330.94 553,333.14 553.5,330.18 554,330.38 554.5,330.29 555,331.48 555.5,330.05 556,329.86 556.5,330.33 557,330.82 557.5,333.69 558,329.97 558.5,330.03 559,329.32 559.5,333 560,332.11 560.5,329.62 561,330.49 561.5,331.51 562,330.95 562.5,329.46 563,332.95 563.5,330.87 564,330.89 564.5,329.53 565,330.55 565.5,331.07 566,330.51 566.5,331.77 567,330.95 567.5,332.27 568,330.53 568.5,330.63 569,330.99 569.5,330.64 570,330.09 570.5,329.62 571,331.48 571.5,329.24 572,331.17 572.5,331.01 573,330.21 573.5,329.54 574,330.87 574.5,331.11 575,331.01 575.5,330.94 576,332.08 576.5,329.24 577,329.52 577.5,333.13 578,329.28 578.5,329.8 579,330.41 579.5,333.02 580,329.28 580.5,331.84 581,329.69 581.5,333.23 582,330.39 582.5,329.68 583,330.67 583.5,330.73 584,337.31 584.5,330.3 585,331.71 585.5,330 586,329.47 586.5,330.96 587,330.53 587.5,331.34 588,330.42 588.5,334.3 589,329.49 589.5,330.39 590,330.71 590.5,330.62 591,329.38 591.5,329.64 592,330.84 592.5,330.21 593,330.77 593.5,329.73 594,331.83 594.5,330.08 595,331.02 595.5,330.64 596,330.58 596.5,329.92 597,330.04 597.5,332.91 598,329.91 598.5,329.84 599,330.99 599.5,331.52 600,330.53 600.5,329.21 601,331.96 601.5,330.16 602,329.01 602.5,330.36 603,330.62 603.5,330.11 604,329.45 604.5,329.23 605,330.38 605.5,329.75 606,329.19 606.5,330.22 607,330 607.5,330.9 608,329.47 608.5,330.21 609,330.63 609.5,329.43 610,329.96 610.5,330.85 611,330.58 611.5,331.38 612,329.74 612.5,331.6 613,330.79 613.5,330.58 614,329.97 614.5,330.03 615,329.52 615.5,331.42 616,334.76 616.5,329.95 617,331.74 617.5,329.19 618,330.85 618.5,330.28 619,329.93 619.5,330.17 620,329.5 620.5,328.94 621,329.45 621.5,329.44 622,329.03 622.5,330.21 623,329.87 623.5,330.03 624,330.51 624.5,330.58 625,329.74 625.5,330.66 626,330.65 626.5,329.27 627,329.34 627.5,329.75 628,329.51 628.5,330.01 629,330.61 629.5,329.66 630,329.81 630.5,329.5 631,329.24 631.5,331.27 632,331.49 632.5,329.29 633,329.51 633.5,329.3 634,329.05 634.5,329.51 635,329.03 635.5,329.88 636,330.52 636.5,329.32 637,330.63 637.5,329.09 638,329.29 638.5,329.5 639,330.56 639.5,330.46 640,329.29 640.5,330.21 641,328.82 641.5,329.58 642,330.95 642.5,332.09 643,329.1 643.5,333.11 644,328.83 644.5,331.51 645,329.75 645.5,328.8 646,330.59 646.5,329.05 647,331.63 647.5,329.04 648,333.13 648.5,330.53 649,330.35 649.5,330.46 650,329.29 650.5,329.94 651,329.44 651.5,330.21 652,328.99 652.5,329.42 653,329.44 653.5,329.18 654,328.87 654.5,332.54 655,328.7 655.5,329.03 656,330.37 656.5,329.03 657,333.6 657.5,331.9 658,329.01 658.5,329.58 659,329.05 659.5,329.73 660,330.5 660.5,329.46 661,330.3 661.5,329.17 662,329.14 662.5,333.07 663,332.75 663.5,329.68 664,332.36 664.5,330.63 665,330.2 665.5,328.99 666,328.59 666.5,329.07 667,330.27 667.5,332.71 668,330.09 668.5,328.62 669,330.19 669.5,329.6 670,329.41 670.5,329.24 671,329.53 671.5,328.54 672,329.7 672.5,330.43 673,328.92 673.5,329.51 674,328.46 674.5,330.33 675,329.85 675.5,329.86 676,332.81 676.5,328.96 677,329.73 677.5,329.76 678,329.8 678.5,328.86 679,331.1 679.5,330.73 680,329.46 680,326.8 679.5,326.8 679,326.8 678.5,326.8 678,326.81 677.5,326.81 677,326.81 676.5,326.81 676,326.81 675.5,326.81 675,326.81 674.5,326.81 674,326.81 673.5,326.81 673,326.82 672.5,326.82 672,326.82 671.5,326.82 671,326.82 670.5,326.82 670,326.82 669.5,326.82 669,326.82 668.5,326.82 668,326.83 667.5,326.83 667,326.83 666.5,326.83 666,326.83 665.5,326.83 665,326.83 664.5,326.83 664,326.83 663.5,326.83 663,326.84 662.5,326.84 662,326.84 661.5,326.84 661,326.84 660.5,326.84 660,326.84 659.5,326.84 659,326.84 658.5,326.84 658,326.85 657.5,326.85 657,326.85 656.5,326.85 656,326.85 655.5,326.85 655,326.85 654.5,326.85 654,326.85 653.5,326.85 653,326.86 652.5,326.86 652,326.86 651.5,326.86 651,326.86 650.5,326.86 650,326.86 649.5,326.86 649,326.86 648.5,326.86 648,326.86 647.5,326.87 647,326.87 646.5,326.87 646,326.87 645.5,326.87 645,326.87 644.5,326.87 644,326.87 643.5,326.87 643,326.87 642.5,326.88 642,326.88 641.5,326.88 641,326.88 640.5,326.88 640,326.88 639.5,326.88 639,326.88 638.5,326.88 638,326.88 637.5,326.89 637,326.89 636.5,326.89 636,326.89 635.5,326.89 635,326.89 634.5,326.89 634,326.89 633.5,326.89 633,326.89 632.5,326.9 632,326.9 631.5,326.9 631,326.9 630.5,326.9 630,326.9 629.5,326.9 629,326.9 628.5,326.9 628,326.9 627.5,326.91 627,326.91 626.5,326.91 626,326.91 625.5,326.91 625,326.91 624.5,326.91 624,326.91 623.5,326.91 623,326.91 622.5,326.92 622,326.92 621.5,326.92 621,326.92 620.5,326.92 620,326.92 619.5,326.92 619,326.92 618.5,326.92 618,326.92 617.5,326.93 617,326.93 616.5,326.93 616,326.93 615.5,326.93 615,326.93 614.5,326.93 614,326.93 613.5,326.93 613,326.93 612.5,326.93 612,326.94 611.5,326.94 611,326.94 610.5,326.94 610,326.94 609.5,326.94 609,326.94 608.5,326.94 608,326.94 607.5,326.94 607,326.95 606.5,326.95 606,326.95 605.5,326.95 605,326.95 604.5,326.95 604,326.95 603.5,326.95 603,326.95 602.5,326.95 602,326.96 601.5,326.96 601,326.96 600.5,326.96 600,326.96 599.5,326.96 599,326.96 598.5,326.96 598,326.96 597.5,326.96 597,326.97 596.5,326.97 596,326.97 595.5,326.97 595,326.97 594.5,326.97 594,326.97 593.5,326.97 593,326.97 592.5,326.97 592,326.98 591.5,326.98 591,326.98 590.5,326.98 590,326.98 589.5,326.98 589,326.98 588.5,326.98 588,326.98 587.5,326.98 587,326.99 586.5,326.99 586,326.99 585.5,326.99 585,326.99 584.5,326.99 584,326.99 583.5,326.99 583,326.99 582.5,326.99 582,327 581.5,327 581,327 580.5,327 580,327 579.5,327 579,327 578.5,327 578,327 577.5,327 577,327 576.5,327.01 576,327.01 575.5,327.01 575,327.01 574.5,327.01 574,327.01 573.5,327.01 573,327.01 572.5,327.01 572,327.01 571.5,327.02 571,327.02 570.5,327.02 570,327.02 569.5,327.02 569,327.02 568.5,327.02 568,327.02 567.5,327.02 567,327.02 566.5,327.03 566,327.03 565.5,327.03 565,327.03 564.5,327.03 564,327.03 563.5,327.03 563,327.03 562.5,327.03 562,327.03 561.5,327.04 561,327.04 560.5,327.04 560,327.04 559.5,327.04 559,327.04 558.5,327.04 558,327.04 557.5,327.04 557,327.04 556.5,327.05 556,327.05 555.5,327.05 555,327.05 554.5,327.05 554,327.05 553.5,327.05 553,327.05 552.5,327.05 552,327.05 551.5,327.06 551,327.06 550.5,327.06 550,327.06 549.5,327.06 549,327.06 548.5,327.06 548,327.06 547.5,327.06 547,327.06 546.5,327.06 546,327.07 545.5,327.07 545,327.07 544.5,327.07 544,327.07 543.5,327.07 543,327.07 542.5,327.07 542,327.07 541.5,327.07 541,327.08 540.5,327.08 540,327.08 539.5,327.08 539,327.08 538.5,327.08 538,327.08 537.5,327.08 537,327.08 536.5,327.08 536,327.09 535.5,327.09 535,327.09 534.5,327.09 534,327.09 533.5,327.09 533,327.09 532.5,327.09 532,327.09 531.5,327.09 531,327.1 530.5,327.1 530,327.1 529.5,327.1 529,327.1 528.5,327.1 528,327.1 527.5,327.1 527,327.1 526.5,327.1 526,327.11 525.5,327.11 525,327.11 524.5,327.11 524,327.11 523.5,327.11 523,327.11 522.5,327.11 522,327.11 521.5,327.11 521,327.12 520.5,327.12 520,327.12 519.5,327.12 519,327.12 518.5,327.12 518,327.12 517.5,327.12 517,327.12 516.5,327.12 516,327.12 515.5,327.13 515,327.13 514.5,327.13 514,327.13 513.5,327.13 513,327.13 512.5,327.13 512,327.13 511.5,327.13 511,327.13 510.5,327.14 510,327.14 509.5,327.14 509,327.14 508.5,327.14 508,327.14 507.5,327.14 507,327.14 506.5,327.14 506,327.14 505.5,327.15 505,327.15 504.5,327.15 504,327.15 503.5,327.15 503,327.15 502.5,327.15 502,327.15 501.5,327.15 501,327.15 500.5,327.16 500,327.16 499.5,327.16 499,327.16 498.5,327.16 498,327.16 497.5,327.16 497,327.16 496.5,327.16 496,327.16 495.5,327.17 495,327.17 494.5,327.17 494,327.17 493.5,327.17 493,327.17 492.5,327.17 492,327.17 491.5,327.17 491,327.17 490.5,327.18 490,327.18 489.5,327.18 489,327.18 488.5,327.18 488,327.18 487.5,327.18 487,327.18 486.5,327.18 486,327.18 485.5,327.19 485,327.19 484.5,327.19 484,327.19 483.5,327.19 483,327.19 482.5,327.19 482,327.19 481.5,327.19 481,327.19 480.5,327.19 480,327.2 479.5,327.2 479,327.2 478.5,327.2 478,327.2 477.5,327.2 477,327.2 476.5,327.2 476,327.2 475.5,327.2 475,327.21 474.5,327.21 474,327.21 473.5,327.21 473,327.21 472.5,327.21 472,327.21 471.5,327.21 471,327.21 470.5,327.21 470,327.22 469.5,327.22 469,327.22 468.5,327.22 468,327.22 467.5,327.22 467,327.22 466.5,327.22 466,327.22 465.5,327.22 465,327.23 464.5,327.23 464,327.23 463.5,327.23 463,327.23 462.5,327.23 462,327.23 461.5,327.23 461,327.23 460.5,327.23 460,327.24 459.5,327.24 459,327.24 458.5,327.24 458,327.24 457.5,327.24 457,327.24 456.5,327.24 456,327.24 455.5,327.24 455,327.25 454.5,327.25 454,327.25 453.5,327.25 453,327.25 452.5,327.25 452,327.25 451.5,327.25 451,327.25 450.5,327.25 450,327.25 449.5,327.26 449,327.26 448.5,327.26 448,327.26 447.5,327.26 447,327.26 446.5,327.26 446,327.26 445.5,327.26 445,327.26 444.5,327.27 444,327.27 443.5,327.27 443,327.27 442.5,327.27 442,327.27 441.5,327.27 441,327.27 440.5,327.27 440,327.27 439.5,327.28 439,327.28 438.5,327.28 438,327.28 437.5,327.28 437,327.28 436.5,327.28 436,327.28 435.5,327.28 435,327.28 434.5,327.29 434,327.29 433.5,327.29 433,327.29 432.5,327.29 432,327.29 431.5,327.29 431,327.29 430.5,327.29 430,327.29 429.5,327.3 429,327.3 428.5,327.3 428,327.3 427.5,327.3 427,327.3 426.5,327.3 426,327.3 425.5,327.3 425,327.3 424.5,327.31 424,327.31 423.5,327.31 423,327.31 422.5,327.31 422,327.31 421.5,327.31 421,327.31 420.5,327.31 420,327.31 419.5,327.32 419,327.32 418.5,327.32 418,327.32 417.5,327.32 417,327.32 416.5,327.32 416,327.32 415.5,327.32 415,327.32 414.5,327.32 414,327.33 413.5,327.33 413,327.33 412.5,327.33 412,327.33 411.5,327.33 411,327.33 410.5,327.33 410,327.33 409.5,327.33 409,327.34 408.5,327.34 408,327.34 407.5,327.34 407,327.34 406.5,327.34 406,327.34 405.5,327.34 405,327.34 404.5,327.34 404,327.35 403.5,327.35 403,327.35 402.5,327.35 402,327.35 401.5,327.35 401,327.35 400.5,327.35 400,327.35 399.5,327.35 399,327.36 398.5,327.36 398,327.36 397.5,327.36 397,327.36 396.5,327.36 396,327.36 395.5,327.36 395,327.36 394.5,327.36 394,327.37 393.5,327.37 393,327.37 392.5,327.37 392,327.37 391.5,327.37 391,327.37 390.5,327.37 390,327.37 389.5,327.37 389,327.38 388.5,327.38 388,327.38 387.5,327.38 387,327.38 386.5,327.38 386,327.38 385.5,327.38 385,327.38 384.5,327.38 384,327.38 383.5,327.39 383,327.39 382.5,327.39 382,327.39 381.5,327.39 381,327.39 380.5,327.39 380,327.39 379.5,327.39 379,327.39 378.5,327.4 378,327.4 377.5,327.4 377,327.4 376.5,327.4 376,327.4 375.5,327.4 375,327.4 374.5,327.4 374,327.4 373.5,327.41 373,327.41 372.5,327.41 372,327.41 371.5,327.41 371,327.41 370.5,327.41 370,327.41 369.5,327.41 369,327.41 368.5,327.42 368,327.42 367.5,327.42 367,327.42 366.5,327.42 366,327.42 365.5,327.42 365,327.42 364.5,327.42 364,327.42 363.5,327.43 363,327.43 362.5,327.43 362,327.43 361.5,327.43 361,327.43 360.5,327.43 360,327.43 359.5,327.43 359,327.43 358.5,327.44 358,327.44 357.5,327.44 357,327.44 356.5,327.44 356,327.44 355.5,327.44 355,327.44 354.5,327.44 354,327.44 353.5,327.45 353,327.45 352.5,327.45 352,327.45 351.5,327.45 351,327.45 350.5,327.45 350,327.45 349.5,327.45 349,327.45 348.5,327.45 348,327.46 347.5,327.46 347,327.46 346.5,327.46 346,327.46 345.5,327.46 345,327.46 344.5,327.46 344,327.46 343.5,327.46 343,327.47 342.5,327.47 342,327.47 341.5,327.47 341,327.47 340.5,327.47 340,327.47 339.5,327.47 339,327.47 338.5,327.47 338,327.48 337.5,327.48 337,327.48 336.5,327.48 336,327.48 335.5,327.48 335,327.48 334.5,327.48 334,327.48 333.5,327.48 333,327.49 332.5,327.49 332,327.49 331.5,327.49 331,327.49 330.5,327.49 330,327.49 329.5,327.49 329,327.49 328.5,327.49 328,327.5 327.5,327.5 327,327.5 326.5,327.5 326,327.5 325.5,327.5 325,327.5 324.5,327.5 324,327.5 323.5,327.5 323,327.51 322.5,327.51 322,327.51 321.5,327.51 321,327.51 320.5,327.51 320,327.51 319.5,327.51 319,327.51 318.5,327.51 318,327.51 317.5,327.52 317,327.52 316.5,327.52 316,327.52 315.5,327.52 315,327.52 314.5,327.52 314,327.52 313.5,327.52 313,327.52 312.5,327.53 312,327.53 311.5,327.53 311,327.53 310.5,327.53 310,327.53 309.5,327.53 309,327.53 308.5,327.53 308,327.53 307.5,327.54 307,327.54 306.5,327.54 306,327.54 305.5,327.54 305,327.54 304.5,327.54 304,327.54 303.5,327.54 303,327.54 302.5,327.55 302,327.55 301.5,327.55 301,327.55 300.5,327.55 300,327.55 299.5,327.55 299,327.55 298.5,327.55 298,327.55 297.5,327.56 297,327.56 296.5,327.56 296,327.56 295.5,327.56 295,327.56 294.5,327.56 294,327.56 293.5,327.56 293,327.56 292.5,327.57 292,327.57 291.5,327.57 291,327.57 290.5,327.57 290,327.57 289.5,327.57 289,327.57 288.5,327.57 288,327.57 287.5,327.58 287,327.58 286.5,327.58 286,327.58 285.5,327.58 285,327.58 284.5,327.58 284,327.58 283.5,327.58 283,327.58 282.5,327.58 282,327.59 281.5,327.59 281,327.59 280.5,327.59 280,327.59 279.5,327.59 279,327.59 278.5,327.59 278,327.59 277.5,327.59 277,327.6 276.5,327.6 276,327.6 275.5,327.6 275,327.6 274.5,327.6 274,327.6 273.5,327.6 273,327.6 272.5,327.6 272,327.61 271.5,327.61 271,327.61 270.5,327.61 270,327.61 269.5,327.61 269,327.61 268.5,327.61 268,327.61 267.5,327.61 267,327.62 266.5,327.62 266,327.62 265.5,327.62 265,327.62 264.5,327.62 264,327.62 263.5,327.62 263,327.62 262.5,327.62 262,327.63 261.5,327.63 261,327.63 260.5,327.63 260,327.63 259.5,327.63 259,327.63 258.5,327.63 258,327.63 257.5,327.63 257,327.64 256.5,327.64 256,327.64 255.5,327.64 255,327.64 254.5,327.64 254,327.64 253.5,327.64 253,327.64 252.5,327.64 252,327.64 251.5,327.65 251,327.65 250.5,327.65 250,327.65 249.5,327.65 249,327.65 248.5,327.65 248,327.65 247.5,327.65 247,327.65 246.5,327.66 246,327.66 245.5,327.66 245,327.66 244.5,327.66 244,327.66 243.5,327.66 243,327.66 242.5,327.66 242,327.66 241.5,327.67 241,327.67 240.5,327.67 240,327.67 239.5,327.67 239,327.67 238.5,327.67 238,327.67 237.5,327.67 237,327.67 236.5,327.68 236,327.68 235.5,327.68 235,327.68 234.5,327.68 234,327.68 233.5,327.68 233,327.68 232.5,327.68 232,327.68 231.5,327.69 231,327.69 230.5,327.69 230,327.69 229.5,327.69 229,327.69 228.5,327.69 228,327.69 227.5,327.69 227,327.69 226.5,327.7 226,327.7 225.5,327.7 225,327.7 224.5,327.7 224,327.7 223.5,327.7 223,327.7 222.5,327.7 222,327.7 221.5,327.71 221,327.71 220.5,327.71 220,327.71 219.5,327.71 219,327.71 218.5,327.71 218,327.71 217.5,327.71 217,327.71 216.5,327.71 216,327.72 215.5,327.72 215,327.72 214.5,327.72 214,327.72 213.5,327.72 213,327.72 212.5,327.72 212,327.72 211.5,327.72 211,327.73 210.5,327.73 210,327.73 209.5,327.73 209,327.73 208.5,327.73 208,327.73 207.5,327.73 207,327.73 206.5,327.73 206,327.74 205.5,327.74 205,327.74 204.5,327.74 204,327.74 203.5,327.74 203,327.74 202.5,327.74 202,327.74 201.5,327.74 201,327.75 200.5,327.75 200,327.75 199.5,327.75 199,327.75 198.5,327.75 198,327.75 197.5,327.75 197,327.75 196.5,327.75 196,327.76 195.5,327.76 195,327.76 194.5,327.76 194,327.76 193.5,327.76 193,327.76 192.5,327.76 192,327.76 191.5,327.76 191,327.77 190.5,327.77 190,327.77 189.5,327.77 189,327.77 188.5,327.77 188,327.77 187.5,327.77 187,327.77 186.5,327.77 186,327.77 185.5,327.78 185,327.78 184.5,327.78 184,327.78 183.5,327.78 183,327.78 182.5,327.78 182,327.78 181.5,327.78 181,327.78 180.5,327.79 180,327.79 179.5,327.79 179,327.79 178.5,327.79 178,327.79 177.5,327.79 177,327.79 176.5,327.79 176,327.79 175.5,327.8 175,327.8 174.5,327.8 174,327.8 173.5,327.8 173,327.8 172.5,327.8 172,327.8 171.5,327.8 171,327.8 170.5,327.81 170,327.81 169.5,327.81 169,327.81 168.5,327.81 168,327.81 167.5,327.81 167,327.81 166.5,327.81 166,327.81 165.5,327.82 165,327.82 164.5,327.82 164,327.82 163.5,327.82 163,327.82 162.5,327.82 162,327.82 161.5,327.82 161,327.82 160.5,327.83 160,327.83 159.5,327.83 159,327.83 158.5,327.83 158,327.83 157.5,327.83 157,327.83 156.5,327.83 156,327.83 155.5,327.84 155,327.84 154.5,327.84 154,327.84 153.5,327.84 153,327.84 152.5,327.84 152,327.84 151.5,327.84 151,327.84 150.5,327.84 150,327.85 149.5,327.85 149,327.85 148.5,327.85 148,327.85 147.5,327.85 147,327.85 146.5,327.85 146,327.85 145.5,327.85 145,327.86 144.5,327.86 144,327.86 143.5,327.86 143,327.86 142.5,327.86 142,327.86 141.5,327.86 141,327.86 140.5,327.86 140,327.87 139.5,327.87 139,327.87 138.5,327.87 138,327.87 137.5,327.87 137,327.87 136.5,327.87 136,327.87 135.5,327.87 135,327.88 134.5,327.88 134,327.88 133.5,327.88 133,327.88 132.5,327.88 132,327.88 131.5,327.88 131,327.88 130.5,327.88 130,327.89 129.5,327.89 129,327.89 128.5,327.89 128,327.89 127.5,327.89 127,327.89 126.5,327.89 126,327.89 125.5,327.89 125,327.9 124.5,327.9 124,327.9 123.5,327.9 123,327.9 122.5,327.9 122,327.9 121.5,327.9 121,327.9 120.5,327.9 120,327.9 119.5,327.91 119,327.91 118.5,327.91 118,327.91 117.5,327.91 117,327.91 116.5,327.91 116,327.91 115.5,327.91 115,327.91 114.5,327.92 114,327.92 113.5,327.92 113,327.92 112.5,327.92 112,327.92 111.5,327.92 111,327.92 110.5,327.92 110,327.92 109.5,327.93 109,327.93 108.5,327.93 108,327.93 107.5,327.93 107,327.93 106.5,327.93 106,327.93 105.5,327.93 105,327.93 104.5,327.94 104,327.94 103.5,327.94 103,327.94 102.5,327.94 102,327.94 101.5,327.94 101,327.94 100.5,327.94 100,327.94 99.5,327.95 99,327.95 98.5,327.95 98,327.95 97.5,327.95 97,327.95 96.5,327.95 96,327.95 95.5,327.95 95,327.95 94.5,327.96 94,327.96 93.5,327.96 93,327.96 92.5,327.96 92,327.96 91.5,327.96 91,327.96 90.5,327.96 90,327.96 89.5,327.97 89,327.97 88.5,327.97 88,327.97 87.5,327.97 87,327.97 86.5,327.97 86,327.97 85.5,327.97 85,327.97 84.5,327.97 84,327.98 83.5,327.98 83,327.98 82.5,327.98 82,327.98 81.5,327.98 81,327.98 80.5,327.98 80,327.98 79.5,327.98 79,327.99 78.5,327.99 78,327.99 77.5,327.99 77,327.99 76.5,327.99 76,327.99 75.5,327.99 75,327.99 74.5,327.99 74,328 73.5,328 73,328 72.5,328 72,328 71.5,328 71,328 70.5,328 70,328 69.5,328 69,328.01 68.5,328.01 68,328.01 67.5,328.01 67,328.01 66.5,328.01 66,328.01 65.5,328.01 65,328.01 64.5,328.01 64,328.02 63.5,328.02 63,328.02 62.5,328.02 62,328.02 61.5,328.02 61,328.02 60.5,328.02 60,328.02 59.5,328.02 59,328.03 58.5,328.03 58,328.03 57.5,328.03 57,328.03 56.5,328.03 56,328.03 55.5,328.03 55,328.03 54.5,328.03 54,328.03 53.5,328.04 53,328.04 52.5,328.04 52,328.04 51.5,328.04 51,328.04 50.5,328.04 50,328.04 49.5,328.04 49,328.04 48.5,328.05 48,328.05 47.5,328.05 47,328.05 46.5,328.05 46,328.05 45.5,328.05 45,328.05 44.5,328.05 44,328.05 43.5,328.06 43,328.06 42.5,328.06 42,328.06 41.5,328.06 41,328.06 40.5,328.06 40,328.06 39.5,328.06 39,328.06 38.5,328.07 38,328.07 37.5,328.07 37,328.07 36.5,328.07 36,328.07 35.5,328.07 35,328.07 34.5,328.07 34,328.07 33.5,328.08 33,328.08 32.5,328.08 32,328.08 31.5,328.08 31,328.08 30.5,328.08 30,328.08 29.5,328.08 29,328.08 28.5,328.09 28,328.09 27.5,328.09 27,328.09 26.5,328.09 26,328.09 25.5,328.09 25,328.09 24.5,328.09 24,328.09 23.5,328.1 23,328.1 22.5,328.1 22,328.1 21.5,328.1" fill="#1f84ee"/>
<path d="M68.5 325.9V313M72.5 325.9V312.3M87.5 325.9V310.5M92.5 325.9V314M133.5 325.9V307.9M154.5 325.9V313M157.5 325.9V315M160.5 325.9V311M161.5 325.9V241.7M162.5 325.9V305M189.5 325.9V314.9M220.5 325.9V312.3M228.5 325.9V308.8M230.5 325.9V308.8M248.5 325.9V312.6M272.5 325.9V315.8M289.5 325.9V317M333.5 325.9V310M360.5 325.9V318M382.5 325.9V320M424.5 325.9V319M440.5 325.9V319.5M465.5 325.9V320M525.5 325.9V319.4M560.5 325.9V320M563.5 325.9V319M600.5 325.9V321M640.5 325.9V321" stroke="#a9a956" stroke-width="0.85" fill="none"/>
<path d="M66.5 326.9V338M68.5 326.9V339M88.5 326.9V337M120.5 326.9V338M150.5 326.9V338M160.5 326.9V340M162.5 326.9V373.8M163.5 326.9V350M165.5 326.9V342M186.5 326.9V337.7M200.5 326.9V338M229.5 326.9V340M248.5 326.9V360.9M290.5 326.9V338M294.5 326.9V341.4M307.5 326.9V342M334.5 326.9V432.9M376.5 326.9V338.4M382.5 326.9V339M474.5 326.9V338.5M503.5 326.9V341.8M524.5 326.9V337M560.5 326.9V336M566.5 326.9V335M636.5 326.9V335.3" stroke="#1f84ee" stroke-width="0.85" fill="none"/>
<path d="M336.5 326.9V342" stroke="#4f9be8" stroke-width="0.85" fill="none"/>
<path d="M334.5 325.1V220" stroke="#86861c" stroke-width="0.75" fill="none"/>
<path d="M335.5 325.1V300" stroke="#b2b266" stroke-width="0.6" fill="none"/>
<line x1="21.5" y1="326.4" x2="680" y2="326.4" stroke="#aab8c8" stroke-width="0.8" stroke-dasharray="1 1"/>
<rect x="24.3" y="215.8" width="21.5" height="25.1" fill="#fff" stroke="#333" stroke-width="0.9"/>
<text x="36.1" y="234.5" font-size="15.4" font-weight="bold" text-anchor="middle" fill="#000">B</text>
<text x="49.3" y="227.2" font-size="10.5" font-weight="bold" fill="#548235" stroke="#548235" stroke-width="0.25">MUSE21164</text>
<text x="679" y="435.3" font-size="10.5" font-weight="bold" fill="#2e75b6" stroke="#2e75b6" stroke-width="0.25" text-anchor="end">MUSE21169</text>
<text transform="translate(69.91,315.5) rotate(-90)" fill="#111" font-size="9.2">1079</text>
<text transform="translate(77.41,313) rotate(-90)" fill="#e4202a" font-size="9.2">1105*</text>
<text transform="translate(157.91,309) rotate(-90)" fill="#e4202a" font-size="9.2">1427*</text>
<text transform="translate(165.01,241.1) rotate(-90)" fill="#111" font-size="9.2">1453</text>
<text transform="translate(332.11,239) rotate(-90)" fill="#111" font-size="9.2">2133</text>
<text transform="translate(528.41,316.7) rotate(-90)" fill="#111" font-size="9.2">2883</text>
<text transform="translate(562.51,322.9) rotate(-90)" fill="#e4202a" font-size="9.2">3033*</text>
<text transform="translate(570.41,322.2) rotate(-90)" fill="#111" font-size="9.2">3039</text>
<text transform="translate(62.89,343) rotate(90)" fill="#111" font-size="9.2">1079</text>
<text transform="translate(158.19,375.4) rotate(90)" fill="#111" font-size="9.2">1453</text>
<text transform="translate(335.29,418) rotate(90)" fill="#111" font-size="9.2">2133</text>
<text transform="translate(522.09,343.1) rotate(90)" fill="#111" font-size="9.2">2883</text>
<text transform="translate(561.69,335.3) rotate(90)" fill="#111" font-size="9.2">3039</text>
<rect x="58.5" y="309.2" width="17" height="31.6" fill="none" stroke="#7a7a7a" stroke-width="0.9"/>
<rect x="150.2" y="309" width="20.6" height="33.5" fill="none" stroke="#7a7a7a" stroke-width="0.9"/>
<rect x="330.6" y="311.2" width="7.2" height="28.8" fill="none" stroke="#7a7a7a" stroke-width="0.9"/>
<rect x="555.4" y="317.3" width="16.5" height="17.4" fill="none" stroke="#7a7a7a" stroke-width="0.9"/>
<line x1="76.2" y1="325.8" x2="99.2" y2="354.6" stroke="#4a4a4a" stroke-width="0.7"/>
<line x1="171.3" y1="323.5" x2="199.4" y2="282.8" stroke="#4a4a4a" stroke-width="0.7"/>
<line x1="338.2" y1="323.5" x2="366.2" y2="281.2" stroke="#4a4a4a" stroke-width="0.7"/>
<line x1="571.9" y1="325.5" x2="622.8" y2="308.2" stroke="#4a4a4a" stroke-width="0.7"/>
<rect x="72.2" y="356.2" width="85.7" height="81.7" fill="#000" opacity="0.32" filter="url(#sh)"/>
<rect x="71" y="355" width="84.9" height="80.9" fill="#fff" stroke="#dadada" stroke-width="0.7"/>
<line x1="100" y1="357" x2="100" y2="428" stroke="#f4f4f4" stroke-width="0.6"/>
<line x1="125" y1="357" x2="125" y2="428" stroke="#f4f4f4" stroke-width="0.6"/>
<line x1="77" y1="368" x2="151" y2="368" stroke="#f0f0f0" stroke-width="0.6"/>
<line x1="77" y1="415" x2="151" y2="415" stroke="#f0f0f0" stroke-width="0.6"/>
<path d="M77.3 388V374.07M79.28 388V373.41M81.26 388V375.94M83.24 388V376.97M85.22 388V372M87.2 388V374.69M89.18 388V370M91.16 388V366.4M93.14 388V373.53M95.12 388V371M97.1 388V374.86M99.08 388V379.63M101.06 388V372M103.04 388V376.52M105.02 388V374.09M107 388V380.04M108.98 388V376.15M110.96 388V372.97M112.94 388V375.83M114.92 388V376.79M116.9 388V374.82M118.88 388V371M120.86 388V361.2M122.84 388V375.63M124.82 388V367M126.8 388V380.86M128.78 388V370M130.76 388V374.22M132.74 388V376.53M134.72 388V373.06M136.7 388V374.23M138.68 388V366M140.66 388V376.59M142.64 388V362M144.62 388V367M146.6 388V369M148.58 388V375.39M150.56 388V376.03" stroke="#c3c38c" stroke-width="0.6" fill="none"/>
<polyline points="77,387.56 77.7,386.84 78.4,386.92 79.1,388.04 79.8,388.19 80.5,388.66 81.2,387.87 81.9,387.14 82.6,387.43 83.3,387.71 84,387.72 84.7,388.5 85.4,387.66 86.1,388.61 86.8,387.45 87.5,387.37 88.2,386.37 88.9,387.08 89.6,387.46 90.3,386.33 91,387.35 91.7,386.58 92.4,386.94 93.1,388.42 93.8,388.5 94.5,386.57 95.2,387.71 95.9,387.47 96.6,386.43 97.3,387.01 98,387.58 98.7,387.32 99.4,387.67 100.1,386.46 100.8,387.77 101.5,387.77 102.2,386.76 102.9,387.66 103.6,388.54 104.3,388.44 105,387.78 105.7,387.55 106.4,388.1 107.1,387.39 107.8,388 108.5,387.19 109.2,387.63 109.9,388.06 110.6,387.7 111.3,387.75 112,387.22 112.7,387.14 113.4,387.87 114.1,387.37 114.8,387.36 115.5,387.21 116.2,387 116.9,387.8 117.6,388.41 118.3,386.77 119,387.86 119.7,387.58 120.4,387.83 121.1,387.89 121.8,387.26 122.5,386.33 123.2,387.17 123.9,387.55 124.6,387.81 125.3,388.52 126,387.88 126.7,387.87 127.4,387.14 128.1,388.21 128.8,386.61 129.5,388.42 130.2,387.48 130.9,387.39 131.6,387.96 132.3,387.6 133,388.69 133.7,386.59 134.4,386.45 135.1,387.73 135.8,386.84 136.5,386.85 137.2,388.7 137.9,387.57 138.6,387 139.3,387.18 140,386.84 140.7,386.91 141.4,386.62 142.1,388.64 142.8,388.06 143.5,387.16 144.2,386.56 144.9,388.64 145.6,388.44 146.3,386.53 147,388.39 147.7,387.62 148.4,388.66 149.1,387.36 149.8,387.35 150.5,386.32" stroke="#a4a45a" stroke-width="0.6" fill="none"/>
<line x1="77" y1="392.4" x2="151" y2="392.4" stroke="#e2e2e2" stroke-width="0.6"/>
<polyline points="77,398.04 77.55,402.22 78.1,397.16 78.65,404.15 79.2,398.62 79.75,403.64 80.3,398.04 80.85,404.46 81.4,396.86 81.95,402.4 82.5,398.66 83.05,401.52 83.6,397.87 84.15,401.97 84.7,397.12 85.25,410.76 85.8,397.38 86.35,403.42 86.9,396.93 87.45,402.44 88,397.54 88.55,402.68 89.1,396.78 89.65,401.76 90.2,397.42 90.75,407.97 91.3,399.04 91.85,402.7 92.4,397.75 92.95,402.11 93.5,397.45 94.05,402.25 94.6,396.83 95.15,402.66 95.7,396.68 96.25,404.39 96.8,398.23 97.35,408.82 97.9,399.04 98.45,401.54 99,397.1 99.55,401.73 100.1,396.84 100.65,404.02 101.2,397.32 101.75,401.93 102.3,398.47 102.85,401.61 103.4,396.91 103.95,403.28 104.5,397.94 105.05,402.4 105.6,398.86 106.15,403.68 106.7,398.22 107.25,402.5 107.8,397.97 108.35,402.76 108.9,398.73 109.45,404.47 110,398.75 110.55,404.2 111.1,397.85 111.65,403.79 112.2,398.89 112.75,404.28 113.3,397.81 113.85,402.49 114.4,398.86 114.95,403.11 115.5,398.42 116.05,403.06 116.6,398.98 117.15,403.89 117.7,399.07 118.25,401.95 118.8,397.98 119.35,407.11 119.9,398.77 120.45,402.03 121,399.07 121.55,402.08 122.1,397.81 122.65,404.65 123.2,398.95 123.75,404.02 124.3,397.85 124.85,406.41 125.4,398.05 125.95,409.73 126.5,396.72 127.05,409.97 127.6,398.19 128.15,402.12 128.7,397.66 129.25,402.04 129.8,396.76 130.35,403.62 130.9,397.95 131.45,402.7 132,396.96 132.55,403.72 133.1,396.86 133.65,408.24 134.2,396.64 134.75,410.79 135.3,397.08 135.85,403.09 136.4,398.95 136.95,409.85 137.5,397.68 138.05,402 138.6,398.94 139.15,401.56 139.7,397.96 140.25,404.15 140.8,397.22 141.35,409.56 141.9,397.33 142.45,408.46 143,396.99 143.55,411.68 144.1,396.73 144.65,403.48 145.2,398.09 145.75,412.22 146.3,398.02 146.85,411.9 147.4,398.4 147.95,409.94 148.5,398 149.05,404.47 149.6,398.47 150.15,410.31 150.7,398.39" stroke="#4d9ae8" stroke-width="0.45" fill="none"/>
<path d="M77 400H151" stroke="#2f86e4" stroke-width="3" opacity="0.35"/>
<path d="M89.5 400.8V428.8M88.5 400.8V418M120.6 400.8V416.7M110 400.8V412M130 400.8V411" stroke="#8ebcef" stroke-width="0.6" fill="none"/>
<line x1="77" y1="428.2" x2="151" y2="428.2" stroke="#c8c8c8" stroke-width="0.7"/>
<text transform="translate(86.51,374.7) rotate(-90)" fill="#111" font-size="9.2">1079</text>
<text transform="translate(138.61,377.8) rotate(-90)" fill="#e4202a" font-size="9.2">1105*</text>
<text transform="translate(80.89,416.7) rotate(90)" fill="#111" font-size="9.2">1079</text>
<rect x="200.6" y="217.6" width="79.8" height="91.2" fill="#000" opacity="0.32" filter="url(#sh)"/>
<rect x="199.4" y="216.4" width="79" height="90.4" fill="#fff" stroke="#dadada" stroke-width="0.7"/>
<line x1="230" y1="218" x2="230" y2="300" stroke="#f4f4f4" stroke-width="0.6"/>
<line x1="252" y1="218" x2="252" y2="300" stroke="#f4f4f4" stroke-width="0.6"/>
<line x1="204.9" y1="240" x2="272.9" y2="240" stroke="#f0f0f0" stroke-width="0.6"/>
<line x1="204.9" y1="285" x2="272.9" y2="285" stroke="#f0f0f0" stroke-width="0.6"/>
<polyline points="204.9,258.5 205.9,256.84 206.9,258.5 206.9,258.5 207.9,256.87 208.9,258.5 208.9,258.5 209.9,256.83 210.9,258.5 210.9,258.5 211.9,256.68 212.9,258.5 212.9,258.5 213.9,256 214.9,258.5 214.9,258.5 215.9,255.99 216.9,258.5 216.9,258.5 217.9,256.08 218.9,258.5 218.9,258.5 219.9,256.5 220.9,258.5 220.98,258.5 221.9,255.78 222.82,258.5 222.9,258.5 223.9,256.77 224.9,258.5 224.9,258.5 225.9,256.67 226.9,258.5 226.9,258.5 227.9,256.4 228.9,258.5 228.9,258.5 229.9,256.63 230.9,258.5 230.9,258.5 231.9,256.03 232.9,258.5 232.94,258.5 233.9,255.91 234.86,258.5 234.9,258.5 235.9,256.02 236.9,258.5 236.9,258.5 237.9,256.55 238.9,258.5 238.9,258.5 239.9,256.23 240.9,258.5 240.9,258.5 241.9,256.56 242.9,258.5 242.9,258.5 243.9,256.27 244.9,258.5 244.9,258.5 245.9,256.29 246.9,258.5 246.9,258.5 247.9,256.77 248.9,258.5 248.94,258.5 249.9,255.9 250.86,258.5 250.92,258.5 251.9,255.94 252.88,258.5 252.91,258.5 253.9,255.98 254.89,258.5 254.9,258.5 255.9,256.84 256.9,258.5 256.9,258.5 257.9,256.67 258.9,258.5 258.9,258.5 259.9,256.02 260.9,258.5 260.92,258.5 261.9,255.94 262.88,258.5 262.9,258.5 263.9,256.18 264.9,258.5 264.98,258.5 265.9,255.78 266.82,258.5 266.9,258.5 267.9,256.42 268.9,258.5 268.9,258.5 269.9,256.67 270.9,258.5 270.9,258.5 271.9,256.36 272.9,258.5 272.9,258.5 273.9,256.58 274.9,258.5" stroke="#b0b06c" stroke-width="0.55" fill="none" stroke-linejoin="round"/>
<polyline points="204.9,260.8 205.9,262.03 206.9,260.8 206.9,260.8 207.9,262.33 208.9,260.8 208.9,260.8 209.9,261.98 210.9,260.8 210.9,260.8 211.9,262.28 212.9,260.8 212.9,260.8 213.9,262.19 214.9,260.8 214.9,260.8 215.9,261.75 216.9,260.8 216.9,260.8 217.9,262.13 218.9,260.8 218.9,260.8 219.9,262.4 220.9,260.8 220.9,260.8 221.9,262.23 222.9,260.8 222.9,260.8 223.9,262.39 224.9,260.8 224.9,260.8 225.9,262.22 226.9,260.8 226.9,260.8 227.9,262.5 228.9,260.8 228.9,260.8 229.9,261.76 230.9,260.8 230.9,260.8 231.9,262.06 232.9,260.8 232.9,260.8 233.9,261.89 234.9,260.8 234.9,260.8 235.9,262.31 236.9,260.8 236.9,260.8 237.9,261.96 238.9,260.8 238.9,260.8 239.9,262.24 240.9,260.8 240.9,260.8 241.9,262.24 242.9,260.8 242.9,260.8 243.9,261.75 244.9,260.8 244.9,260.8 245.9,262.2 246.9,260.8 246.9,260.8 247.9,261.99 248.9,260.8 248.9,260.8 249.9,261.93 250.9,260.8 250.9,260.8 251.9,262.23 252.9,260.8 252.9,260.8 253.9,262.22 254.9,260.8 254.9,260.8 255.9,261.9 256.9,260.8 256.9,260.8 257.9,262.28 258.9,260.8 258.9,260.8 259.9,261.79 260.9,260.8 260.9,260.8 261.9,261.78 262.9,260.8 262.9,260.8 263.9,262.41 264.9,260.8 264.9,260.8 265.9,262.45 266.9,260.8 266.9,260.8 267.9,262.46 268.9,260.8 268.9,260.8 269.9,262.5 270.9,260.8 270.9,260.8 271.9,262.3 272.9,260.8 272.9,260.8 273.9,262.17 274.9,260.8" stroke="#6eaaea" stroke-width="0.55" fill="none" stroke-linejoin="round"/>
<path d="M256.4 258.5V229.6M257.4 258.5V229.6M258.5 258.5V238M259.5 258.5V246M260.6 258.5V252.6M207.1 258.5V252.6M222.4 258.5V253.5M245 258.5V253M268.5 258.5V253M270.7 258.5V254" stroke="#c4c48a" stroke-width="0.6" fill="none"/>
<path d="M256 260.8V277.8M258.2 260.8V272.4M260.4 260.8V266M221.3 260.8V265.8M242.2 260.8V265M266.3 260.8V265M210.4 260.8V263" stroke="#8ebcef" stroke-width="0.6" fill="none"/>
<line x1="204.9" y1="300.2" x2="272.9" y2="300.2" stroke="#c8c8c8" stroke-width="0.7"/>
<line x1="230.1" y1="300.2" x2="230.1" y2="301.2" stroke="#bbb" stroke-width="0.5"/>
<line x1="228.6" y1="302.2" x2="231.6" y2="302.2" stroke="#ccc" stroke-width="0.5"/>
<text transform="translate(208.51,251.5) rotate(-90)" fill="#e4202a" font-size="9.2">1427*</text>
<text transform="translate(255.91,237.4) rotate(-90)" fill="#111" font-size="9.2">1453</text>
<text transform="translate(252.79,282.2) rotate(90)" fill="#111" font-size="9.2">1453</text>
<rect x="367.9" y="223.2" width="32.5" height="94.3" fill="#000" opacity="0.32" filter="url(#sh)"/>
<rect x="366.7" y="222" width="31.7" height="93.5" fill="#fff" stroke="#dadada" stroke-width="0.7"/>
<line x1="381" y1="224" x2="381" y2="310" stroke="#f4f4f4" stroke-width="0.6"/>
<line x1="368" y1="240" x2="393" y2="240" stroke="#f0f0f0" stroke-width="0.6"/>
<line x1="368" y1="290" x2="393" y2="290" stroke="#f0f0f0" stroke-width="0.6"/>
<polyline points="370,265.6 371.05,264.26 372.1,265.6 372.1,265.6 373.15,264.26 374.2,265.6 374.2,265.6 375.25,263.94 376.3,265.6 376.3,265.6 377.35,263.93 378.4,265.6 378.4,265.6 379.45,264.33 380.5,265.6 380.5,265.6 381.55,264.51 382.6,265.6 382.6,265.6 383.65,264.25 384.7,265.6 384.7,265.6 385.75,264.34 386.8,265.6 386.8,265.6 387.85,264.05 388.9,265.6 388.9,265.6 389.95,263.96 391,265.6 391,265.6 392.05,264.19 393.1,265.6" stroke="#b0b06c" stroke-width="0.55" fill="none" stroke-linejoin="round"/>
<polyline points="370,267.6 371.05,268.42 372.1,267.6 372.1,267.6 373.15,268.71 374.2,267.6 374.2,267.6 375.25,268.45 376.3,267.6 376.3,267.6 377.35,268.71 378.4,267.6 378.4,267.6 379.45,268.89 380.5,267.6 380.5,267.6 381.55,268.79 382.6,267.6 382.6,267.6 383.65,268.66 384.7,267.6 384.7,267.6 385.75,268.47 386.8,267.6 386.8,267.6 387.85,268.96 388.9,267.6 388.9,267.6 389.95,268.92 391,267.6 391,267.6 392.05,268.68 393.1,267.6" stroke="#6eaaea" stroke-width="0.55" fill="none" stroke-linejoin="round"/>
<path d="M383.2 265.6V225.6M385 265.6V238.5M387.2 265.6V250.2M381.3 265.6V256M389 265.6V260.8M379 265.6V262" stroke="#c4c48a" stroke-width="0.6" fill="none"/>
<path d="M381.3 267.6V305.4M383.6 267.6V290.1M385.5 267.6V281.9M387.4 267.6V274.9M378.5 267.6V270M389.5 267.6V270" stroke="#8ebcef" stroke-width="0.6" fill="none"/>
<line x1="370" y1="308.4" x2="393" y2="308.4" stroke="#c8c8c8" stroke-width="0.7"/>
<text transform="translate(380.81,245.5) rotate(-90)" fill="#111" font-size="9.2">2133</text>
<text transform="translate(374.61,262.8) rotate(-90)" fill="#e4202a" font-size="9.2">2131*</text>
<text transform="translate(373.99,296.2) rotate(90)" fill="#111" font-size="9.2">2133</text>
<rect x="585.2" y="217.5" width="95.5" height="91.4" fill="#000" opacity="0.32" filter="url(#sh)"/>
<rect x="584" y="216.3" width="94.7" height="90.6" fill="#fff" stroke="#dadada" stroke-width="0.7"/>
<line x1="626" y1="218" x2="626" y2="300" stroke="#f4f4f4" stroke-width="0.6"/>
<line x1="589" y1="235" x2="673" y2="235" stroke="#f0f0f0" stroke-width="0.6"/>
<line x1="589" y1="290" x2="673" y2="290" stroke="#f0f0f0" stroke-width="0.6"/>
<polyline points="589,247.26 589.7,253.3 590.4,248.99 591.1,253.05 591.8,247.7 592.5,253.54 593.2,249.15 593.9,253.51 594.6,247.81 595.3,253.62 596,250.33 596.7,253.99 597.4,248.79 598.1,253.67 598.8,246.39 599.5,254.19 600.2,251.75 600.9,254.15 601.6,245 602.3,253.09 603,251.31 603.7,253.47 604.4,249.41 605.1,252.9 605.8,250.98 606.5,252.67 607.2,247.81 607.9,252.83 608.6,251 609.3,254.24 610,248.38 610.7,253.93 611.4,247.21 612.1,253.08 612.8,249.32 613.5,253.61 614.2,247.29 614.9,253.55 615.6,247.49 616.3,252.88 617,249.16 617.7,254.01 618.4,247.81 619.1,254.44 619.8,246 620.5,253.72 621.2,246.27 621.9,252.72 622.6,247.7 623.3,254.43 624,247.34 624.7,252.79 625.4,247.23 626.1,253.96 626.8,251.09 627.5,252.59 628.2,249.04 628.9,252.88 629.6,245 630.3,252.79 631,249.68 631.7,254.48 632.4,248.33 633.1,253.82 633.8,251.99 634.5,252.73 635.2,250.34 635.9,253.67 636.6,248.92 637.3,252.63 638,249.73 638.7,254.34 639.4,239.2 640.1,253.27 640.8,249.98 641.5,252.63 642.2,251.96 642.9,252.78 643.6,240 644.3,252.78 645,249.82 645.7,254.04 646.4,249.96 647.1,253.85 647.8,251.03 648.5,252.96 649.2,249.06 649.9,254.28 650.6,249.96 651.3,253.95 652,232.4 652.7,253.65 653.4,249.89 654.1,253.61 654.8,247.94 655.5,253.67 656.2,240 656.9,254.33 657.6,249.34 658.3,252.62 659,248.86 659.7,252.88 660.4,244 661.1,254.37 661.8,248.5 662.5,252.64 663.2,248.85 663.9,253.59 664.6,251.47 665.3,253.79 666,249.14 666.7,253.4 667.4,247.7 668.1,254.09 668.8,247.29 669.5,253.75 670.2,250.41 670.9,253.8 671.6,249.1 672.3,252.58" stroke="#a5a55a" stroke-width="0.5" fill="none"/>
<path d="M647.3 252.2V233.6M651.8 252.2V232.4M639.5 252.2V239.2M656.3 252.2V240M613.7 252.2V243.7M601.3 252.2V245M644 252.2V240M636 252.2V243M642 252.2V237M649.5 252.2V236M654 252.2V238" stroke="#b5b578" stroke-width="0.5" fill="none"/>
<line x1="589" y1="258.2" x2="673" y2="258.2" stroke="#e2e2e2" stroke-width="0.6"/>
<polyline points="589,264.97 589.8,276.82 590.6,264.54 591.4,274.36 592.2,265.29 593,272.91 593.8,267.6 594.6,271.58 595.4,264.29 596.2,272.47 597,264.68 597.8,276.4 598.6,267.7 599.4,270.9 600.2,262.7 601,276.01 601.8,265.42 602.6,273.25 603.4,264.82 604.2,280.41 605,267.31 605.8,273.69 606.6,267.52 607.4,280.52 608.2,267.73 609,273.33 609.8,266.37 610.6,277.46 611.4,268.46 612.2,270.8 613,265.52 613.8,273.01 614.6,266.65 615.4,270.93 616.2,266.22 617,275.28 617.8,267.53 618.6,271.34 619.4,266.14 620.2,273.87 621,264.8 621.8,271.67 622.6,267.74 623.4,274.78 624.2,268.25 625,271.78 625.8,267.46 626.6,279.17 627.4,267.4 628.2,271.42 629,268.39 629.8,273.18 630.6,266.08 631.4,275.95 632.2,267.89 633,274.94 633.8,266.19 634.6,276.47 635.4,262.77 636.2,272.09 637,268.32 637.8,274.56 638.6,265.2 639.4,270.99 640.2,263.44 641,279.6 641.8,263.2 642.6,273.46 643.4,262.6 644.2,278.88 645,266.52 645.8,271.7 646.6,263.54 647.4,273.42 648.2,266.11 649,272.12 649.8,268.17 650.6,276.29 651.4,262.79 652.2,282.47 653,268.01 653.8,275.47 654.6,267.17 655.4,275.82 656.2,266.83 657,270.09 657.8,265.17 658.6,276.89 659.4,265.22 660.2,274.95 661,266.2 661.8,272.37 662.6,266.72 663.4,276.41 664.2,267.05 665,276.75 665.8,265.99 666.6,275.28 667.4,266.67 668.2,272.34 669,263.51 669.8,272.9 670.6,263.16 671.4,283.09 672.2,264.58 673,276.8" stroke="#5199e8" stroke-width="0.48" fill="none"/>
<path d="M589 269.5H673" stroke="#3a8ee6" stroke-width="4" opacity="0.22"/>
<line x1="589" y1="300.4" x2="673" y2="300.4" stroke="#c8c8c8" stroke-width="0.7"/>
<line x1="626" y1="300.4" x2="626" y2="301.4" stroke="#bbb" stroke-width="0.5"/>
<line x1="624.5" y1="302.4" x2="627.5" y2="302.4" stroke="#ccc" stroke-width="0.5"/>
<text transform="translate(602.11,248.1) rotate(-90)" fill="#e4202a" font-size="9.2">3017*</text>
<text transform="translate(635.81,248.1) rotate(-90)" fill="#e4202a" font-size="9.2">3033*</text>
<text transform="translate(649.51,241.4) rotate(-90)" fill="#111" font-size="9.2">3039</text>
<text transform="translate(642.89,285.2) rotate(90)" fill="#111" font-size="9.2">3039</text>
</svg>
</body></html>
